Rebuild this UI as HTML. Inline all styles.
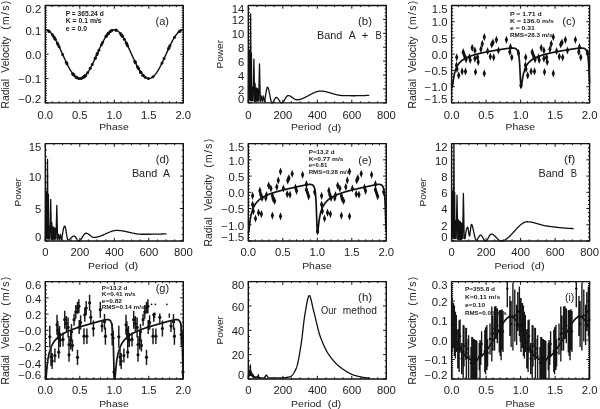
<!DOCTYPE html>
<html><head><meta charset="utf-8"><style>
html,body{margin:0;padding:0;background:#fff;}
svg{display:block;font-family:"Liberation Sans",sans-serif;filter:blur(0.35px);}
text{fill:#222;}
</style></head><body>
<svg width="600" height="409" viewBox="0 0 600 409">
<rect width="600" height="409" fill="#fff"/>
<path d="M45.3 102.9v-3.2M45.3 5.5v3.2M52.2 102.9v-1.6M52.2 5.5v1.6M59.1 102.9v-1.6M59.1 5.5v1.6M66 102.9v-1.6M66 5.5v1.6M72.9 102.9v-1.6M72.9 5.5v1.6M79.8 102.9v-3.2M79.8 5.5v3.2M86.7 102.9v-1.6M86.7 5.5v1.6M93.6 102.9v-1.6M93.6 5.5v1.6M100.5 102.9v-1.6M100.5 5.5v1.6M107.4 102.9v-1.6M107.4 5.5v1.6M114.3 102.9v-3.2M114.3 5.5v3.2M121.2 102.9v-1.6M121.2 5.5v1.6M128.1 102.9v-1.6M128.1 5.5v1.6M135 102.9v-1.6M135 5.5v1.6M141.9 102.9v-1.6M141.9 5.5v1.6M148.8 102.9v-3.2M148.8 5.5v3.2M155.7 102.9v-1.6M155.7 5.5v1.6M162.6 102.9v-1.6M162.6 5.5v1.6M169.5 102.9v-1.6M169.5 5.5v1.6M176.4 102.9v-1.6M176.4 5.5v1.6M183.3 102.9v-3.2M183.3 5.5v3.2M45.3 102.9h3.2M183.3 102.9h-3.2M45.3 100.47h1.6M183.3 100.47h-1.6M45.3 98.03h1.6M183.3 98.03h-1.6M45.3 95.59h1.6M183.3 95.59h-1.6M45.3 93.16h1.6M183.3 93.16h-1.6M45.3 90.73h1.6M183.3 90.73h-1.6M45.3 88.29h1.6M183.3 88.29h-1.6M45.3 85.86h1.6M183.3 85.86h-1.6M45.3 83.42h1.6M183.3 83.42h-1.6M45.3 80.99h1.6M183.3 80.99h-1.6M45.3 78.55h3.2M183.3 78.55h-3.2M45.3 76.12h1.6M183.3 76.12h-1.6M45.3 73.68h1.6M183.3 73.68h-1.6M45.3 71.25h1.6M183.3 71.25h-1.6M45.3 68.81h1.6M183.3 68.81h-1.6M45.3 66.38h1.6M183.3 66.38h-1.6M45.3 63.94h1.6M183.3 63.94h-1.6M45.3 61.51h1.6M183.3 61.51h-1.6M45.3 59.07h1.6M183.3 59.07h-1.6M45.3 56.64h1.6M183.3 56.64h-1.6M45.3 54.2h3.2M183.3 54.2h-3.2M45.3 51.77h1.6M183.3 51.77h-1.6M45.3 49.33h1.6M183.3 49.33h-1.6M45.3 46.89h1.6M183.3 46.89h-1.6M45.3 44.46h1.6M183.3 44.46h-1.6M45.3 42.03h1.6M183.3 42.03h-1.6M45.3 39.59h1.6M183.3 39.59h-1.6M45.3 37.16h1.6M183.3 37.16h-1.6M45.3 34.72h1.6M183.3 34.72h-1.6M45.3 32.28h1.6M183.3 32.28h-1.6M45.3 29.85h3.2M183.3 29.85h-3.2M45.3 27.42h1.6M183.3 27.42h-1.6M45.3 24.98h1.6M183.3 24.98h-1.6M45.3 22.55h1.6M183.3 22.55h-1.6M45.3 20.11h1.6M183.3 20.11h-1.6M45.3 17.68h1.6M183.3 17.68h-1.6M45.3 15.24h1.6M183.3 15.24h-1.6M45.3 12.81h1.6M183.3 12.81h-1.6M45.3 10.37h1.6M183.3 10.37h-1.6M45.3 7.94h1.6M183.3 7.94h-1.6M45.3 5.5h3.2M183.3 5.5h-3.2" stroke="#111" stroke-width="1" fill="none"/>
<rect x="45.3" y="5.5" width="138" height="97.4" fill="none" stroke="#111" stroke-width="1.4" stroke-linejoin="round"/>
<text x="45.3" y="118.8" font-size="10" text-anchor="middle" textLength="15.71" lengthAdjust="spacingAndGlyphs">0.0</text>
<text x="79.8" y="118.8" font-size="10" text-anchor="middle" textLength="15.71" lengthAdjust="spacingAndGlyphs">0.5</text>
<text x="114.3" y="118.8" font-size="10" text-anchor="middle" textLength="15.71" lengthAdjust="spacingAndGlyphs">1.0</text>
<text x="148.8" y="118.8" font-size="10" text-anchor="middle" textLength="15.71" lengthAdjust="spacingAndGlyphs">1.5</text>
<text x="183.3" y="118.8" font-size="10" text-anchor="middle" textLength="15.71" lengthAdjust="spacingAndGlyphs">2.0</text>
<text x="41.3" y="102.95" font-size="10" text-anchor="end" textLength="23" lengthAdjust="spacingAndGlyphs">−0.2</text>
<text x="41.3" y="83.3" font-size="10" text-anchor="end" textLength="23" lengthAdjust="spacingAndGlyphs">−0.1</text>
<text x="41.3" y="58.95" font-size="10" text-anchor="end" textLength="15.71" lengthAdjust="spacingAndGlyphs">0.0</text>
<text x="41.3" y="34.6" font-size="10" text-anchor="end" textLength="15.71" lengthAdjust="spacingAndGlyphs">0.1</text>
<text x="41.3" y="12.55" font-size="10" text-anchor="end" textLength="15.71" lengthAdjust="spacingAndGlyphs">0.2</text>
<text x="99.2" y="130.4" font-size="9.4" textLength="29.5" lengthAdjust="spacingAndGlyphs">Phase</text>
<text x="0" y="0" font-size="10.4" textLength="29.4" lengthAdjust="spacingAndGlyphs" transform="translate(9.2 108.45) rotate(-90)">Radial</text>
<text x="0" y="0" font-size="10.4" textLength="36.2" lengthAdjust="spacingAndGlyphs" transform="translate(9.2 72.65) rotate(-90)">Velocity</text>
<text x="0" y="0" font-size="10.4" textLength="29" lengthAdjust="spacing" transform="translate(9.2 29.75) rotate(-90)">(m/s)</text>
<path d="M45.3 29.85 L45.47 29.85 L45.64 29.86 L45.82 29.88 L45.99 29.9 L46.16 29.93 L46.33 29.96 L46.51 30 L46.68 30.04 L46.85 30.09 L47.02 30.15 L47.2 30.21 L47.37 30.28 L47.54 30.36 L47.71 30.44 L47.89 30.52 L48.06 30.62 L48.23 30.71 L48.4 30.82 L48.58 30.93 L48.75 31.04 L48.92 31.16 L49.09 31.29 L49.27 31.42 L49.44 31.56 L49.61 31.7 L49.78 31.85 L49.96 32.01 L50.13 32.17 L50.3 32.33 L50.47 32.5 L50.65 32.68 L50.82 32.86 L50.99 33.05 L51.16 33.24 L51.34 33.44 L51.51 33.64 L51.68 33.85 L51.85 34.06 L52.03 34.28 L52.2 34.5 L52.37 34.73 L52.54 34.96 L52.72 35.2 L52.89 35.44 L53.06 35.68 L53.23 35.93 L53.41 36.19 L53.58 36.45 L53.75 36.71 L53.92 36.98 L54.1 37.25 L54.27 37.53 L54.44 37.81 L54.61 38.1 L54.79 38.39 L54.96 38.68 L55.13 38.98 L55.3 39.28 L55.48 39.58 L55.65 39.89 L55.82 40.2 L55.99 40.51 L56.17 40.83 L56.34 41.15 L56.51 41.48 L56.68 41.8 L56.86 42.14 L57.03 42.47 L57.2 42.81 L57.38 43.15 L57.55 43.49 L57.72 43.83 L57.89 44.18 L58.06 44.53 L58.24 44.88 L58.41 45.24 L58.58 45.59 L58.75 45.95 L58.93 46.31 L59.1 46.68 L59.27 47.04 L59.45 47.41 L59.62 47.77 L59.79 48.14 L59.96 48.52 L60.13 48.89 L60.31 49.26 L60.48 49.64 L60.65 50.01 L60.82 50.39 L61 50.77 L61.17 51.15 L61.34 51.53 L61.52 51.91 L61.69 52.29 L61.86 52.67 L62.03 53.05 L62.2 53.44 L62.38 53.82 L62.55 54.2 L62.72 54.58 L62.89 54.96 L63.07 55.35 L63.24 55.73 L63.41 56.11 L63.58 56.49 L63.76 56.87 L63.93 57.25 L64.1 57.63 L64.28 58.01 L64.45 58.39 L64.62 58.76 L64.79 59.14 L64.97 59.51 L65.14 59.88 L65.31 60.26 L65.48 60.63 L65.66 60.99 L65.83 61.36 L66 61.72 L66.17 62.09 L66.34 62.45 L66.52 62.81 L66.69 63.16 L66.86 63.52 L67.03 63.87 L67.21 64.22 L67.38 64.57 L67.55 64.91 L67.72 65.25 L67.9 65.59 L68.07 65.93 L68.24 66.26 L68.41 66.6 L68.59 66.92 L68.76 67.25 L68.93 67.57 L69.11 67.89 L69.28 68.2 L69.45 68.51 L69.62 68.82 L69.79 69.12 L69.97 69.42 L70.14 69.72 L70.31 70.01 L70.48 70.3 L70.66 70.59 L70.83 70.87 L71 71.15 L71.17 71.42 L71.35 71.69 L71.52 71.95 L71.69 72.21 L71.86 72.47 L72.04 72.72 L72.21 72.96 L72.38 73.2 L72.56 73.44 L72.73 73.67 L72.9 73.9 L73.07 74.12 L73.25 74.34 L73.42 74.55 L73.59 74.76 L73.76 74.96 L73.94 75.16 L74.11 75.35 L74.28 75.54 L74.45 75.72 L74.62 75.9 L74.8 76.07 L74.97 76.23 L75.14 76.39 L75.31 76.55 L75.49 76.7 L75.66 76.84 L75.83 76.98 L76 77.11 L76.18 77.24 L76.35 77.36 L76.52 77.47 L76.69 77.58 L76.87 77.69 L77.04 77.78 L77.21 77.88 L77.38 77.96 L77.56 78.04 L77.73 78.12 L77.9 78.19 L78.08 78.25 L78.25 78.31 L78.42 78.36 L78.59 78.4 L78.76 78.44 L78.94 78.47 L79.11 78.5 L79.28 78.52 L79.45 78.54 L79.63 78.55 L79.8 78.55 L79.97 78.55 L80.14 78.54 L80.32 78.52 L80.49 78.5 L80.66 78.47 L80.84 78.44 L81.01 78.4 L81.18 78.36 L81.35 78.31 L81.53 78.25 L81.7 78.19 L81.87 78.12 L82.04 78.04 L82.22 77.96 L82.39 77.88 L82.56 77.78 L82.73 77.69 L82.91 77.58 L83.08 77.47 L83.25 77.36 L83.42 77.24 L83.59 77.11 L83.77 76.98 L83.94 76.84 L84.11 76.7 L84.28 76.55 L84.46 76.39 L84.63 76.23 L84.8 76.07 L84.97 75.9 L85.15 75.72 L85.32 75.54 L85.49 75.35 L85.66 75.16 L85.84 74.96 L86.01 74.76 L86.18 74.55 L86.35 74.34 L86.53 74.12 L86.7 73.9 L86.87 73.67 L87.04 73.44 L87.22 73.2 L87.39 72.96 L87.56 72.72 L87.73 72.47 L87.91 72.21 L88.08 71.95 L88.25 71.69 L88.42 71.42 L88.6 71.15 L88.77 70.87 L88.94 70.59 L89.11 70.3 L89.29 70.01 L89.46 69.72 L89.63 69.42 L89.81 69.12 L89.98 68.82 L90.15 68.51 L90.32 68.2 L90.5 67.89 L90.67 67.57 L90.84 67.25 L91.01 66.92 L91.19 66.6 L91.36 66.26 L91.53 65.93 L91.7 65.59 L91.88 65.25 L92.05 64.91 L92.22 64.57 L92.39 64.22 L92.56 63.87 L92.74 63.52 L92.91 63.16 L93.08 62.81 L93.25 62.45 L93.43 62.09 L93.6 61.72 L93.77 61.36 L93.94 60.99 L94.12 60.63 L94.29 60.26 L94.46 59.88 L94.63 59.51 L94.81 59.14 L94.98 58.76 L95.15 58.39 L95.32 58.01 L95.5 57.63 L95.67 57.25 L95.84 56.87 L96.01 56.49 L96.19 56.11 L96.36 55.73 L96.53 55.35 L96.7 54.96 L96.88 54.58 L97.05 54.2 L97.22 53.82 L97.39 53.44 L97.57 53.05 L97.74 52.67 L97.91 52.29 L98.09 51.91 L98.26 51.53 L98.43 51.15 L98.6 50.77 L98.78 50.39 L98.95 50.01 L99.12 49.64 L99.29 49.26 L99.47 48.89 L99.64 48.52 L99.81 48.14 L99.98 47.77 L100.16 47.41 L100.33 47.04 L100.5 46.68 L100.67 46.31 L100.84 45.95 L101.02 45.59 L101.19 45.24 L101.36 44.88 L101.53 44.53 L101.71 44.18 L101.88 43.83 L102.05 43.49 L102.22 43.15 L102.4 42.81 L102.57 42.47 L102.74 42.14 L102.91 41.8 L103.09 41.48 L103.26 41.15 L103.43 40.83 L103.6 40.51 L103.78 40.2 L103.95 39.89 L104.12 39.58 L104.29 39.28 L104.47 38.98 L104.64 38.68 L104.81 38.39 L104.98 38.1 L105.16 37.81 L105.33 37.53 L105.5 37.25 L105.67 36.98 L105.85 36.71 L106.02 36.45 L106.19 36.19 L106.36 35.93 L106.54 35.68 L106.71 35.44 L106.88 35.2 L107.06 34.96 L107.23 34.73 L107.4 34.5 L107.57 34.28 L107.75 34.06 L107.92 33.85 L108.09 33.64 L108.26 33.44 L108.44 33.24 L108.61 33.05 L108.78 32.86 L108.95 32.68 L109.12 32.5 L109.3 32.33 L109.47 32.17 L109.64 32.01 L109.81 31.85 L109.99 31.7 L110.16 31.56 L110.33 31.42 L110.5 31.29 L110.68 31.16 L110.85 31.04 L111.02 30.93 L111.2 30.82 L111.37 30.71 L111.54 30.62 L111.71 30.52 L111.88 30.44 L112.06 30.36 L112.23 30.28 L112.4 30.21 L112.57 30.15 L112.75 30.09 L112.92 30.04 L113.09 30 L113.27 29.96 L113.44 29.93 L113.61 29.9 L113.78 29.88 L113.95 29.86 L114.13 29.85 L114.3 29.85 L114.47 29.85 L114.65 29.86 L114.82 29.88 L114.99 29.9 L115.16 29.93 L115.34 29.96 L115.51 30 L115.68 30.04 L115.85 30.09 L116.02 30.15 L116.2 30.21 L116.37 30.28 L116.54 30.36 L116.71 30.44 L116.89 30.52 L117.06 30.62 L117.23 30.71 L117.4 30.82 L117.58 30.93 L117.75 31.04 L117.92 31.16 L118.09 31.29 L118.27 31.42 L118.44 31.56 L118.61 31.7 L118.78 31.85 L118.96 32.01 L119.13 32.17 L119.3 32.33 L119.47 32.5 L119.65 32.68 L119.82 32.86 L119.99 33.05 L120.16 33.24 L120.34 33.44 L120.51 33.64 L120.68 33.85 L120.85 34.06 L121.03 34.28 L121.2 34.5 L121.37 34.73 L121.55 34.96 L121.72 35.2 L121.89 35.44 L122.06 35.68 L122.23 35.93 L122.41 36.19 L122.58 36.45 L122.75 36.71 L122.92 36.98 L123.1 37.25 L123.27 37.53 L123.44 37.81 L123.61 38.1 L123.79 38.39 L123.96 38.68 L124.13 38.98 L124.3 39.28 L124.48 39.58 L124.65 39.89 L124.82 40.2 L125 40.51 L125.17 40.83 L125.34 41.15 L125.51 41.48 L125.69 41.8 L125.86 42.14 L126.03 42.47 L126.2 42.81 L126.38 43.15 L126.55 43.49 L126.72 43.83 L126.89 44.18 L127.06 44.53 L127.24 44.88 L127.41 45.24 L127.58 45.59 L127.75 45.95 L127.93 46.31 L128.1 46.68 L128.27 47.04 L128.44 47.41 L128.62 47.77 L128.79 48.14 L128.96 48.52 L129.13 48.89 L129.31 49.26 L129.48 49.64 L129.65 50.01 L129.82 50.39 L130 50.77 L130.17 51.15 L130.34 51.53 L130.51 51.91 L130.69 52.29 L130.86 52.67 L131.03 53.05 L131.2 53.44 L131.38 53.82 L131.55 54.2 L131.72 54.58 L131.9 54.96 L132.07 55.35 L132.24 55.73 L132.41 56.11 L132.59 56.49 L132.76 56.87 L132.93 57.25 L133.1 57.63 L133.28 58.01 L133.45 58.39 L133.62 58.76 L133.79 59.14 L133.96 59.51 L134.14 59.88 L134.31 60.26 L134.48 60.63 L134.65 60.99 L134.83 61.36 L135 61.72 L135.17 62.09 L135.34 62.45 L135.52 62.81 L135.69 63.16 L135.86 63.52 L136.03 63.87 L136.21 64.22 L136.38 64.57 L136.55 64.91 L136.72 65.25 L136.9 65.59 L137.07 65.93 L137.24 66.26 L137.41 66.6 L137.59 66.92 L137.76 67.25 L137.93 67.57 L138.1 67.89 L138.28 68.2 L138.45 68.51 L138.62 68.82 L138.8 69.12 L138.97 69.42 L139.14 69.72 L139.31 70.01 L139.49 70.3 L139.66 70.59 L139.83 70.87 L140 71.15 L140.18 71.42 L140.35 71.69 L140.52 71.95 L140.69 72.21 L140.87 72.47 L141.04 72.72 L141.21 72.96 L141.38 73.2 L141.56 73.44 L141.73 73.67 L141.9 73.9 L142.07 74.12 L142.25 74.34 L142.42 74.55 L142.59 74.76 L142.76 74.96 L142.94 75.16 L143.11 75.35 L143.28 75.54 L143.45 75.72 L143.62 75.9 L143.8 76.07 L143.97 76.23 L144.14 76.39 L144.31 76.55 L144.49 76.7 L144.66 76.84 L144.83 76.98 L145 77.11 L145.18 77.24 L145.35 77.36 L145.52 77.47 L145.69 77.58 L145.87 77.69 L146.04 77.78 L146.21 77.88 L146.38 77.96 L146.56 78.04 L146.73 78.12 L146.9 78.19 L147.07 78.25 L147.25 78.31 L147.42 78.36 L147.59 78.4 L147.76 78.44 L147.94 78.47 L148.11 78.5 L148.28 78.52 L148.45 78.54 L148.63 78.55 L148.8 78.55 L148.97 78.55 L149.15 78.54 L149.32 78.52 L149.49 78.5 L149.66 78.47 L149.84 78.44 L150.01 78.4 L150.18 78.36 L150.35 78.31 L150.53 78.25 L150.7 78.19 L150.87 78.12 L151.04 78.04 L151.22 77.96 L151.39 77.88 L151.56 77.78 L151.73 77.69 L151.9 77.58 L152.08 77.47 L152.25 77.36 L152.42 77.24 L152.59 77.11 L152.77 76.98 L152.94 76.84 L153.11 76.7 L153.28 76.55 L153.46 76.39 L153.63 76.23 L153.8 76.07 L153.97 75.9 L154.15 75.72 L154.32 75.54 L154.49 75.35 L154.66 75.16 L154.84 74.96 L155.01 74.76 L155.18 74.55 L155.35 74.34 L155.53 74.12 L155.7 73.9 L155.87 73.67 L156.05 73.44 L156.22 73.2 L156.39 72.96 L156.56 72.72 L156.74 72.47 L156.91 72.21 L157.08 71.95 L157.25 71.69 L157.43 71.42 L157.6 71.15 L157.77 70.87 L157.94 70.59 L158.12 70.3 L158.29 70.01 L158.46 69.72 L158.63 69.42 L158.81 69.12 L158.98 68.82 L159.15 68.51 L159.32 68.2 L159.5 67.89 L159.67 67.57 L159.84 67.25 L160.01 66.92 L160.19 66.6 L160.36 66.26 L160.53 65.93 L160.7 65.59 L160.88 65.25 L161.05 64.91 L161.22 64.57 L161.39 64.22 L161.56 63.87 L161.74 63.52 L161.91 63.16 L162.08 62.81 L162.25 62.45 L162.43 62.09 L162.6 61.72 L162.77 61.36 L162.94 60.99 L163.12 60.63 L163.29 60.26 L163.46 59.88 L163.63 59.51 L163.81 59.14 L163.98 58.76 L164.15 58.39 L164.32 58.01 L164.5 57.63 L164.67 57.25 L164.84 56.87 L165.01 56.49 L165.19 56.11 L165.36 55.73 L165.53 55.35 L165.7 54.96 L165.88 54.58 L166.05 54.2 L166.22 53.82 L166.4 53.44 L166.57 53.05 L166.74 52.67 L166.91 52.29 L167.09 51.91 L167.26 51.53 L167.43 51.15 L167.6 50.77 L167.78 50.39 L167.95 50.01 L168.12 49.64 L168.29 49.26 L168.47 48.89 L168.64 48.52 L168.81 48.14 L168.98 47.77 L169.15 47.41 L169.33 47.04 L169.5 46.68 L169.67 46.31 L169.84 45.95 L170.02 45.59 L170.19 45.24 L170.36 44.88 L170.53 44.53 L170.71 44.18 L170.88 43.83 L171.05 43.49 L171.22 43.15 L171.4 42.81 L171.57 42.47 L171.74 42.14 L171.91 41.8 L172.09 41.48 L172.26 41.15 L172.43 40.83 L172.6 40.51 L172.78 40.2 L172.95 39.89 L173.12 39.58 L173.3 39.28 L173.47 38.98 L173.64 38.68 L173.81 38.39 L173.99 38.1 L174.16 37.81 L174.33 37.53 L174.5 37.25 L174.68 36.98 L174.85 36.71 L175.02 36.45 L175.19 36.19 L175.37 35.93 L175.54 35.68 L175.71 35.44 L175.88 35.2 L176.06 34.96 L176.23 34.73 L176.4 34.5 L176.57 34.28 L176.75 34.06 L176.92 33.85 L177.09 33.64 L177.26 33.44 L177.44 33.24 L177.61 33.05 L177.78 32.86 L177.95 32.68 L178.12 32.5 L178.3 32.33 L178.47 32.17 L178.64 32.01 L178.81 31.85 L178.99 31.7 L179.16 31.56 L179.33 31.42 L179.5 31.29 L179.68 31.16 L179.85 31.04 L180.02 30.93 L180.19 30.82 L180.37 30.71 L180.54 30.62 L180.71 30.52 L180.88 30.44 L181.06 30.36 L181.23 30.28 L181.4 30.21 L181.57 30.15 L181.75 30.09 L181.92 30.04 L182.09 30 L182.26 29.96 L182.44 29.93 L182.61 29.9 L182.78 29.88 L182.95 29.86 L183.13 29.85 L183.3 29.85" fill="none" stroke="#111" stroke-width="1.45" stroke-linejoin="round"/>
<g fill="#111"><circle cx="48.61" cy="30.95" r="1.5"/><circle cx="49.42" cy="31.55" r="1.5"/><circle cx="52.4" cy="34.77" r="1.5"/><circle cx="53.79" cy="36.77" r="1.5"/><circle cx="54.54" cy="37.98" r="1.5"/><circle cx="55.31" cy="39.29" r="1.5"/><circle cx="57.34" cy="43.07" r="1.5"/><circle cx="58.03" cy="44.45" r="1.5"/><circle cx="59.11" cy="46.71" r="1.5"/><circle cx="62.63" cy="54.38" r="1.5"/><circle cx="66.26" cy="62.26" r="1.5"/><circle cx="66.95" cy="63.69" r="1.5"/><circle cx="72.76" cy="73.71" r="1.5"/><circle cx="73.09" cy="74.14" r="1.5"/><circle cx="73.65" cy="74.83" r="1.5"/><circle cx="73.9" cy="75.12" r="1.5"/><circle cx="75.93" cy="77.05" r="1.5"/><circle cx="76.36" cy="77.36" r="1.5"/><circle cx="77.12" cy="77.83" r="1.5"/><circle cx="78.79" cy="78.45" r="1.5"/><circle cx="81.08" cy="78.39" r="1.5"/><circle cx="82.45" cy="77.84" r="1.5"/><circle cx="83.66" cy="77.06" r="1.5"/><circle cx="83.73" cy="77.01" r="1.5"/><circle cx="84.42" cy="76.43" r="1.5"/><circle cx="84.43" cy="76.42" r="1.5"/><circle cx="85.44" cy="75.4" r="1.5"/><circle cx="85.57" cy="75.27" r="1.5"/><circle cx="87.58" cy="72.69" r="1.5"/><circle cx="90.26" cy="68.31" r="1.5"/><circle cx="92.2" cy="64.61" r="1.5"/><circle cx="95.2" cy="58.29" r="1.5"/><circle cx="95.28" cy="58.11" r="1.5"/><circle cx="96.86" cy="54.63" r="1.5"/><circle cx="97.46" cy="53.28" r="1.5"/><circle cx="98.84" cy="50.25" r="1.5"/><circle cx="101.4" cy="44.81" r="1.5"/><circle cx="102.58" cy="42.44" r="1.5"/><circle cx="106.08" cy="36.35" r="1.5"/><circle cx="106.13" cy="36.28" r="1.5"/><circle cx="106.73" cy="35.41" r="1.5"/><circle cx="108.04" cy="33.7" r="1.5"/><circle cx="108.34" cy="33.35" r="1.5"/><circle cx="108.46" cy="33.21" r="1.5"/><circle cx="110.01" cy="31.68" r="1.5"/><circle cx="110.86" cy="31.03" r="1.5"/><circle cx="112.03" cy="30.37" r="1.5"/><circle cx="115.79" cy="30.08" r="1.5"/><circle cx="116.24" cy="30.23" r="1.5"/><circle cx="120.46" cy="33.58" r="1.5"/><circle cx="121.31" cy="34.64" r="1.5"/><circle cx="122.28" cy="36" r="1.5"/><circle cx="122.42" cy="36.21" r="1.5"/><circle cx="124.35" cy="39.35" r="1.5"/><circle cx="126.2" cy="42.81" r="1.5"/><circle cx="126.84" cy="44.07" r="1.5"/><circle cx="127.64" cy="45.71" r="1.5"/><circle cx="134.88" cy="61.48" r="1.5"/><circle cx="135.07" cy="61.86" r="1.5"/><circle cx="135.47" cy="62.71" r="1.5"/><circle cx="137.5" cy="66.76" r="1.5"/><circle cx="138.09" cy="67.86" r="1.5"/><circle cx="138.62" cy="68.82" r="1.5"/><circle cx="140.41" cy="71.78" r="1.5"/><circle cx="140.67" cy="72.18" r="1.5"/><circle cx="140.72" cy="72.26" r="1.5"/><circle cx="140.95" cy="72.59" r="1.5"/><circle cx="142.96" cy="75.19" r="1.5"/><circle cx="143.02" cy="75.26" r="1.5"/><circle cx="145.2" cy="77.26" r="1.5"/><circle cx="148.35" cy="78.53" r="1.5"/><circle cx="152.98" cy="76.8" r="1.5"/><circle cx="162.01" cy="62.95" r="1.5"/><circle cx="164.05" cy="58.6" r="1.5"/><circle cx="168.53" cy="48.75" r="1.5"/><circle cx="168.99" cy="47.76" r="1.5"/><circle cx="169.89" cy="45.86" r="1.5"/><circle cx="174.52" cy="37.23" r="1.5"/><circle cx="179.38" cy="31.38" r="1.5"/><circle cx="179.99" cy="30.95" r="1.5"/></g>
<text x="65.7" y="15.9" font-size="6.3" font-weight="bold" textLength="38" lengthAdjust="spacingAndGlyphs" fill="#2a2a2a">P = 365.24 d</text>
<text x="65.7" y="23.2" font-size="6.3" font-weight="bold" textLength="36" lengthAdjust="spacingAndGlyphs" fill="#2a2a2a">K = 0.1 m/s</text>
<text x="65.7" y="30.5" font-size="6.3" font-weight="bold" textLength="21.3" lengthAdjust="spacingAndGlyphs" fill="#2a2a2a">e = 0.0</text>
<text x="155.5" y="24.8" font-size="11.5" textLength="13.5" lengthAdjust="spacingAndGlyphs">(a)</text>
<path d="M248.3 102.9v-3.2M248.3 5.5v3.2M256.93 102.9v-1.6M256.93 5.5v1.6M265.55 102.9v-1.6M265.55 5.5v1.6M274.18 102.9v-1.6M274.18 5.5v1.6M282.8 102.9v-3.2M282.8 5.5v3.2M291.43 102.9v-1.6M291.43 5.5v1.6M300.05 102.9v-1.6M300.05 5.5v1.6M308.68 102.9v-1.6M308.68 5.5v1.6M317.3 102.9v-3.2M317.3 5.5v3.2M325.93 102.9v-1.6M325.93 5.5v1.6M334.55 102.9v-1.6M334.55 5.5v1.6M343.18 102.9v-1.6M343.18 5.5v1.6M351.8 102.9v-3.2M351.8 5.5v3.2M360.43 102.9v-1.6M360.43 5.5v1.6M369.05 102.9v-1.6M369.05 5.5v1.6M377.68 102.9v-1.6M377.68 5.5v1.6M386.3 102.9v-3.2M386.3 5.5v3.2M248.3 102.9h3.2M386.3 102.9h-3.2M248.3 99.42h1.6M386.3 99.42h-1.6M248.3 95.94h1.6M386.3 95.94h-1.6M248.3 92.46h1.6M386.3 92.46h-1.6M248.3 88.99h3.2M386.3 88.99h-3.2M248.3 85.51h1.6M386.3 85.51h-1.6M248.3 82.03h1.6M386.3 82.03h-1.6M248.3 78.55h1.6M386.3 78.55h-1.6M248.3 75.07h3.2M386.3 75.07h-3.2M248.3 71.59h1.6M386.3 71.59h-1.6M248.3 68.11h1.6M386.3 68.11h-1.6M248.3 64.64h1.6M386.3 64.64h-1.6M248.3 61.16h3.2M386.3 61.16h-3.2M248.3 57.68h1.6M386.3 57.68h-1.6M248.3 54.2h1.6M386.3 54.2h-1.6M248.3 50.72h1.6M386.3 50.72h-1.6M248.3 47.24h3.2M386.3 47.24h-3.2M248.3 43.76h1.6M386.3 43.76h-1.6M248.3 40.29h1.6M386.3 40.29h-1.6M248.3 36.81h1.6M386.3 36.81h-1.6M248.3 33.33h3.2M386.3 33.33h-3.2M248.3 29.85h1.6M386.3 29.85h-1.6M248.3 26.37h1.6M386.3 26.37h-1.6M248.3 22.89h1.6M386.3 22.89h-1.6M248.3 19.41h3.2M386.3 19.41h-3.2M248.3 15.94h1.6M386.3 15.94h-1.6M248.3 12.46h1.6M386.3 12.46h-1.6M248.3 8.98h1.6M386.3 8.98h-1.6M248.3 5.5h3.2M386.3 5.5h-3.2" stroke="#111" stroke-width="1" fill="none"/>
<rect x="248.3" y="5.5" width="138" height="97.4" fill="none" stroke="#111" stroke-width="1.4" stroke-linejoin="round"/>
<text x="248.3" y="118.8" font-size="10" text-anchor="middle" textLength="6.28" lengthAdjust="spacingAndGlyphs">0</text>
<text x="282.8" y="118.8" font-size="10" text-anchor="middle" textLength="18.85" lengthAdjust="spacingAndGlyphs">200</text>
<text x="317.3" y="118.8" font-size="10" text-anchor="middle" textLength="18.85" lengthAdjust="spacingAndGlyphs">400</text>
<text x="351.8" y="118.8" font-size="10" text-anchor="middle" textLength="18.85" lengthAdjust="spacingAndGlyphs">600</text>
<text x="386.3" y="118.8" font-size="10" text-anchor="middle" textLength="18.85" lengthAdjust="spacingAndGlyphs">800</text>
<text x="244.3" y="102.95" font-size="10" text-anchor="end" textLength="6.28" lengthAdjust="spacingAndGlyphs">0</text>
<text x="244.3" y="93.74" font-size="10" text-anchor="end" textLength="6.28" lengthAdjust="spacingAndGlyphs">2</text>
<text x="244.3" y="79.82" font-size="10" text-anchor="end" textLength="6.28" lengthAdjust="spacingAndGlyphs">4</text>
<text x="244.3" y="65.91" font-size="10" text-anchor="end" textLength="6.28" lengthAdjust="spacingAndGlyphs">6</text>
<text x="244.3" y="51.99" font-size="10" text-anchor="end" textLength="6.28" lengthAdjust="spacingAndGlyphs">8</text>
<text x="244.3" y="38.08" font-size="10" text-anchor="end" textLength="12.57" lengthAdjust="spacingAndGlyphs">10</text>
<text x="244.3" y="24.16" font-size="10" text-anchor="end" textLength="12.57" lengthAdjust="spacingAndGlyphs">12</text>
<text x="244.3" y="12.55" font-size="10" text-anchor="end" textLength="12.57" lengthAdjust="spacingAndGlyphs">14</text>
<text x="291.1" y="130.4" font-size="9.4" textLength="30.3" lengthAdjust="spacingAndGlyphs">Period</text>
<text x="327.8" y="130.7" font-size="9.8" textLength="13.5" lengthAdjust="spacingAndGlyphs">(d)</text>
<text x="0" y="0" font-size="9.5" text-anchor="middle" textLength="28.5" lengthAdjust="spacingAndGlyphs" transform="translate(223 54.2) rotate(-90)">Power</text>
<path d="M248.3 102.9 L248.4 99.42 L248.68 50.03 L248.97 99.42 L249.25 50.03 L249.53 99.42 L249.82 50.03 L250 100.81 L250.6 13.85 L251.2 100.81 L251.2 99.42 L251.45 52.81 L251.7 100.81 L252.23 86.9 L252.77 100.81 L253.1 100.81 L253.9 59.07 L254.7 100.81 L254.7 101.51 L255.1 83.42 L255.5 101.51 L255.9 100.81 L256.38 87.93 L256.87 100.81 L257.35 88.6 L257.83 100.81 L258.32 89.28 L258.7 100.81 L259.5 63.94 L260.3 100.81 L260.3 101.51 L261.3 95.94 L262.3 101.51 L263.3 95.94 L264.3 101.51 L264.8 101.51 L265.1 99.02 L265.4 96.67 L265.7 94.5 L266 92.54 L266.3 90.83 L266.6 89.4 L266.9 88.3 L267.2 87.55 L267.5 87.2 L267.8 87.27 L268.1 87.74 L268.4 88.55 L268.7 89.63 L269 90.94 L269.3 92.4 L269.6 93.97 L269.9 95.57 L270.2 97.16 L270.5 98.66 L270.8 100.03 L271.1 101.2 L271.4 102.1 L271.7 102.69 L272 102.9 L272.3 102.82 L272.6 102.61 L272.9 102.28 L273.2 101.85 L273.5 101.36 L273.8 100.82 L274.1 100.25 L274.4 99.67 L274.7 99.12 L275 98.61 L275.3 98.16 L275.6 97.79 L275.9 97.54 L276.2 97.41 L276.5 97.43 L276.8 97.54 L277.1 97.73 L277.4 98 L277.7 98.32 L278 98.7 L278.3 99.11 L278.6 99.55 L278.9 100 L279.2 100.46 L279.5 100.91 L279.8 101.34 L280.1 101.74 L280.4 102.1 L280.7 102.4 L281 102.65 L281.3 102.81 L281.6 102.89 L281.9 102.88 L282.2 102.78 L282.5 102.59 L282.8 102.34 L283.1 102.02 L283.4 101.65 L283.7 101.24 L284 100.78 L284.3 100.3 L284.6 99.81 L284.9 99.3 L285.2 98.79 L285.5 98.29 L285.8 97.8 L286.1 97.34 L286.4 96.91 L286.7 96.52 L287 96.19 L287.3 95.91 L287.6 95.7 L287.9 95.57 L288.2 95.53 L288.5 95.54 L288.8 95.58 L289.1 95.66 L289.4 95.75 L289.7 95.87 L290 96.01 L290.3 96.16 L290.6 96.33 L290.9 96.52 L291.2 96.71 L291.5 96.92 L291.8 97.13 L292.1 97.35 L292.4 97.57 L292.7 97.8 L293 98.02 L293.3 98.23 L293.6 98.44 L293.9 98.65 L294.2 98.84 L294.5 99.02 L294.8 99.19 L295.1 99.34 L295.4 99.47 L295.7 99.58 L296 99.67 L296.3 99.73 L296.6 99.76 L296.9 99.77 L297.2 99.76 L297.5 99.75 L297.8 99.72 L298.1 99.69 L298.4 99.66 L298.7 99.61 L299 99.56 L299.3 99.5 L299.6 99.44 L299.9 99.37 L300.2 99.29 L300.5 99.21 L300.8 99.12 L301.1 99.03 L301.4 98.93 L301.7 98.82 L302 98.71 L302.3 98.6 L302.6 98.48 L302.9 98.36 L303.2 98.23 L303.5 98.1 L303.8 97.97 L304.1 97.83 L304.4 97.69 L304.7 97.55 L305 97.4 L305.3 97.25 L305.6 97.1 L305.9 96.95 L306.2 96.79 L306.5 96.63 L306.8 96.48 L307.1 96.32 L307.4 96.15 L307.7 95.99 L308 95.83 L308.3 95.67 L308.6 95.5 L308.9 95.34 L309.2 95.18 L309.5 95.01 L309.8 94.85 L310.1 94.69 L310.4 94.53 L310.7 94.37 L311 94.21 L311.3 94.05 L311.6 93.9 L311.9 93.74 L312.2 93.59 L312.5 93.44 L312.8 93.3 L313.1 93.15 L313.4 93.01 L313.7 92.87 L314 92.74 L314.3 92.61 L314.6 92.48 L314.9 92.36 L315.2 92.24 L315.5 92.13 L315.8 92.02 L316.1 91.92 L316.4 91.82 L316.7 91.72 L317 91.63 L317.3 91.55 L317.6 91.47 L317.9 91.4 L318.2 91.34 L318.5 91.28 L318.8 91.23 L319.1 91.18 L319.4 91.15 L319.7 91.12 L320 91.09 L320.3 91.08 L320.6 91.07 L320.9 91.07 L321.2 91.08 L321.5 91.09 L321.8 91.11 L322.1 91.13 L322.4 91.15 L322.7 91.18 L323 91.21 L323.3 91.25 L323.6 91.29 L323.9 91.33 L324.2 91.38 L324.5 91.43 L324.8 91.48 L325.1 91.54 L325.4 91.6 L325.7 91.67 L326 91.73 L326.3 91.8 L326.6 91.87 L326.9 91.95 L327.2 92.02 L327.5 92.1 L327.8 92.18 L328.1 92.26 L328.4 92.34 L328.7 92.43 L329 92.51 L329.3 92.6 L329.6 92.69 L329.9 92.78 L330.2 92.87 L330.5 92.96 L330.8 93.05 L331.1 93.14 L331.4 93.23 L331.7 93.32 L332 93.41 L332.3 93.51 L332.6 93.6 L332.9 93.69 L333.2 93.78 L333.5 93.87 L333.8 93.96 L334.1 94.04 L334.4 94.13 L334.7 94.22 L335 94.3 L335.3 94.38 L335.6 94.46 L335.9 94.54 L336.2 94.62 L336.5 94.69 L336.8 94.77 L337.1 94.84 L337.4 94.9 L337.7 94.97 L338 95.03 L338.3 95.09 L338.6 95.15 L338.9 95.2 L339.2 95.25 L339.5 95.29 L339.8 95.34 L340.1 95.38 L340.4 95.41 L340.7 95.44 L341 95.47 L341.3 95.49 L341.6 95.51 L341.9 95.52 L342.2 95.53 L342.5 95.54 L342.8 95.55 L343.1 95.56 L343.4 95.57 L343.7 95.58 L344 95.59 L344.3 95.59 L344.6 95.6 L344.9 95.61 L345.2 95.62 L345.5 95.63 L345.8 95.63 L346.1 95.64 L346.4 95.65 L346.7 95.65 L347 95.66 L347.3 95.67 L347.6 95.67 L347.9 95.68 L348.2 95.68 L348.5 95.69 L348.8 95.69 L349.1 95.7 L349.4 95.7 L349.7 95.71 L350 95.71 L350.3 95.72 L350.6 95.72 L350.9 95.72 L351.2 95.73 L351.5 95.73 L351.8 95.73 L352.1 95.73 L352.4 95.73 L352.7 95.73 L353 95.73 L353.3 95.73 L353.6 95.73 L353.9 95.73 L354.2 95.73 L354.5 95.73 L354.8 95.73 L355.1 95.73 L355.4 95.73 L355.7 95.72 L356 95.72 L356.3 95.72 L356.6 95.72 L356.9 95.71 L357.2 95.71 L357.5 95.71 L357.8 95.7 L358.1 95.7 L358.4 95.69 L358.7 95.69 L359 95.68 L359.3 95.68 L359.6 95.67 L359.9 95.66 L360.2 95.66 L360.5 95.65 L360.8 95.64 L361.1 95.64 L361.4 95.63 L361.7 95.62 L362 95.61 L362.3 95.6 L362.6 95.6 L362.9 95.59 L363.2 95.58 L363.5 95.57 L363.8 95.56 L364.1 95.55 L364.4 95.54 L364.7 95.53 L365 95.51 L365.3 95.5 L365.6 95.49 L365.9 95.48 L366.2 95.47 L366.5 95.45 L366.8 95.44 L367.1 95.43 L367.4 95.41 L367.7 95.4 L368 95.39 L368.3 95.37 L368.6 95.36 L368.9 95.34 L369.2 95.33" fill="none" stroke="#111" stroke-width="1.3" stroke-linejoin="round"/>
<text x="358" y="25.2" font-size="11.5" textLength="14" lengthAdjust="spacingAndGlyphs">(b)</text>
<text x="317.1" y="38.6" font-size="11" textLength="25.3" lengthAdjust="spacingAndGlyphs">Band</text>
<text x="348.75" y="38.6" font-size="11" textLength="7" lengthAdjust="spacingAndGlyphs">A</text>
<text x="361.4" y="38.6" font-size="11" textLength="7" lengthAdjust="spacingAndGlyphs">+</text>
<text x="375.4" y="38.6" font-size="11" textLength="6.3" lengthAdjust="spacingAndGlyphs">B</text>
<path d="M451.6 102.9v-3.2M451.6 5.5v3.2M458.5 102.9v-1.6M458.5 5.5v1.6M465.4 102.9v-1.6M465.4 5.5v1.6M472.3 102.9v-1.6M472.3 5.5v1.6M479.2 102.9v-1.6M479.2 5.5v1.6M486.1 102.9v-3.2M486.1 5.5v3.2M493 102.9v-1.6M493 5.5v1.6M499.9 102.9v-1.6M499.9 5.5v1.6M506.8 102.9v-1.6M506.8 5.5v1.6M513.7 102.9v-1.6M513.7 5.5v1.6M520.6 102.9v-3.2M520.6 5.5v3.2M527.5 102.9v-1.6M527.5 5.5v1.6M534.4 102.9v-1.6M534.4 5.5v1.6M541.3 102.9v-1.6M541.3 5.5v1.6M548.2 102.9v-1.6M548.2 5.5v1.6M555.1 102.9v-3.2M555.1 5.5v3.2M562 102.9v-1.6M562 5.5v1.6M568.9 102.9v-1.6M568.9 5.5v1.6M575.8 102.9v-1.6M575.8 5.5v1.6M582.7 102.9v-1.6M582.7 5.5v1.6M589.6 102.9v-3.2M589.6 5.5v3.2M451.6 102.9h3.2M589.6 102.9h-3.2M451.6 99.65h1.6M589.6 99.65h-1.6M451.6 96.41h1.6M589.6 96.41h-1.6M451.6 93.16h1.6M589.6 93.16h-1.6M451.6 89.91h1.6M589.6 89.91h-1.6M451.6 86.67h3.2M589.6 86.67h-3.2M451.6 83.42h1.6M589.6 83.42h-1.6M451.6 80.17h1.6M589.6 80.17h-1.6M451.6 76.93h1.6M589.6 76.93h-1.6M451.6 73.68h1.6M589.6 73.68h-1.6M451.6 70.43h3.2M589.6 70.43h-3.2M451.6 67.19h1.6M589.6 67.19h-1.6M451.6 63.94h1.6M589.6 63.94h-1.6M451.6 60.69h1.6M589.6 60.69h-1.6M451.6 57.45h1.6M589.6 57.45h-1.6M451.6 54.2h3.2M589.6 54.2h-3.2M451.6 50.95h1.6M589.6 50.95h-1.6M451.6 47.71h1.6M589.6 47.71h-1.6M451.6 44.46h1.6M589.6 44.46h-1.6M451.6 41.21h1.6M589.6 41.21h-1.6M451.6 37.97h3.2M589.6 37.97h-3.2M451.6 34.72h1.6M589.6 34.72h-1.6M451.6 31.47h1.6M589.6 31.47h-1.6M451.6 28.23h1.6M589.6 28.23h-1.6M451.6 24.98h1.6M589.6 24.98h-1.6M451.6 21.73h3.2M589.6 21.73h-3.2M451.6 18.49h1.6M589.6 18.49h-1.6M451.6 15.24h1.6M589.6 15.24h-1.6M451.6 11.99h1.6M589.6 11.99h-1.6M451.6 8.75h1.6M589.6 8.75h-1.6M451.6 5.5h3.2M589.6 5.5h-3.2" stroke="#111" stroke-width="1" fill="none"/>
<rect x="451.6" y="5.5" width="138" height="97.4" fill="none" stroke="#111" stroke-width="1.4" stroke-linejoin="round"/>
<text x="451.6" y="118.8" font-size="10" text-anchor="middle" textLength="15.71" lengthAdjust="spacingAndGlyphs">0.0</text>
<text x="486.1" y="118.8" font-size="10" text-anchor="middle" textLength="15.71" lengthAdjust="spacingAndGlyphs">0.5</text>
<text x="520.6" y="118.8" font-size="10" text-anchor="middle" textLength="15.71" lengthAdjust="spacingAndGlyphs">1.0</text>
<text x="555.1" y="118.8" font-size="10" text-anchor="middle" textLength="15.71" lengthAdjust="spacingAndGlyphs">1.5</text>
<text x="589.6" y="118.8" font-size="10" text-anchor="middle" textLength="15.71" lengthAdjust="spacingAndGlyphs">2.0</text>
<text x="447.6" y="102.95" font-size="10" text-anchor="end" textLength="23" lengthAdjust="spacingAndGlyphs">−1.5</text>
<text x="447.6" y="91.42" font-size="10" text-anchor="end" textLength="23" lengthAdjust="spacingAndGlyphs">−1.0</text>
<text x="447.6" y="75.18" font-size="10" text-anchor="end" textLength="23" lengthAdjust="spacingAndGlyphs">−0.5</text>
<text x="447.6" y="58.95" font-size="10" text-anchor="end" textLength="15.71" lengthAdjust="spacingAndGlyphs">0.0</text>
<text x="447.6" y="42.72" font-size="10" text-anchor="end" textLength="15.71" lengthAdjust="spacingAndGlyphs">0.5</text>
<text x="447.6" y="26.48" font-size="10" text-anchor="end" textLength="15.71" lengthAdjust="spacingAndGlyphs">1.0</text>
<text x="447.6" y="12.55" font-size="10" text-anchor="end" textLength="15.71" lengthAdjust="spacingAndGlyphs">1.5</text>
<text x="505.5" y="130.4" font-size="9.4" textLength="29.5" lengthAdjust="spacingAndGlyphs">Phase</text>
<text x="0" y="0" font-size="10.4" textLength="29.4" lengthAdjust="spacingAndGlyphs" transform="translate(415.6 108.45) rotate(-90)">Radial</text>
<text x="0" y="0" font-size="10.4" textLength="36.2" lengthAdjust="spacingAndGlyphs" transform="translate(415.6 72.65) rotate(-90)">Velocity</text>
<text x="0" y="0" font-size="10.4" textLength="29" lengthAdjust="spacing" transform="translate(415.6 29.75) rotate(-90)">(m/s)</text>
<path d="M451.6 82.89 L451.69 84.27 L451.77 85.4 L451.86 86.27 L451.95 86.87 L452.03 87.21 L452.12 87.33 L452.2 87.25 L452.29 87.01 L452.38 86.64 L452.46 86.18 L452.55 85.64 L452.64 85.05 L452.72 84.43 L452.81 83.78 L452.89 83.14 L452.98 82.49 L453.07 81.85 L453.15 81.22 L453.24 80.6 L453.33 80 L453.41 79.42 L453.5 78.85 L453.58 78.31 L453.67 77.78 L453.76 77.27 L453.84 76.78 L453.93 76.3 L454.02 75.85 L454.1 75.41 L454.19 74.98 L454.27 74.57 L454.36 74.17 L454.45 73.79 L454.53 73.42 L454.62 73.07 L454.71 72.72 L454.79 72.39 L454.88 72.07 L454.96 71.75 L455.05 71.45 L455.14 71.16 L455.22 70.87 L455.31 70.6 L455.4 70.33 L455.48 70.07 L455.57 69.82 L455.65 69.57 L455.74 69.33 L455.83 69.1 L455.91 68.88 L456 68.66 L456.09 68.44 L456.17 68.23 L456.26 68.03 L456.34 67.83 L456.43 67.64 L456.52 67.45 L456.6 67.26 L456.69 67.08 L456.78 66.91 L456.86 66.74 L456.95 66.57 L457.03 66.4 L457.12 66.24 L457.21 66.08 L457.29 65.93 L457.38 65.78 L457.47 65.63 L457.55 65.48 L457.64 65.34 L457.72 65.2 L457.81 65.07 L457.9 64.93 L457.98 64.8 L458.07 64.67 L458.16 64.54 L458.24 64.42 L458.33 64.3 L458.41 64.18 L458.5 64.06 L458.59 63.94 L458.67 63.83 L458.76 63.72 L458.85 63.61 L458.93 63.5 L459.02 63.39 L459.1 63.29 L459.19 63.18 L459.28 63.08 L459.36 62.98 L459.45 62.88 L459.54 62.78 L459.62 62.69 L459.71 62.59 L459.79 62.5 L459.88 62.41 L459.97 62.32 L460.05 62.23 L460.14 62.14 L460.23 62.05 L460.31 61.97 L460.4 61.88 L460.48 61.8 L460.57 61.72 L460.66 61.64 L460.74 61.56 L460.83 61.48 L460.92 61.4 L461 61.32 L461.09 61.25 L461.17 61.17 L461.26 61.1 L461.35 61.02 L461.43 60.95 L461.52 60.88 L461.61 60.81 L461.69 60.74 L461.78 60.67 L461.86 60.6 L461.95 60.53 L462.04 60.47 L462.12 60.4 L462.21 60.34 L462.3 60.27 L462.38 60.21 L462.47 60.14 L462.55 60.08 L462.64 60.02 L462.73 59.96 L462.81 59.9 L462.9 59.84 L462.99 59.78 L463.07 59.72 L463.16 59.66 L463.24 59.6 L463.33 59.54 L463.42 59.49 L463.5 59.43 L463.59 59.38 L463.68 59.32 L463.76 59.27 L463.85 59.21 L463.93 59.16 L464.02 59.11 L464.11 59.05 L464.19 59 L464.28 58.95 L464.37 58.9 L464.45 58.85 L464.54 58.8 L464.62 58.75 L464.71 58.7 L464.8 58.65 L464.88 58.6 L464.97 58.55 L465.06 58.51 L465.14 58.46 L465.23 58.41 L465.31 58.36 L465.4 58.32 L465.49 58.27 L465.57 58.23 L465.66 58.18 L465.75 58.14 L465.83 58.09 L465.92 58.05 L466 58 L466.09 57.96 L466.18 57.92 L466.26 57.87 L466.35 57.83 L466.44 57.79 L466.52 57.75 L466.61 57.71 L466.69 57.67 L466.78 57.62 L466.87 57.58 L466.95 57.54 L467.04 57.5 L467.12 57.46 L467.21 57.42 L467.3 57.38 L467.38 57.35 L467.47 57.31 L467.56 57.27 L467.64 57.23 L467.73 57.19 L467.81 57.15 L467.9 57.12 L467.99 57.08 L468.07 57.04 L468.16 57.01 L468.25 56.97 L468.33 56.93 L468.42 56.9 L468.5 56.86 L468.59 56.83 L468.68 56.79 L468.76 56.76 L468.85 56.72 L468.94 56.69 L469.02 56.65 L469.11 56.62 L469.2 56.58 L469.28 56.55 L469.37 56.52 L469.45 56.48 L469.54 56.45 L469.63 56.41 L469.71 56.38 L469.8 56.35 L469.89 56.32 L469.97 56.28 L470.06 56.25 L470.14 56.22 L470.23 56.19 L470.32 56.16 L470.4 56.12 L470.49 56.09 L470.58 56.06 L470.66 56.03 L470.75 56 L470.83 55.97 L470.92 55.94 L471.01 55.91 L471.09 55.88 L471.18 55.85 L471.27 55.82 L471.35 55.79 L471.44 55.76 L471.52 55.73 L471.61 55.7 L471.7 55.67 L471.78 55.64 L471.87 55.61 L471.96 55.58 L472.04 55.56 L472.13 55.53 L472.21 55.5 L472.3 55.47 L472.39 55.44 L472.47 55.41 L472.56 55.39 L472.65 55.36 L472.73 55.33 L472.82 55.3 L472.9 55.28 L472.99 55.25 L473.08 55.22 L473.16 55.2 L473.25 55.17 L473.34 55.14 L473.42 55.12 L473.51 55.09 L473.59 55.06 L473.68 55.04 L473.77 55.01 L473.85 54.98 L473.94 54.96 L474.03 54.93 L474.11 54.91 L474.2 54.88 L474.28 54.86 L474.37 54.83 L474.46 54.81 L474.54 54.78 L474.63 54.76 L474.72 54.73 L474.8 54.71 L474.89 54.68 L474.97 54.66 L475.06 54.63 L475.15 54.61 L475.23 54.58 L475.32 54.56 L475.41 54.53 L475.49 54.51 L475.58 54.49 L475.66 54.46 L475.75 54.44 L475.84 54.41 L475.92 54.39 L476.01 54.37 L476.1 54.34 L476.18 54.32 L476.27 54.3 L476.35 54.27 L476.44 54.25 L476.53 54.23 L476.61 54.21 L476.7 54.18 L476.79 54.16 L476.87 54.14 L476.96 54.11 L477.04 54.09 L477.13 54.07 L477.22 54.05 L477.3 54.02 L477.39 54 L477.48 53.98 L477.56 53.96 L477.65 53.94 L477.73 53.91 L477.82 53.89 L477.91 53.87 L477.99 53.85 L478.08 53.83 L478.17 53.81 L478.25 53.78 L478.34 53.76 L478.42 53.74 L478.51 53.72 L478.6 53.7 L478.68 53.68 L478.77 53.66 L478.86 53.63 L478.94 53.61 L479.03 53.59 L479.11 53.57 L479.2 53.55 L479.29 53.53 L479.37 53.51 L479.46 53.49 L479.55 53.47 L479.63 53.45 L479.72 53.43 L479.8 53.41 L479.89 53.39 L479.98 53.37 L480.06 53.35 L480.15 53.33 L480.24 53.31 L480.32 53.29 L480.41 53.27 L480.49 53.25 L480.58 53.23 L480.67 53.21 L480.75 53.19 L480.84 53.17 L480.93 53.15 L481.01 53.13 L481.1 53.11 L481.18 53.09 L481.27 53.07 L481.36 53.05 L481.44 53.03 L481.53 53.01 L481.62 52.99 L481.7 52.97 L481.79 52.95 L481.87 52.93 L481.96 52.92 L482.05 52.9 L482.13 52.88 L482.22 52.86 L482.31 52.84 L482.39 52.82 L482.48 52.8 L482.56 52.78 L482.65 52.76 L482.74 52.75 L482.82 52.73 L482.91 52.71 L483 52.69 L483.08 52.67 L483.17 52.65 L483.25 52.64 L483.34 52.62 L483.43 52.6 L483.51 52.58 L483.6 52.56 L483.69 52.54 L483.77 52.53 L483.86 52.51 L483.94 52.49 L484.03 52.47 L484.12 52.45 L484.2 52.44 L484.29 52.42 L484.38 52.4 L484.46 52.38 L484.55 52.36 L484.63 52.35 L484.72 52.33 L484.81 52.31 L484.89 52.29 L484.98 52.28 L485.06 52.26 L485.15 52.24 L485.24 52.22 L485.32 52.21 L485.41 52.19 L485.5 52.17 L485.58 52.15 L485.67 52.14 L485.75 52.12 L485.84 52.1 L485.93 52.08 L486.01 52.07 L486.1 52.05 L486.19 52.03 L486.27 52.02 L486.36 52 L486.45 51.98 L486.53 51.97 L486.62 51.95 L486.7 51.93 L486.79 51.91 L486.88 51.9 L486.96 51.88 L487.05 51.86 L487.14 51.85 L487.22 51.83 L487.31 51.81 L487.39 51.8 L487.48 51.78 L487.57 51.76 L487.65 51.75 L487.74 51.73 L487.83 51.71 L487.91 51.7 L488 51.68 L488.08 51.66 L488.17 51.65 L488.26 51.63 L488.34 51.62 L488.43 51.6 L488.52 51.58 L488.6 51.57 L488.69 51.55 L488.77 51.53 L488.86 51.52 L488.95 51.5 L489.03 51.49 L489.12 51.47 L489.21 51.45 L489.29 51.44 L489.38 51.42 L489.46 51.41 L489.55 51.39 L489.64 51.37 L489.72 51.36 L489.81 51.34 L489.9 51.33 L489.98 51.31 L490.07 51.29 L490.15 51.28 L490.24 51.26 L490.33 51.25 L490.41 51.23 L490.5 51.21 L490.59 51.2 L490.67 51.18 L490.76 51.17 L490.84 51.15 L490.93 51.14 L491.02 51.12 L491.1 51.11 L491.19 51.09 L491.28 51.07 L491.36 51.06 L491.45 51.04 L491.53 51.03 L491.62 51.01 L491.71 51 L491.79 50.98 L491.88 50.97 L491.97 50.95 L492.05 50.93 L492.14 50.92 L492.22 50.9 L492.31 50.89 L492.4 50.87 L492.48 50.86 L492.57 50.84 L492.66 50.83 L492.74 50.81 L492.83 50.8 L492.91 50.78 L493 50.77 L493.09 50.75 L493.17 50.74 L493.26 50.72 L493.35 50.71 L493.43 50.69 L493.52 50.68 L493.6 50.66 L493.69 50.65 L493.78 50.63 L493.86 50.62 L493.95 50.6 L494.04 50.59 L494.12 50.57 L494.21 50.56 L494.29 50.54 L494.38 50.53 L494.47 50.51 L494.55 50.5 L494.64 50.48 L494.73 50.47 L494.81 50.45 L494.9 50.44 L494.98 50.42 L495.07 50.41 L495.16 50.39 L495.24 50.38 L495.33 50.36 L495.42 50.35 L495.5 50.33 L495.59 50.32 L495.67 50.3 L495.76 50.29 L495.85 50.28 L495.93 50.26 L496.02 50.25 L496.11 50.23 L496.19 50.22 L496.28 50.2 L496.36 50.19 L496.45 50.17 L496.54 50.16 L496.62 50.14 L496.71 50.13 L496.8 50.12 L496.88 50.1 L496.97 50.09 L497.05 50.07 L497.14 50.06 L497.23 50.04 L497.31 50.03 L497.4 50.01 L497.49 50 L497.57 49.99 L497.66 49.97 L497.74 49.96 L497.83 49.94 L497.92 49.93 L498 49.91 L498.09 49.9 L498.18 49.89 L498.26 49.87 L498.35 49.86 L498.43 49.84 L498.52 49.83 L498.61 49.81 L498.69 49.8 L498.78 49.79 L498.87 49.77 L498.95 49.76 L499.04 49.74 L499.12 49.73 L499.21 49.72 L499.3 49.7 L499.38 49.69 L499.47 49.67 L499.56 49.66 L499.64 49.65 L499.73 49.63 L499.81 49.62 L499.9 49.6 L499.99 49.59 L500.07 49.58 L500.16 49.56 L500.25 49.55 L500.33 49.53 L500.42 49.52 L500.5 49.51 L500.59 49.49 L500.68 49.48 L500.76 49.46 L500.85 49.45 L500.94 49.44 L501.02 49.42 L501.11 49.41 L501.19 49.4 L501.28 49.38 L501.37 49.37 L501.45 49.36 L501.54 49.34 L501.62 49.33 L501.71 49.31 L501.8 49.3 L501.88 49.29 L501.97 49.27 L502.06 49.26 L502.14 49.25 L502.23 49.23 L502.31 49.22 L502.4 49.21 L502.49 49.19 L502.57 49.18 L502.66 49.17 L502.75 49.15 L502.83 49.14 L502.92 49.13 L503 49.11 L503.09 49.1 L503.18 49.09 L503.26 49.07 L503.35 49.06 L503.44 49.05 L503.52 49.03 L503.61 49.02 L503.7 49.01 L503.78 48.99 L503.87 48.98 L503.95 48.97 L504.04 48.95 L504.13 48.94 L504.21 48.93 L504.3 48.92 L504.39 48.9 L504.47 48.89 L504.56 48.88 L504.64 48.86 L504.73 48.85 L504.82 48.84 L504.9 48.83 L504.99 48.81 L505.08 48.8 L505.16 48.79 L505.25 48.78 L505.33 48.76 L505.42 48.75 L505.51 48.74 L505.59 48.73 L505.68 48.71 L505.77 48.7 L505.85 48.69 L505.94 48.68 L506.02 48.66 L506.11 48.65 L506.2 48.64 L506.28 48.63 L506.37 48.62 L506.46 48.6 L506.54 48.59 L506.63 48.58 L506.71 48.57 L506.8 48.56 L506.89 48.54 L506.97 48.53 L507.06 48.52 L507.15 48.51 L507.23 48.5 L507.32 48.49 L507.4 48.48 L507.49 48.47 L507.58 48.45 L507.66 48.44 L507.75 48.43 L507.84 48.42 L507.92 48.41 L508.01 48.4 L508.09 48.39 L508.18 48.38 L508.27 48.37 L508.35 48.36 L508.44 48.35 L508.53 48.34 L508.61 48.33 L508.7 48.32 L508.78 48.31 L508.87 48.3 L508.96 48.29 L509.04 48.28 L509.13 48.27 L509.22 48.26 L509.3 48.25 L509.39 48.24 L509.47 48.23 L509.56 48.22 L509.65 48.22 L509.73 48.21 L509.82 48.2 L509.91 48.19 L509.99 48.18 L510.08 48.17 L510.16 48.17 L510.25 48.16 L510.34 48.15 L510.42 48.15 L510.51 48.14 L510.6 48.13 L510.68 48.13 L510.77 48.12 L510.85 48.11 L510.94 48.11 L511.03 48.1 L511.11 48.1 L511.2 48.09 L511.29 48.09 L511.37 48.08 L511.46 48.08 L511.54 48.08 L511.63 48.07 L511.72 48.07 L511.8 48.07 L511.89 48.06 L511.98 48.06 L512.06 48.06 L512.15 48.06 L512.23 48.06 L512.32 48.06 L512.41 48.06 L512.49 48.06 L512.58 48.06 L512.66 48.06 L512.75 48.06 L512.84 48.07 L512.92 48.07 L513.01 48.07 L513.1 48.08 L513.18 48.08 L513.27 48.09 L513.36 48.09 L513.44 48.1 L513.53 48.11 L513.61 48.12 L513.7 48.13 L513.79 48.14 L513.87 48.15 L513.96 48.16 L514.05 48.17 L514.13 48.19 L514.22 48.2 L514.3 48.22 L514.39 48.24 L514.48 48.26 L514.56 48.28 L514.65 48.3 L514.74 48.32 L514.82 48.35 L514.91 48.37 L514.99 48.4 L515.08 48.43 L515.17 48.46 L515.25 48.49 L515.34 48.53 L515.43 48.57 L515.51 48.61 L515.6 48.65 L515.68 48.69 L515.77 48.74 L515.86 48.79 L515.94 48.85 L516.03 48.9 L516.12 48.96 L516.2 49.03 L516.29 49.1 L516.37 49.17 L516.46 49.25 L516.55 49.33 L516.63 49.42 L516.72 49.51 L516.81 49.61 L516.89 49.71 L516.98 49.82 L517.06 49.94 L517.15 50.07 L517.24 50.21 L517.32 50.35 L517.41 50.5 L517.5 50.67 L517.58 50.85 L517.67 51.04 L517.75 51.24 L517.84 51.46 L517.93 51.69 L518.01 51.94 L518.1 52.21 L518.19 52.51 L518.27 52.82 L518.36 53.16 L518.44 53.53 L518.53 53.93 L518.62 54.37 L518.7 54.84 L518.79 55.35 L518.88 55.91 L518.96 56.53 L519.05 57.2 L519.13 57.93 L519.22 58.73 L519.31 59.6 L519.39 60.57 L519.48 61.62 L519.57 62.77 L519.65 64.03 L519.74 65.4 L519.82 66.88 L519.91 68.48 L520 70.18 L520.08 71.98 L520.17 73.85 L520.25 75.77 L520.34 77.68 L520.43 79.55 L520.51 81.3 L520.6 82.89 L520.69 84.27 L520.77 85.4 L520.86 86.27 L520.95 86.87 L521.03 87.21 L521.12 87.33 L521.2 87.25 L521.29 87.01 L521.38 86.64 L521.46 86.18 L521.55 85.64 L521.63 85.05 L521.72 84.43 L521.81 83.78 L521.89 83.14 L521.98 82.49 L522.07 81.85 L522.15 81.22 L522.24 80.6 L522.33 80 L522.41 79.42 L522.5 78.85 L522.58 78.31 L522.67 77.78 L522.76 77.27 L522.84 76.78 L522.93 76.3 L523.01 75.85 L523.1 75.41 L523.19 74.98 L523.27 74.57 L523.36 74.17 L523.45 73.79 L523.53 73.42 L523.62 73.07 L523.71 72.72 L523.79 72.39 L523.88 72.07 L523.96 71.75 L524.05 71.45 L524.14 71.16 L524.22 70.87 L524.31 70.6 L524.39 70.33 L524.48 70.07 L524.57 69.82 L524.65 69.57 L524.74 69.33 L524.83 69.1 L524.91 68.88 L525 68.66 L525.09 68.44 L525.17 68.23 L525.26 68.03 L525.34 67.83 L525.43 67.64 L525.52 67.45 L525.6 67.26 L525.69 67.08 L525.77 66.91 L525.86 66.74 L525.95 66.57 L526.03 66.4 L526.12 66.24 L526.21 66.08 L526.29 65.93 L526.38 65.78 L526.47 65.63 L526.55 65.48 L526.64 65.34 L526.72 65.2 L526.81 65.07 L526.9 64.93 L526.98 64.8 L527.07 64.67 L527.15 64.54 L527.24 64.42 L527.33 64.3 L527.41 64.18 L527.5 64.06 L527.59 63.94 L527.67 63.83 L527.76 63.72 L527.85 63.61 L527.93 63.5 L528.02 63.39 L528.1 63.29 L528.19 63.18 L528.28 63.08 L528.36 62.98 L528.45 62.88 L528.54 62.78 L528.62 62.69 L528.71 62.59 L528.79 62.5 L528.88 62.41 L528.97 62.32 L529.05 62.23 L529.14 62.14 L529.23 62.05 L529.31 61.97 L529.4 61.88 L529.48 61.8 L529.57 61.72 L529.66 61.64 L529.74 61.56 L529.83 61.48 L529.91 61.4 L530 61.32 L530.09 61.25 L530.17 61.17 L530.26 61.1 L530.35 61.02 L530.43 60.95 L530.52 60.88 L530.61 60.81 L530.69 60.74 L530.78 60.67 L530.86 60.6 L530.95 60.53 L531.04 60.47 L531.12 60.4 L531.21 60.34 L531.3 60.27 L531.38 60.21 L531.47 60.14 L531.55 60.08 L531.64 60.02 L531.73 59.96 L531.81 59.9 L531.9 59.84 L531.99 59.78 L532.07 59.72 L532.16 59.66 L532.24 59.6 L532.33 59.54 L532.42 59.49 L532.5 59.43 L532.59 59.38 L532.68 59.32 L532.76 59.27 L532.85 59.21 L532.93 59.16 L533.02 59.11 L533.11 59.05 L533.19 59 L533.28 58.95 L533.37 58.9 L533.45 58.85 L533.54 58.8 L533.62 58.75 L533.71 58.7 L533.8 58.65 L533.88 58.6 L533.97 58.55 L534.06 58.51 L534.14 58.46 L534.23 58.41 L534.31 58.36 L534.4 58.32 L534.49 58.27 L534.57 58.23 L534.66 58.18 L534.75 58.14 L534.83 58.09 L534.92 58.05 L535 58 L535.09 57.96 L535.18 57.92 L535.26 57.87 L535.35 57.83 L535.44 57.79 L535.52 57.75 L535.61 57.71 L535.69 57.67 L535.78 57.62 L535.87 57.58 L535.95 57.54 L536.04 57.5 L536.12 57.46 L536.21 57.42 L536.3 57.38 L536.38 57.35 L536.47 57.31 L536.56 57.27 L536.64 57.23 L536.73 57.19 L536.82 57.15 L536.9 57.12 L536.99 57.08 L537.07 57.04 L537.16 57.01 L537.25 56.97 L537.33 56.93 L537.42 56.9 L537.5 56.86 L537.59 56.83 L537.68 56.79 L537.76 56.76 L537.85 56.72 L537.94 56.69 L538.02 56.65 L538.11 56.62 L538.2 56.58 L538.28 56.55 L538.37 56.52 L538.45 56.48 L538.54 56.45 L538.63 56.41 L538.71 56.38 L538.8 56.35 L538.88 56.32 L538.97 56.28 L539.06 56.25 L539.14 56.22 L539.23 56.19 L539.32 56.16 L539.4 56.12 L539.49 56.09 L539.58 56.06 L539.66 56.03 L539.75 56 L539.83 55.97 L539.92 55.94 L540.01 55.91 L540.09 55.88 L540.18 55.85 L540.26 55.82 L540.35 55.79 L540.44 55.76 L540.52 55.73 L540.61 55.7 L540.7 55.67 L540.78 55.64 L540.87 55.61 L540.96 55.58 L541.04 55.56 L541.13 55.53 L541.21 55.5 L541.3 55.47 L541.39 55.44 L541.47 55.41 L541.56 55.39 L541.64 55.36 L541.73 55.33 L541.82 55.3 L541.9 55.28 L541.99 55.25 L542.08 55.22 L542.16 55.2 L542.25 55.17 L542.34 55.14 L542.42 55.12 L542.51 55.09 L542.59 55.06 L542.68 55.04 L542.77 55.01 L542.85 54.98 L542.94 54.96 L543.02 54.93 L543.11 54.91 L543.2 54.88 L543.28 54.86 L543.37 54.83 L543.46 54.81 L543.54 54.78 L543.63 54.76 L543.72 54.73 L543.8 54.71 L543.89 54.68 L543.97 54.66 L544.06 54.63 L544.15 54.61 L544.23 54.58 L544.32 54.56 L544.4 54.53 L544.49 54.51 L544.58 54.49 L544.66 54.46 L544.75 54.44 L544.84 54.41 L544.92 54.39 L545.01 54.37 L545.1 54.34 L545.18 54.32 L545.27 54.3 L545.35 54.27 L545.44 54.25 L545.53 54.23 L545.61 54.21 L545.7 54.18 L545.79 54.16 L545.87 54.14 L545.96 54.11 L546.04 54.09 L546.13 54.07 L546.22 54.05 L546.3 54.02 L546.39 54 L546.48 53.98 L546.56 53.96 L546.65 53.94 L546.73 53.91 L546.82 53.89 L546.91 53.87 L546.99 53.85 L547.08 53.83 L547.16 53.81 L547.25 53.78 L547.34 53.76 L547.42 53.74 L547.51 53.72 L547.6 53.7 L547.68 53.68 L547.77 53.66 L547.86 53.63 L547.94 53.61 L548.03 53.59 L548.11 53.57 L548.2 53.55 L548.29 53.53 L548.37 53.51 L548.46 53.49 L548.55 53.47 L548.63 53.45 L548.72 53.43 L548.8 53.41 L548.89 53.39 L548.98 53.37 L549.06 53.35 L549.15 53.33 L549.24 53.31 L549.32 53.29 L549.41 53.27 L549.49 53.25 L549.58 53.23 L549.67 53.21 L549.75 53.19 L549.84 53.17 L549.93 53.15 L550.01 53.13 L550.1 53.11 L550.18 53.09 L550.27 53.07 L550.36 53.05 L550.44 53.03 L550.53 53.01 L550.62 52.99 L550.7 52.97 L550.79 52.95 L550.87 52.93 L550.96 52.92 L551.05 52.9 L551.13 52.88 L551.22 52.86 L551.31 52.84 L551.39 52.82 L551.48 52.8 L551.56 52.78 L551.65 52.76 L551.74 52.75 L551.82 52.73 L551.91 52.71 L552 52.69 L552.08 52.67 L552.17 52.65 L552.25 52.64 L552.34 52.62 L552.43 52.6 L552.51 52.58 L552.6 52.56 L552.69 52.54 L552.77 52.53 L552.86 52.51 L552.94 52.49 L553.03 52.47 L553.12 52.45 L553.2 52.44 L553.29 52.42 L553.38 52.4 L553.46 52.38 L553.55 52.36 L553.63 52.35 L553.72 52.33 L553.81 52.31 L553.89 52.29 L553.98 52.28 L554.07 52.26 L554.15 52.24 L554.24 52.22 L554.32 52.21 L554.41 52.19 L554.5 52.17 L554.58 52.15 L554.67 52.14 L554.75 52.12 L554.84 52.1 L554.93 52.08 L555.01 52.07 L555.1 52.05 L555.19 52.03 L555.27 52.02 L555.36 52 L555.45 51.98 L555.53 51.97 L555.62 51.95 L555.7 51.93 L555.79 51.91 L555.88 51.9 L555.96 51.88 L556.05 51.86 L556.13 51.85 L556.22 51.83 L556.31 51.81 L556.39 51.8 L556.48 51.78 L556.57 51.76 L556.65 51.75 L556.74 51.73 L556.83 51.71 L556.91 51.7 L557 51.68 L557.08 51.66 L557.17 51.65 L557.26 51.63 L557.34 51.62 L557.43 51.6 L557.51 51.58 L557.6 51.57 L557.69 51.55 L557.77 51.53 L557.86 51.52 L557.95 51.5 L558.03 51.49 L558.12 51.47 L558.21 51.45 L558.29 51.44 L558.38 51.42 L558.46 51.41 L558.55 51.39 L558.64 51.37 L558.72 51.36 L558.81 51.34 L558.89 51.33 L558.98 51.31 L559.07 51.29 L559.15 51.28 L559.24 51.26 L559.33 51.25 L559.41 51.23 L559.5 51.21 L559.59 51.2 L559.67 51.18 L559.76 51.17 L559.84 51.15 L559.93 51.14 L560.02 51.12 L560.1 51.11 L560.19 51.09 L560.27 51.07 L560.36 51.06 L560.45 51.04 L560.53 51.03 L560.62 51.01 L560.71 51 L560.79 50.98 L560.88 50.97 L560.97 50.95 L561.05 50.93 L561.14 50.92 L561.22 50.9 L561.31 50.89 L561.4 50.87 L561.48 50.86 L561.57 50.84 L561.65 50.83 L561.74 50.81 L561.83 50.8 L561.91 50.78 L562 50.77 L562.09 50.75 L562.17 50.74 L562.26 50.72 L562.35 50.71 L562.43 50.69 L562.52 50.68 L562.6 50.66 L562.69 50.65 L562.78 50.63 L562.86 50.62 L562.95 50.6 L563.04 50.59 L563.12 50.57 L563.21 50.56 L563.29 50.54 L563.38 50.53 L563.47 50.51 L563.55 50.5 L563.64 50.48 L563.73 50.47 L563.81 50.45 L563.9 50.44 L563.98 50.42 L564.07 50.41 L564.16 50.39 L564.24 50.38 L564.33 50.36 L564.41 50.35 L564.5 50.33 L564.59 50.32 L564.67 50.3 L564.76 50.29 L564.85 50.28 L564.93 50.26 L565.02 50.25 L565.11 50.23 L565.19 50.22 L565.28 50.2 L565.36 50.19 L565.45 50.17 L565.54 50.16 L565.62 50.14 L565.71 50.13 L565.8 50.12 L565.88 50.1 L565.97 50.09 L566.05 50.07 L566.14 50.06 L566.23 50.04 L566.31 50.03 L566.4 50.01 L566.49 50 L566.57 49.99 L566.66 49.97 L566.74 49.96 L566.83 49.94 L566.92 49.93 L567 49.91 L567.09 49.9 L567.18 49.89 L567.26 49.87 L567.35 49.86 L567.43 49.84 L567.52 49.83 L567.61 49.81 L567.69 49.8 L567.78 49.79 L567.87 49.77 L567.95 49.76 L568.04 49.74 L568.12 49.73 L568.21 49.72 L568.3 49.7 L568.38 49.69 L568.47 49.67 L568.56 49.66 L568.64 49.65 L568.73 49.63 L568.81 49.62 L568.9 49.6 L568.99 49.59 L569.07 49.58 L569.16 49.56 L569.25 49.55 L569.33 49.53 L569.42 49.52 L569.5 49.51 L569.59 49.49 L569.68 49.48 L569.76 49.46 L569.85 49.45 L569.94 49.44 L570.02 49.42 L570.11 49.41 L570.19 49.4 L570.28 49.38 L570.37 49.37 L570.45 49.36 L570.54 49.34 L570.62 49.33 L570.71 49.31 L570.8 49.3 L570.88 49.29 L570.97 49.27 L571.06 49.26 L571.14 49.25 L571.23 49.23 L571.32 49.22 L571.4 49.21 L571.49 49.19 L571.57 49.18 L571.66 49.17 L571.75 49.15 L571.83 49.14 L571.92 49.13 L572 49.11 L572.09 49.1 L572.18 49.09 L572.26 49.07 L572.35 49.06 L572.44 49.05 L572.52 49.03 L572.61 49.02 L572.7 49.01 L572.78 48.99 L572.87 48.98 L572.95 48.97 L573.04 48.95 L573.13 48.94 L573.21 48.93 L573.3 48.92 L573.38 48.9 L573.47 48.89 L573.56 48.88 L573.64 48.86 L573.73 48.85 L573.82 48.84 L573.9 48.83 L573.99 48.81 L574.08 48.8 L574.16 48.79 L574.25 48.78 L574.33 48.76 L574.42 48.75 L574.51 48.74 L574.59 48.73 L574.68 48.71 L574.76 48.7 L574.85 48.69 L574.94 48.68 L575.02 48.66 L575.11 48.65 L575.2 48.64 L575.28 48.63 L575.37 48.62 L575.46 48.6 L575.54 48.59 L575.63 48.58 L575.71 48.57 L575.8 48.56 L575.89 48.54 L575.97 48.53 L576.06 48.52 L576.14 48.51 L576.23 48.5 L576.32 48.49 L576.4 48.48 L576.49 48.47 L576.58 48.45 L576.66 48.44 L576.75 48.43 L576.84 48.42 L576.92 48.41 L577.01 48.4 L577.09 48.39 L577.18 48.38 L577.27 48.37 L577.35 48.36 L577.44 48.35 L577.52 48.34 L577.61 48.33 L577.7 48.32 L577.78 48.31 L577.87 48.3 L577.96 48.29 L578.04 48.28 L578.13 48.27 L578.22 48.26 L578.3 48.25 L578.39 48.24 L578.47 48.23 L578.56 48.22 L578.65 48.22 L578.73 48.21 L578.82 48.2 L578.9 48.19 L578.99 48.18 L579.08 48.17 L579.16 48.17 L579.25 48.16 L579.34 48.15 L579.42 48.15 L579.51 48.14 L579.6 48.13 L579.68 48.13 L579.77 48.12 L579.85 48.11 L579.94 48.11 L580.03 48.1 L580.11 48.1 L580.2 48.09 L580.29 48.09 L580.37 48.08 L580.46 48.08 L580.54 48.08 L580.63 48.07 L580.72 48.07 L580.8 48.07 L580.89 48.06 L580.98 48.06 L581.06 48.06 L581.15 48.06 L581.23 48.06 L581.32 48.06 L581.41 48.06 L581.49 48.06 L581.58 48.06 L581.66 48.06 L581.75 48.06 L581.84 48.07 L581.92 48.07 L582.01 48.07 L582.1 48.08 L582.18 48.08 L582.27 48.09 L582.36 48.09 L582.44 48.1 L582.53 48.11 L582.61 48.12 L582.7 48.13 L582.79 48.14 L582.87 48.15 L582.96 48.16 L583.05 48.17 L583.13 48.19 L583.22 48.2 L583.3 48.22 L583.39 48.24 L583.48 48.26 L583.56 48.28 L583.65 48.3 L583.74 48.32 L583.82 48.35 L583.91 48.37 L583.99 48.4 L584.08 48.43 L584.17 48.46 L584.25 48.49 L584.34 48.53 L584.43 48.57 L584.51 48.61 L584.6 48.65 L584.68 48.69 L584.77 48.74 L584.86 48.79 L584.94 48.85 L585.03 48.9 L585.12 48.96 L585.2 49.03 L585.29 49.1 L585.37 49.17 L585.46 49.25 L585.55 49.33 L585.63 49.42 L585.72 49.51 L585.81 49.61 L585.89 49.71 L585.98 49.82 L586.06 49.94 L586.15 50.07 L586.24 50.21 L586.32 50.35 L586.41 50.5 L586.5 50.67 L586.58 50.85 L586.67 51.04 L586.75 51.24 L586.84 51.46 L586.93 51.69 L587.01 51.94 L587.1 52.21 L587.19 52.51 L587.27 52.82 L587.36 53.16 L587.44 53.53 L587.53 53.93 L587.62 54.37 L587.7 54.84 L587.79 55.35 L587.88 55.91 L587.96 56.53 L588.05 57.2 L588.13 57.93 L588.22 58.73 L588.31 59.6 L588.39 60.57 L588.48 61.62 L588.57 62.77 L588.65 64.03 L588.74 65.4 L588.82 66.88 L588.91 68.48 L589 70.18 L589.08 71.98 L589.17 73.85 L589.25 75.77 L589.34 77.68 L589.43 79.55 L589.51 81.3 L589.6 82.89" fill="none" stroke="#111" stroke-width="1.7" stroke-linejoin="round"/>
<path fill="#111" d="M456.7 53.2l1.65 4.1l-1.65 4.1l-1.65 -4.1zM525.7 53.2l1.65 4.1l-1.65 4.1l-1.65 -4.1zM456.5 61.2l1.65 4.1l-1.65 4.1l-1.65 -4.1zM525.5 61.2l1.65 4.1l-1.65 4.1l-1.65 -4.1zM458.7 71.3l1.65 4.1l-1.65 4.1l-1.65 -4.1zM527.7 71.3l1.65 4.1l-1.65 4.1l-1.65 -4.1zM462.1 67.3l1.65 4.1l-1.65 4.1l-1.65 -4.1zM531.1 67.3l1.65 4.1l-1.65 4.1l-1.65 -4.1zM465.5 67.3l1.65 4.1l-1.65 4.1l-1.65 -4.1zM534.5 67.3l1.65 4.1l-1.65 4.1l-1.65 -4.1zM463.4 48.5l1.65 4.1l-1.65 4.1l-1.65 -4.1zM532.4 48.5l1.65 4.1l-1.65 4.1l-1.65 -4.1zM464.8 52.5l1.65 4.1l-1.65 4.1l-1.65 -4.1zM533.8 52.5l1.65 4.1l-1.65 4.1l-1.65 -4.1zM466.1 55.2l1.65 4.1l-1.65 4.1l-1.65 -4.1zM535.1 55.2l1.65 4.1l-1.65 4.1l-1.65 -4.1zM469.5 53.2l1.65 4.1l-1.65 4.1l-1.65 -4.1zM538.5 53.2l1.65 4.1l-1.65 4.1l-1.65 -4.1zM470.2 55.9l1.65 4.1l-1.65 4.1l-1.65 -4.1zM539.2 55.9l1.65 4.1l-1.65 4.1l-1.65 -4.1zM472.2 43.7l1.65 4.1l-1.65 4.1l-1.65 -4.1zM541.2 43.7l1.65 4.1l-1.65 4.1l-1.65 -4.1zM474.9 46.4l1.65 4.1l-1.65 4.1l-1.65 -4.1zM543.9 46.4l1.65 4.1l-1.65 4.1l-1.65 -4.1zM475.5 67.9l1.65 4.1l-1.65 4.1l-1.65 -4.1zM544.5 67.9l1.65 4.1l-1.65 4.1l-1.65 -4.1zM474.9 54.5l1.65 4.1l-1.65 4.1l-1.65 -4.1zM543.9 54.5l1.65 4.1l-1.65 4.1l-1.65 -4.1zM477.6 53.2l1.65 4.1l-1.65 4.1l-1.65 -4.1zM546.6 53.2l1.65 4.1l-1.65 4.1l-1.65 -4.1zM478.2 57.9l1.65 4.1l-1.65 4.1l-1.65 -4.1zM547.2 57.9l1.65 4.1l-1.65 4.1l-1.65 -4.1zM480.9 45.1l1.65 4.1l-1.65 4.1l-1.65 -4.1zM549.9 45.1l1.65 4.1l-1.65 4.1l-1.65 -4.1zM482.3 39.7l1.65 4.1l-1.65 4.1l-1.65 -4.1zM551.3 39.7l1.65 4.1l-1.65 4.1l-1.65 -4.1zM484.3 33l1.65 4.1l-1.65 4.1l-1.65 -4.1zM553.3 33l1.65 4.1l-1.65 4.1l-1.65 -4.1zM484.3 69.3l1.65 4.1l-1.65 4.1l-1.65 -4.1zM553.3 69.3l1.65 4.1l-1.65 4.1l-1.65 -4.1zM487.6 47.1l1.65 4.1l-1.65 4.1l-1.65 -4.1zM556.6 47.1l1.65 4.1l-1.65 4.1l-1.65 -4.1zM490.3 52.5l1.65 4.1l-1.65 4.1l-1.65 -4.1zM559.3 52.5l1.65 4.1l-1.65 4.1l-1.65 -4.1zM491.7 40.4l1.65 4.1l-1.65 4.1l-1.65 -4.1zM560.7 40.4l1.65 4.1l-1.65 4.1l-1.65 -4.1zM493 38.4l1.65 4.1l-1.65 4.1l-1.65 -4.1zM562 38.4l1.65 4.1l-1.65 4.1l-1.65 -4.1zM493.7 53.2l1.65 4.1l-1.65 4.1l-1.65 -4.1zM562.7 53.2l1.65 4.1l-1.65 4.1l-1.65 -4.1zM496.4 35.7l1.65 4.1l-1.65 4.1l-1.65 -4.1zM565.4 35.7l1.65 4.1l-1.65 4.1l-1.65 -4.1zM498.4 46.4l1.65 4.1l-1.65 4.1l-1.65 -4.1zM567.4 46.4l1.65 4.1l-1.65 4.1l-1.65 -4.1zM506.4 35.7l1.65 4.1l-1.65 4.1l-1.65 -4.1zM575.4 35.7l1.65 4.1l-1.65 4.1l-1.65 -4.1zM510.5 43.1l1.65 4.1l-1.65 4.1l-1.65 -4.1zM579.5 43.1l1.65 4.1l-1.65 4.1l-1.65 -4.1zM509.8 47.8l1.65 4.1l-1.65 4.1l-1.65 -4.1zM578.8 47.8l1.65 4.1l-1.65 4.1l-1.65 -4.1zM511.8 53.2l1.65 4.1l-1.65 4.1l-1.65 -4.1zM580.8 53.2l1.65 4.1l-1.65 4.1l-1.65 -4.1zM518.5 49.1l1.65 4.1l-1.65 4.1l-1.65 -4.1zM587.5 49.1l1.65 4.1l-1.65 4.1l-1.65 -4.1zM457 64.9l1.65 4.1l-1.65 4.1l-1.65 -4.1zM526 64.9l1.65 4.1l-1.65 4.1l-1.65 -4.1zM463.2 48.1l1.65 4.1l-1.65 4.1l-1.65 -4.1zM532.2 48.1l1.65 4.1l-1.65 4.1l-1.65 -4.1zM520.9 81.4l1.65 4.1l-1.65 4.1l-1.65 -4.1z"/>
<text x="510" y="16" font-size="6.2" font-weight="bold" textLength="31.8" lengthAdjust="spacingAndGlyphs" fill="#2a2a2a">P = 1.71 d</text>
<text x="510" y="22.9" font-size="6.2" font-weight="bold" textLength="43.9" lengthAdjust="spacingAndGlyphs" fill="#2a2a2a">K = 136.0 m/s</text>
<text x="510" y="29.8" font-size="6.2" font-weight="bold" textLength="24.7" lengthAdjust="spacingAndGlyphs" fill="#2a2a2a">e = 0.31</text>
<text x="510" y="36.7" font-size="6.2" font-weight="bold" textLength="42.5" lengthAdjust="spacingAndGlyphs" fill="#2a2a2a">RMS=28.3 m/s</text>
<text x="562.2" y="25.4" font-size="11.5" textLength="13.5" lengthAdjust="spacingAndGlyphs">(c)</text>
<path d="M45.3 241v-3.2M45.3 143.6v3.2M53.92 241v-1.6M53.92 143.6v1.6M62.55 241v-1.6M62.55 143.6v1.6M71.17 241v-1.6M71.17 143.6v1.6M79.8 241v-3.2M79.8 143.6v3.2M88.42 241v-1.6M88.42 143.6v1.6M97.05 241v-1.6M97.05 143.6v1.6M105.67 241v-1.6M105.67 143.6v1.6M114.3 241v-3.2M114.3 143.6v3.2M122.92 241v-1.6M122.92 143.6v1.6M131.55 241v-1.6M131.55 143.6v1.6M140.18 241v-1.6M140.18 143.6v1.6M148.8 241v-3.2M148.8 143.6v3.2M157.43 241v-1.6M157.43 143.6v1.6M166.05 241v-1.6M166.05 143.6v1.6M174.68 241v-1.6M174.68 143.6v1.6M183.3 241v-3.2M183.3 143.6v3.2M45.3 241h3.2M183.3 241h-3.2M45.3 234.51h1.6M183.3 234.51h-1.6M45.3 228.01h1.6M183.3 228.01h-1.6M45.3 221.52h1.6M183.3 221.52h-1.6M45.3 215.03h1.6M183.3 215.03h-1.6M45.3 208.53h3.2M183.3 208.53h-3.2M45.3 202.04h1.6M183.3 202.04h-1.6M45.3 195.55h1.6M183.3 195.55h-1.6M45.3 189.05h1.6M183.3 189.05h-1.6M45.3 182.56h1.6M183.3 182.56h-1.6M45.3 176.07h3.2M183.3 176.07h-3.2M45.3 169.57h1.6M183.3 169.57h-1.6M45.3 163.08h1.6M183.3 163.08h-1.6M45.3 156.59h1.6M183.3 156.59h-1.6M45.3 150.09h1.6M183.3 150.09h-1.6M45.3 143.6h3.2M183.3 143.6h-3.2" stroke="#111" stroke-width="1" fill="none"/>
<rect x="45.3" y="143.6" width="138" height="97.4" fill="none" stroke="#111" stroke-width="1.4" stroke-linejoin="round"/>
<text x="45.3" y="256.3" font-size="10" text-anchor="middle" textLength="6.28" lengthAdjust="spacingAndGlyphs">0</text>
<text x="79.8" y="256.3" font-size="10" text-anchor="middle" textLength="18.85" lengthAdjust="spacingAndGlyphs">200</text>
<text x="114.3" y="256.3" font-size="10" text-anchor="middle" textLength="18.85" lengthAdjust="spacingAndGlyphs">400</text>
<text x="148.8" y="256.3" font-size="10" text-anchor="middle" textLength="18.85" lengthAdjust="spacingAndGlyphs">600</text>
<text x="183.3" y="256.3" font-size="10" text-anchor="middle" textLength="18.85" lengthAdjust="spacingAndGlyphs">800</text>
<text x="41.3" y="241.05" font-size="10" text-anchor="end" textLength="6.28" lengthAdjust="spacingAndGlyphs">0</text>
<text x="41.3" y="213.28" font-size="10" text-anchor="end" textLength="6.28" lengthAdjust="spacingAndGlyphs">5</text>
<text x="41.3" y="180.82" font-size="10" text-anchor="end" textLength="12.57" lengthAdjust="spacingAndGlyphs">10</text>
<text x="41.3" y="150.65" font-size="10" text-anchor="end" textLength="12.57" lengthAdjust="spacingAndGlyphs">15</text>
<text x="88.1" y="268.5" font-size="9.4" textLength="30.3" lengthAdjust="spacingAndGlyphs">Period</text>
<text x="124.8" y="268.8" font-size="9.8" textLength="13.5" lengthAdjust="spacingAndGlyphs">(d)</text>
<text x="0" y="0" font-size="9.5" text-anchor="middle" textLength="28.5" lengthAdjust="spacingAndGlyphs" transform="translate(20.6 192.3) rotate(-90)">Power</text>
<path d="M45.3 241 L45.4 237.75 L45.7 191.65 L46 237.75 L46.3 191.65 L46.6 237.75 L46.9 239.05 L47.5 159.18 L48.1 239.05 L48.1 237.75 L48.4 194.25 L48.7 239.05 L49.2 226.07 L49.7 239.05 L49.9 239.05 L50.7 199.44 L51.5 239.05 L51.5 239.7 L51.9 222.82 L52.3 239.7 L52.7 239.05 L53.17 227.02 L53.64 239.05 L54.11 227.63 L54.59 239.05 L55.06 228.25 L55.53 239.05 L56 239.05 L56.8 205.29 L57.6 239.05 L57.6 239.7 L58.54 234.51 L59.48 239.7 L60.42 234.51 L61.36 239.7 L61.8 239.7 L62.1 237.16 L62.4 234.86 L62.7 232.82 L63 231.02 L63.3 229.5 L63.6 228.24 L63.9 227.26 L64.2 226.57 L64.5 226.17 L64.8 226.08 L65.1 226.52 L65.4 227.52 L65.7 228.95 L66 230.67 L66.3 232.56 L66.6 234.49 L66.9 236.31 L67.2 237.9 L67.5 239.14 L67.8 239.87 L68.1 240.02 L68.4 239.98 L68.7 239.88 L69 239.74 L69.3 239.56 L69.6 239.34 L69.9 239.1 L70.2 238.83 L70.5 238.55 L70.8 238.26 L71.1 237.96 L71.4 237.67 L71.7 237.38 L72 237.1 L72.3 236.84 L72.6 236.61 L72.9 236.41 L73.2 236.24 L73.5 236.11 L73.8 236.03 L74.1 236 L74.4 236.06 L74.7 236.22 L75 236.48 L75.3 236.81 L75.6 237.2 L75.9 237.64 L76.2 238.1 L76.5 238.58 L76.8 239.05 L77.1 239.51 L77.4 239.93 L77.7 240.31 L78 240.61 L78.3 240.84 L78.6 240.97 L78.9 241 L79.2 240.93 L79.5 240.79 L79.8 240.59 L80.1 240.33 L80.4 240.02 L80.7 239.66 L81 239.26 L81.3 238.83 L81.6 238.38 L81.9 237.91 L82.2 237.43 L82.5 236.94 L82.8 236.46 L83.1 235.98 L83.4 235.52 L83.7 235.09 L84 234.68 L84.3 234.31 L84.6 233.98 L84.9 233.7 L85.2 233.48 L85.5 233.32 L85.8 233.23 L86.1 233.21 L86.4 233.24 L86.7 233.3 L87 233.39 L87.3 233.51 L87.6 233.65 L87.9 233.81 L88.2 233.99 L88.5 234.19 L88.8 234.4 L89.1 234.62 L89.4 234.85 L89.7 235.08 L90 235.32 L90.3 235.56 L90.6 235.79 L90.9 236.02 L91.2 236.24 L91.5 236.45 L91.8 236.65 L92.1 236.83 L92.4 236.99 L92.7 237.13 L93 237.25 L93.3 237.34 L93.6 237.4 L93.9 237.43 L94.2 237.43 L94.5 237.42 L94.8 237.4 L95.1 237.38 L95.4 237.35 L95.7 237.32 L96 237.28 L96.3 237.23 L96.6 237.18 L96.9 237.12 L97.2 237.05 L97.5 236.98 L97.8 236.91 L98.1 236.83 L98.4 236.75 L98.7 236.66 L99 236.56 L99.3 236.47 L99.6 236.37 L99.9 236.26 L100.2 236.15 L100.5 236.04 L100.8 235.93 L101.1 235.81 L101.4 235.69 L101.7 235.57 L102 235.44 L102.3 235.32 L102.6 235.19 L102.9 235.06 L103.2 234.92 L103.5 234.79 L103.8 234.66 L104.1 234.52 L104.4 234.38 L104.7 234.24 L105 234.11 L105.3 233.97 L105.6 233.83 L105.9 233.69 L106.2 233.55 L106.5 233.42 L106.8 233.28 L107.1 233.14 L107.4 233.01 L107.7 232.88 L108 232.74 L108.3 232.61 L108.6 232.48 L108.9 232.36 L109.2 232.23 L109.5 232.11 L109.8 231.99 L110.1 231.88 L110.4 231.76 L110.7 231.65 L111 231.55 L111.3 231.44 L111.6 231.34 L111.9 231.25 L112.2 231.16 L112.5 231.07 L112.8 230.99 L113.1 230.91 L113.4 230.84 L113.7 230.77 L114 230.71 L114.3 230.65 L114.6 230.6 L114.9 230.55 L115.2 230.51 L115.5 230.48 L115.8 230.46 L116.1 230.44 L116.4 230.42 L116.7 230.42 L117 230.42 L117.3 230.42 L117.6 230.43 L117.9 230.44 L118.2 230.45 L118.5 230.47 L118.8 230.49 L119.1 230.51 L119.4 230.53 L119.7 230.56 L120 230.59 L120.3 230.62 L120.6 230.66 L120.9 230.69 L121.2 230.73 L121.5 230.77 L121.8 230.82 L122.1 230.86 L122.4 230.91 L122.7 230.96 L123 231.01 L123.3 231.06 L123.6 231.12 L123.9 231.17 L124.2 231.23 L124.5 231.29 L124.8 231.35 L125.1 231.41 L125.4 231.47 L125.7 231.53 L126 231.6 L126.3 231.66 L126.6 231.73 L126.9 231.8 L127.2 231.86 L127.5 231.93 L127.8 232 L128.1 232.07 L128.4 232.14 L128.7 232.2 L129 232.27 L129.3 232.34 L129.6 232.41 L129.9 232.48 L130.2 232.55 L130.5 232.62 L130.8 232.69 L131.1 232.76 L131.4 232.82 L131.7 232.89 L132 232.96 L132.3 233.02 L132.6 233.09 L132.9 233.15 L133.2 233.21 L133.5 233.27 L133.8 233.33 L134.1 233.39 L134.4 233.45 L134.7 233.51 L135 233.56 L135.3 233.62 L135.6 233.67 L135.9 233.72 L136.2 233.77 L136.5 233.82 L136.8 233.86 L137.1 233.9 L137.4 233.94 L137.7 233.98 L138 234.02 L138.3 234.05 L138.6 234.08 L138.9 234.11 L139.2 234.14 L139.5 234.16 L139.8 234.18 L140.1 234.2 L140.4 234.22 L140.7 234.23 L141 234.24 L141.3 234.24 L141.6 234.25 L141.9 234.25 L142.2 234.25 L142.5 234.25 L142.8 234.25 L143.1 234.25 L143.4 234.25 L143.7 234.25 L144 234.25 L144.3 234.25 L144.6 234.25 L144.9 234.25 L145.2 234.25 L145.5 234.25 L145.8 234.24 L146.1 234.24 L146.4 234.24 L146.7 234.24 L147 234.24 L147.3 234.24 L147.6 234.24 L147.9 234.24 L148.2 234.24 L148.5 234.24 L148.8 234.24 L149.1 234.24 L149.4 234.23 L149.7 234.23 L150 234.23 L150.3 234.23 L150.6 234.23 L150.9 234.22 L151.2 234.22 L151.5 234.22 L151.8 234.22 L152.1 234.21 L152.4 234.21 L152.7 234.21 L153 234.2 L153.3 234.2 L153.6 234.2 L153.9 234.19 L154.2 234.19 L154.5 234.19 L154.8 234.18 L155.1 234.18 L155.4 234.17 L155.7 234.17 L156 234.16 L156.3 234.16 L156.6 234.15 L156.9 234.14 L157.2 234.14 L157.5 234.13 L157.8 234.12 L158.1 234.12 L158.4 234.11 L158.7 234.1 L159 234.09 L159.3 234.09 L159.6 234.08 L159.9 234.07 L160.2 234.06 L160.5 234.05 L160.8 234.04 L161.1 234.03 L161.4 234.02 L161.7 234.01 L162 234 L162.3 233.99 L162.6 233.98 L162.9 233.97 L163.2 233.95 L163.5 233.94 L163.8 233.93 L164.1 233.92 L164.4 233.9 L164.7 233.89 L165 233.87 L165.3 233.86 L165.6 233.84 L165.9 233.83 L166.2 233.81 L166.5 233.8" fill="none" stroke="#111" stroke-width="1.3" stroke-linejoin="round"/>
<text x="155.8" y="163.2" font-size="11.5" textLength="13.5" lengthAdjust="spacingAndGlyphs">(d)</text>
<text x="131.9" y="176.5" font-size="11" textLength="25.3" lengthAdjust="spacingAndGlyphs">Band</text>
<text x="163" y="176.5" font-size="11" textLength="7" lengthAdjust="spacingAndGlyphs">A</text>
<path d="M248.3 241v-3.2M248.3 143.6v3.2M255.2 241v-1.6M255.2 143.6v1.6M262.1 241v-1.6M262.1 143.6v1.6M269 241v-1.6M269 143.6v1.6M275.9 241v-1.6M275.9 143.6v1.6M282.8 241v-3.2M282.8 143.6v3.2M289.7 241v-1.6M289.7 143.6v1.6M296.6 241v-1.6M296.6 143.6v1.6M303.5 241v-1.6M303.5 143.6v1.6M310.4 241v-1.6M310.4 143.6v1.6M317.3 241v-3.2M317.3 143.6v3.2M324.2 241v-1.6M324.2 143.6v1.6M331.1 241v-1.6M331.1 143.6v1.6M338 241v-1.6M338 143.6v1.6M344.9 241v-1.6M344.9 143.6v1.6M351.8 241v-3.2M351.8 143.6v3.2M358.7 241v-1.6M358.7 143.6v1.6M365.6 241v-1.6M365.6 143.6v1.6M372.5 241v-1.6M372.5 143.6v1.6M379.4 241v-1.6M379.4 143.6v1.6M386.3 241v-3.2M386.3 143.6v3.2M248.3 241h3.2M386.3 241h-3.2M248.3 237.75h1.6M386.3 237.75h-1.6M248.3 234.51h1.6M386.3 234.51h-1.6M248.3 231.26h1.6M386.3 231.26h-1.6M248.3 228.01h1.6M386.3 228.01h-1.6M248.3 224.77h3.2M386.3 224.77h-3.2M248.3 221.52h1.6M386.3 221.52h-1.6M248.3 218.27h1.6M386.3 218.27h-1.6M248.3 215.03h1.6M386.3 215.03h-1.6M248.3 211.78h1.6M386.3 211.78h-1.6M248.3 208.53h3.2M386.3 208.53h-3.2M248.3 205.29h1.6M386.3 205.29h-1.6M248.3 202.04h1.6M386.3 202.04h-1.6M248.3 198.79h1.6M386.3 198.79h-1.6M248.3 195.55h1.6M386.3 195.55h-1.6M248.3 192.3h3.2M386.3 192.3h-3.2M248.3 189.05h1.6M386.3 189.05h-1.6M248.3 185.81h1.6M386.3 185.81h-1.6M248.3 182.56h1.6M386.3 182.56h-1.6M248.3 179.31h1.6M386.3 179.31h-1.6M248.3 176.07h3.2M386.3 176.07h-3.2M248.3 172.82h1.6M386.3 172.82h-1.6M248.3 169.57h1.6M386.3 169.57h-1.6M248.3 166.33h1.6M386.3 166.33h-1.6M248.3 163.08h1.6M386.3 163.08h-1.6M248.3 159.83h3.2M386.3 159.83h-3.2M248.3 156.59h1.6M386.3 156.59h-1.6M248.3 153.34h1.6M386.3 153.34h-1.6M248.3 150.09h1.6M386.3 150.09h-1.6M248.3 146.85h1.6M386.3 146.85h-1.6M248.3 143.6h3.2M386.3 143.6h-3.2" stroke="#111" stroke-width="1" fill="none"/>
<rect x="248.3" y="143.6" width="138" height="97.4" fill="none" stroke="#111" stroke-width="1.4" stroke-linejoin="round"/>
<text x="248.3" y="256.3" font-size="10" text-anchor="middle" textLength="15.71" lengthAdjust="spacingAndGlyphs">0.0</text>
<text x="282.8" y="256.3" font-size="10" text-anchor="middle" textLength="15.71" lengthAdjust="spacingAndGlyphs">0.5</text>
<text x="317.3" y="256.3" font-size="10" text-anchor="middle" textLength="15.71" lengthAdjust="spacingAndGlyphs">1.0</text>
<text x="351.8" y="256.3" font-size="10" text-anchor="middle" textLength="15.71" lengthAdjust="spacingAndGlyphs">1.5</text>
<text x="386.3" y="256.3" font-size="10" text-anchor="middle" textLength="15.71" lengthAdjust="spacingAndGlyphs">2.0</text>
<text x="244.3" y="241.05" font-size="10" text-anchor="end" textLength="23" lengthAdjust="spacingAndGlyphs">−1.5</text>
<text x="244.3" y="229.52" font-size="10" text-anchor="end" textLength="23" lengthAdjust="spacingAndGlyphs">−1.0</text>
<text x="244.3" y="213.28" font-size="10" text-anchor="end" textLength="23" lengthAdjust="spacingAndGlyphs">−0.5</text>
<text x="244.3" y="197.05" font-size="10" text-anchor="end" textLength="15.71" lengthAdjust="spacingAndGlyphs">0.0</text>
<text x="244.3" y="180.82" font-size="10" text-anchor="end" textLength="15.71" lengthAdjust="spacingAndGlyphs">0.5</text>
<text x="244.3" y="164.58" font-size="10" text-anchor="end" textLength="15.71" lengthAdjust="spacingAndGlyphs">1.0</text>
<text x="244.3" y="150.65" font-size="10" text-anchor="end" textLength="15.71" lengthAdjust="spacingAndGlyphs">1.5</text>
<text x="302.2" y="268.5" font-size="9.4" textLength="29.5" lengthAdjust="spacingAndGlyphs">Phase</text>
<text x="0" y="0" font-size="10.4" textLength="29.4" lengthAdjust="spacingAndGlyphs" transform="translate(212.2 246.55) rotate(-90)">Radial</text>
<text x="0" y="0" font-size="10.4" textLength="36.2" lengthAdjust="spacingAndGlyphs" transform="translate(212.2 210.75) rotate(-90)">Velocity</text>
<text x="0" y="0" font-size="10.4" textLength="29" lengthAdjust="spacing" transform="translate(212.2 167.85) rotate(-90)">(m/s)</text>
<path d="M248.3 232 L248.39 232.59 L248.47 232.85 L248.56 232.82 L248.65 232.56 L248.73 232.13 L248.82 231.56 L248.9 230.89 L248.99 230.16 L249.08 229.38 L249.16 228.59 L249.25 227.78 L249.34 226.98 L249.42 226.19 L249.51 225.42 L249.59 224.66 L249.68 223.93 L249.77 223.22 L249.85 222.54 L249.94 221.87 L250.03 221.23 L250.11 220.62 L250.2 220.03 L250.28 219.46 L250.37 218.91 L250.46 218.38 L250.54 217.87 L250.63 217.38 L250.72 216.9 L250.8 216.45 L250.89 216.01 L250.97 215.58 L251.06 215.17 L251.15 214.77 L251.23 214.39 L251.32 214.01 L251.41 213.65 L251.49 213.3 L251.58 212.96 L251.66 212.64 L251.75 212.32 L251.84 212.01 L251.92 211.71 L252.01 211.42 L252.09 211.13 L252.18 210.86 L252.27 210.59 L252.35 210.33 L252.44 210.07 L252.53 209.82 L252.61 209.58 L252.7 209.34 L252.79 209.11 L252.87 208.89 L252.96 208.67 L253.04 208.45 L253.13 208.24 L253.22 208.04 L253.3 207.84 L253.39 207.64 L253.48 207.45 L253.56 207.26 L253.65 207.08 L253.73 206.9 L253.82 206.72 L253.91 206.55 L253.99 206.38 L254.08 206.21 L254.17 206.05 L254.25 205.89 L254.34 205.73 L254.42 205.58 L254.51 205.43 L254.6 205.28 L254.68 205.13 L254.77 204.99 L254.86 204.85 L254.94 204.71 L255.03 204.57 L255.11 204.44 L255.2 204.3 L255.29 204.17 L255.37 204.05 L255.46 203.92 L255.55 203.8 L255.63 203.67 L255.72 203.55 L255.8 203.44 L255.89 203.32 L255.98 203.2 L256.06 203.09 L256.15 202.98 L256.24 202.87 L256.32 202.76 L256.41 202.65 L256.49 202.55 L256.58 202.45 L256.67 202.34 L256.75 202.24 L256.84 202.14 L256.93 202.04 L257.01 201.95 L257.1 201.85 L257.18 201.75 L257.27 201.66 L257.36 201.57 L257.44 201.48 L257.53 201.39 L257.62 201.3 L257.7 201.21 L257.79 201.12 L257.87 201.03 L257.96 200.95 L258.05 200.86 L258.13 200.78 L258.22 200.7 L258.31 200.62 L258.39 200.54 L258.48 200.46 L258.56 200.38 L258.65 200.3 L258.74 200.22 L258.82 200.15 L258.91 200.07 L259 200 L259.08 199.92 L259.17 199.85 L259.25 199.78 L259.34 199.7 L259.43 199.63 L259.51 199.56 L259.6 199.49 L259.69 199.42 L259.77 199.36 L259.86 199.29 L259.94 199.22 L260.03 199.15 L260.12 199.09 L260.2 199.02 L260.29 198.96 L260.38 198.89 L260.46 198.83 L260.55 198.77 L260.63 198.7 L260.72 198.64 L260.81 198.58 L260.89 198.52 L260.98 198.46 L261.06 198.4 L261.15 198.34 L261.24 198.28 L261.32 198.22 L261.41 198.16 L261.5 198.11 L261.58 198.05 L261.67 197.99 L261.75 197.94 L261.84 197.88 L261.93 197.83 L262.01 197.77 L262.1 197.72 L262.19 197.66 L262.27 197.61 L262.36 197.56 L262.44 197.5 L262.53 197.45 L262.62 197.4 L262.7 197.35 L262.79 197.3 L262.88 197.24 L262.96 197.19 L263.05 197.14 L263.13 197.09 L263.22 197.04 L263.31 196.99 L263.39 196.95 L263.48 196.9 L263.57 196.85 L263.65 196.8 L263.74 196.75 L263.82 196.71 L263.91 196.66 L264 196.61 L264.08 196.57 L264.17 196.52 L264.26 196.47 L264.34 196.43 L264.43 196.38 L264.51 196.34 L264.6 196.29 L264.69 196.25 L264.77 196.21 L264.86 196.16 L264.95 196.12 L265.03 196.07 L265.12 196.03 L265.21 195.99 L265.29 195.95 L265.38 195.9 L265.46 195.86 L265.55 195.82 L265.64 195.78 L265.72 195.74 L265.81 195.7 L265.89 195.66 L265.98 195.61 L266.07 195.57 L266.15 195.53 L266.24 195.49 L266.33 195.45 L266.41 195.41 L266.5 195.38 L266.59 195.34 L266.67 195.3 L266.76 195.26 L266.84 195.22 L266.93 195.18 L267.02 195.14 L267.1 195.11 L267.19 195.07 L267.28 195.03 L267.36 194.99 L267.45 194.96 L267.53 194.92 L267.62 194.88 L267.71 194.85 L267.79 194.81 L267.88 194.77 L267.97 194.74 L268.05 194.7 L268.14 194.67 L268.22 194.63 L268.31 194.59 L268.4 194.56 L268.48 194.52 L268.57 194.49 L268.66 194.45 L268.74 194.42 L268.83 194.38 L268.91 194.35 L269 194.32 L269.09 194.28 L269.17 194.25 L269.26 194.21 L269.35 194.18 L269.43 194.15 L269.52 194.11 L269.6 194.08 L269.69 194.05 L269.78 194.02 L269.86 193.98 L269.95 193.95 L270.04 193.92 L270.12 193.89 L270.21 193.85 L270.29 193.82 L270.38 193.79 L270.47 193.76 L270.55 193.73 L270.64 193.69 L270.73 193.66 L270.81 193.63 L270.9 193.6 L270.98 193.57 L271.07 193.54 L271.16 193.51 L271.24 193.48 L271.33 193.45 L271.42 193.42 L271.5 193.39 L271.59 193.36 L271.67 193.33 L271.76 193.3 L271.85 193.27 L271.93 193.24 L272.02 193.21 L272.11 193.18 L272.19 193.15 L272.28 193.12 L272.36 193.09 L272.45 193.06 L272.54 193.03 L272.62 193 L272.71 192.97 L272.8 192.94 L272.88 192.91 L272.97 192.89 L273.05 192.86 L273.14 192.83 L273.23 192.8 L273.31 192.77 L273.4 192.74 L273.49 192.72 L273.57 192.69 L273.66 192.66 L273.74 192.63 L273.83 192.61 L273.92 192.58 L274 192.55 L274.09 192.52 L274.18 192.5 L274.26 192.47 L274.35 192.44 L274.43 192.41 L274.52 192.39 L274.61 192.36 L274.69 192.33 L274.78 192.31 L274.87 192.28 L274.95 192.25 L275.04 192.23 L275.12 192.2 L275.21 192.17 L275.3 192.15 L275.38 192.12 L275.47 192.1 L275.56 192.07 L275.64 192.04 L275.73 192.02 L275.81 191.99 L275.9 191.97 L275.99 191.94 L276.07 191.91 L276.16 191.89 L276.25 191.86 L276.33 191.84 L276.42 191.81 L276.5 191.79 L276.59 191.76 L276.68 191.74 L276.76 191.71 L276.85 191.69 L276.94 191.66 L277.02 191.64 L277.11 191.61 L277.19 191.59 L277.28 191.56 L277.37 191.54 L277.45 191.51 L277.54 191.49 L277.62 191.46 L277.71 191.44 L277.8 191.42 L277.88 191.39 L277.97 191.37 L278.06 191.34 L278.14 191.32 L278.23 191.29 L278.31 191.27 L278.4 191.25 L278.49 191.22 L278.57 191.2 L278.66 191.18 L278.75 191.15 L278.83 191.13 L278.92 191.1 L279 191.08 L279.09 191.06 L279.18 191.03 L279.26 191.01 L279.35 190.99 L279.44 190.96 L279.52 190.94 L279.61 190.92 L279.69 190.89 L279.78 190.87 L279.87 190.85 L279.95 190.82 L280.04 190.8 L280.13 190.78 L280.21 190.76 L280.3 190.73 L280.38 190.71 L280.47 190.69 L280.56 190.66 L280.64 190.64 L280.73 190.62 L280.82 190.6 L280.9 190.57 L280.99 190.55 L281.08 190.53 L281.16 190.51 L281.25 190.48 L281.33 190.46 L281.42 190.44 L281.51 190.42 L281.59 190.4 L281.68 190.37 L281.76 190.35 L281.85 190.33 L281.94 190.31 L282.02 190.28 L282.11 190.26 L282.2 190.24 L282.28 190.22 L282.37 190.2 L282.46 190.17 L282.54 190.15 L282.63 190.13 L282.71 190.11 L282.8 190.09 L282.89 190.07 L282.97 190.04 L283.06 190.02 L283.14 190 L283.23 189.98 L283.32 189.96 L283.4 189.94 L283.49 189.92 L283.58 189.89 L283.66 189.87 L283.75 189.85 L283.84 189.83 L283.92 189.81 L284.01 189.79 L284.09 189.77 L284.18 189.75 L284.27 189.72 L284.35 189.7 L284.44 189.68 L284.53 189.66 L284.61 189.64 L284.7 189.62 L284.78 189.6 L284.87 189.58 L284.96 189.56 L285.04 189.53 L285.13 189.51 L285.22 189.49 L285.3 189.47 L285.39 189.45 L285.47 189.43 L285.56 189.41 L285.65 189.39 L285.73 189.37 L285.82 189.35 L285.91 189.33 L285.99 189.31 L286.08 189.29 L286.16 189.27 L286.25 189.25 L286.34 189.22 L286.42 189.2 L286.51 189.18 L286.6 189.16 L286.68 189.14 L286.77 189.12 L286.85 189.1 L286.94 189.08 L287.03 189.06 L287.11 189.04 L287.2 189.02 L287.29 189 L287.37 188.98 L287.46 188.96 L287.54 188.94 L287.63 188.92 L287.72 188.9 L287.8 188.88 L287.89 188.86 L287.98 188.84 L288.06 188.82 L288.15 188.8 L288.23 188.78 L288.32 188.76 L288.41 188.74 L288.49 188.72 L288.58 188.7 L288.67 188.68 L288.75 188.66 L288.84 188.64 L288.92 188.62 L289.01 188.6 L289.1 188.58 L289.18 188.56 L289.27 188.54 L289.36 188.52 L289.44 188.5 L289.53 188.48 L289.61 188.46 L289.7 188.44 L289.79 188.42 L289.87 188.4 L289.96 188.38 L290.05 188.36 L290.13 188.34 L290.22 188.32 L290.3 188.3 L290.39 188.28 L290.48 188.26 L290.56 188.24 L290.65 188.22 L290.74 188.2 L290.82 188.18 L290.91 188.17 L290.99 188.15 L291.08 188.13 L291.17 188.11 L291.25 188.09 L291.34 188.07 L291.43 188.05 L291.51 188.03 L291.6 188.01 L291.68 187.99 L291.77 187.97 L291.86 187.95 L291.94 187.93 L292.03 187.91 L292.12 187.89 L292.2 187.87 L292.29 187.85 L292.37 187.83 L292.46 187.82 L292.55 187.8 L292.63 187.78 L292.72 187.76 L292.81 187.74 L292.89 187.72 L292.98 187.7 L293.06 187.68 L293.15 187.66 L293.24 187.64 L293.32 187.62 L293.41 187.6 L293.5 187.58 L293.58 187.56 L293.67 187.54 L293.75 187.53 L293.84 187.51 L293.93 187.49 L294.01 187.47 L294.1 187.45 L294.19 187.43 L294.27 187.41 L294.36 187.39 L294.44 187.37 L294.53 187.35 L294.62 187.33 L294.7 187.31 L294.79 187.3 L294.88 187.28 L294.96 187.26 L295.05 187.24 L295.13 187.22 L295.22 187.2 L295.31 187.18 L295.39 187.16 L295.48 187.14 L295.56 187.12 L295.65 187.1 L295.74 187.09 L295.82 187.07 L295.91 187.05 L296 187.03 L296.08 187.01 L296.17 186.99 L296.25 186.97 L296.34 186.95 L296.43 186.93 L296.51 186.91 L296.6 186.89 L296.69 186.88 L296.77 186.86 L296.86 186.84 L296.94 186.82 L297.03 186.8 L297.12 186.78 L297.2 186.76 L297.29 186.74 L297.38 186.72 L297.46 186.7 L297.55 186.69 L297.63 186.67 L297.72 186.65 L297.81 186.63 L297.89 186.61 L297.98 186.59 L298.07 186.57 L298.15 186.55 L298.24 186.53 L298.32 186.52 L298.41 186.5 L298.5 186.48 L298.58 186.46 L298.67 186.44 L298.76 186.42 L298.84 186.4 L298.93 186.38 L299.01 186.36 L299.1 186.35 L299.19 186.33 L299.27 186.31 L299.36 186.29 L299.45 186.27 L299.53 186.25 L299.62 186.23 L299.71 186.21 L299.79 186.2 L299.88 186.18 L299.96 186.16 L300.05 186.14 L300.14 186.12 L300.22 186.1 L300.31 186.08 L300.39 186.06 L300.48 186.05 L300.57 186.03 L300.65 186.01 L300.74 185.99 L300.83 185.97 L300.91 185.95 L301 185.93 L301.09 185.92 L301.17 185.9 L301.26 185.88 L301.34 185.86 L301.43 185.84 L301.52 185.82 L301.6 185.8 L301.69 185.79 L301.78 185.77 L301.86 185.75 L301.95 185.73 L302.03 185.71 L302.12 185.69 L302.21 185.68 L302.29 185.66 L302.38 185.64 L302.47 185.62 L302.55 185.6 L302.64 185.58 L302.72 185.57 L302.81 185.55 L302.9 185.53 L302.98 185.51 L303.07 185.49 L303.16 185.48 L303.24 185.46 L303.33 185.44 L303.41 185.42 L303.5 185.4 L303.59 185.39 L303.67 185.37 L303.76 185.35 L303.85 185.33 L303.93 185.31 L304.02 185.3 L304.1 185.28 L304.19 185.26 L304.28 185.24 L304.36 185.23 L304.45 185.21 L304.54 185.19 L304.62 185.17 L304.71 185.16 L304.79 185.14 L304.88 185.12 L304.97 185.11 L305.05 185.09 L305.14 185.07 L305.23 185.06 L305.31 185.04 L305.4 185.02 L305.48 185.01 L305.57 184.99 L305.66 184.97 L305.74 184.96 L305.83 184.94 L305.92 184.93 L306 184.91 L306.09 184.89 L306.17 184.88 L306.26 184.86 L306.35 184.85 L306.43 184.83 L306.52 184.82 L306.61 184.8 L306.69 184.79 L306.78 184.77 L306.86 184.76 L306.95 184.74 L307.04 184.73 L307.12 184.72 L307.21 184.7 L307.3 184.69 L307.38 184.67 L307.47 184.66 L307.55 184.65 L307.64 184.64 L307.73 184.62 L307.81 184.61 L307.9 184.6 L307.99 184.59 L308.07 184.58 L308.16 184.56 L308.24 184.55 L308.33 184.54 L308.42 184.53 L308.5 184.52 L308.59 184.51 L308.68 184.5 L308.76 184.5 L308.85 184.49 L308.93 184.48 L309.02 184.47 L309.11 184.47 L309.19 184.46 L309.28 184.45 L309.37 184.45 L309.45 184.44 L309.54 184.44 L309.62 184.43 L309.71 184.43 L309.8 184.43 L309.88 184.43 L309.97 184.43 L310.06 184.43 L310.14 184.43 L310.23 184.43 L310.31 184.43 L310.4 184.43 L310.49 184.44 L310.57 184.44 L310.66 184.45 L310.75 184.46 L310.83 184.47 L310.92 184.48 L311 184.49 L311.09 184.5 L311.18 184.51 L311.26 184.53 L311.35 184.55 L311.44 184.57 L311.52 184.59 L311.61 184.61 L311.69 184.63 L311.78 184.66 L311.87 184.69 L311.95 184.72 L312.04 184.76 L312.12 184.79 L312.21 184.83 L312.3 184.88 L312.38 184.92 L312.47 184.97 L312.56 185.03 L312.64 185.08 L312.73 185.15 L312.81 185.21 L312.9 185.28 L312.99 185.36 L313.07 185.44 L313.16 185.53 L313.25 185.63 L313.33 185.73 L313.42 185.84 L313.5 185.95 L313.59 186.08 L313.68 186.22 L313.76 186.36 L313.85 186.52 L313.94 186.69 L314.02 186.87 L314.11 187.07 L314.2 187.29 L314.28 187.52 L314.37 187.77 L314.45 188.04 L314.54 188.33 L314.63 188.65 L314.71 189 L314.8 189.38 L314.88 189.79 L314.97 190.25 L315.06 190.74 L315.14 191.29 L315.23 191.88 L315.32 192.54 L315.4 193.26 L315.49 194.06 L315.57 194.94 L315.66 195.92 L315.75 197 L315.83 198.2 L315.92 199.52 L316.01 200.99 L316.09 202.62 L316.18 204.41 L316.26 206.37 L316.35 208.51 L316.44 210.82 L316.52 213.27 L316.61 215.84 L316.7 218.46 L316.78 221.07 L316.87 223.59 L316.96 225.92 L317.04 227.98 L317.13 229.7 L317.21 231.04 L317.3 232 L317.39 232.59 L317.47 232.85 L317.56 232.82 L317.65 232.56 L317.73 232.13 L317.82 231.56 L317.9 230.89 L317.99 230.16 L318.08 229.38 L318.16 228.59 L318.25 227.78 L318.34 226.98 L318.42 226.19 L318.51 225.42 L318.59 224.66 L318.68 223.93 L318.77 223.22 L318.85 222.54 L318.94 221.87 L319.02 221.23 L319.11 220.62 L319.2 220.03 L319.28 219.46 L319.37 218.91 L319.46 218.38 L319.54 217.87 L319.63 217.38 L319.72 216.9 L319.8 216.45 L319.89 216.01 L319.97 215.58 L320.06 215.17 L320.15 214.77 L320.23 214.39 L320.32 214.01 L320.4 213.65 L320.49 213.3 L320.58 212.96 L320.66 212.64 L320.75 212.32 L320.84 212.01 L320.92 211.71 L321.01 211.42 L321.1 211.13 L321.18 210.86 L321.27 210.59 L321.35 210.33 L321.44 210.07 L321.53 209.82 L321.61 209.58 L321.7 209.34 L321.79 209.11 L321.87 208.89 L321.96 208.67 L322.04 208.45 L322.13 208.24 L322.22 208.04 L322.3 207.84 L322.39 207.64 L322.48 207.45 L322.56 207.26 L322.65 207.08 L322.73 206.9 L322.82 206.72 L322.91 206.55 L322.99 206.38 L323.08 206.21 L323.17 206.05 L323.25 205.89 L323.34 205.73 L323.42 205.58 L323.51 205.43 L323.6 205.28 L323.68 205.13 L323.77 204.99 L323.86 204.85 L323.94 204.71 L324.03 204.57 L324.11 204.44 L324.2 204.3 L324.29 204.17 L324.37 204.05 L324.46 203.92 L324.55 203.8 L324.63 203.67 L324.72 203.55 L324.8 203.44 L324.89 203.32 L324.98 203.2 L325.06 203.09 L325.15 202.98 L325.24 202.87 L325.32 202.76 L325.41 202.65 L325.49 202.55 L325.58 202.45 L325.67 202.34 L325.75 202.24 L325.84 202.14 L325.93 202.04 L326.01 201.95 L326.1 201.85 L326.18 201.75 L326.27 201.66 L326.36 201.57 L326.44 201.48 L326.53 201.39 L326.62 201.3 L326.7 201.21 L326.79 201.12 L326.87 201.03 L326.96 200.95 L327.05 200.86 L327.13 200.78 L327.22 200.7 L327.31 200.62 L327.39 200.54 L327.48 200.46 L327.56 200.38 L327.65 200.3 L327.74 200.22 L327.82 200.15 L327.91 200.07 L328 200 L328.08 199.92 L328.17 199.85 L328.25 199.78 L328.34 199.7 L328.43 199.63 L328.51 199.56 L328.6 199.49 L328.69 199.42 L328.77 199.36 L328.86 199.29 L328.94 199.22 L329.03 199.15 L329.12 199.09 L329.2 199.02 L329.29 198.96 L329.38 198.89 L329.46 198.83 L329.55 198.77 L329.63 198.7 L329.72 198.64 L329.81 198.58 L329.89 198.52 L329.98 198.46 L330.06 198.4 L330.15 198.34 L330.24 198.28 L330.32 198.22 L330.41 198.16 L330.5 198.11 L330.58 198.05 L330.67 197.99 L330.75 197.94 L330.84 197.88 L330.93 197.83 L331.01 197.77 L331.1 197.72 L331.19 197.66 L331.27 197.61 L331.36 197.56 L331.45 197.5 L331.53 197.45 L331.62 197.4 L331.7 197.35 L331.79 197.3 L331.88 197.24 L331.96 197.19 L332.05 197.14 L332.13 197.09 L332.22 197.04 L332.31 196.99 L332.39 196.95 L332.48 196.9 L332.57 196.85 L332.65 196.8 L332.74 196.75 L332.83 196.71 L332.91 196.66 L333 196.61 L333.08 196.57 L333.17 196.52 L333.26 196.47 L333.34 196.43 L333.43 196.38 L333.51 196.34 L333.6 196.29 L333.69 196.25 L333.77 196.21 L333.86 196.16 L333.95 196.12 L334.03 196.07 L334.12 196.03 L334.21 195.99 L334.29 195.95 L334.38 195.9 L334.46 195.86 L334.55 195.82 L334.64 195.78 L334.72 195.74 L334.81 195.7 L334.9 195.66 L334.98 195.61 L335.07 195.57 L335.15 195.53 L335.24 195.49 L335.33 195.45 L335.41 195.41 L335.5 195.38 L335.59 195.34 L335.67 195.3 L335.76 195.26 L335.84 195.22 L335.93 195.18 L336.02 195.14 L336.1 195.11 L336.19 195.07 L336.28 195.03 L336.36 194.99 L336.45 194.96 L336.53 194.92 L336.62 194.88 L336.71 194.85 L336.79 194.81 L336.88 194.77 L336.97 194.74 L337.05 194.7 L337.14 194.67 L337.22 194.63 L337.31 194.59 L337.4 194.56 L337.48 194.52 L337.57 194.49 L337.65 194.45 L337.74 194.42 L337.83 194.38 L337.91 194.35 L338 194.32 L338.09 194.28 L338.17 194.25 L338.26 194.21 L338.35 194.18 L338.43 194.15 L338.52 194.11 L338.6 194.08 L338.69 194.05 L338.78 194.02 L338.86 193.98 L338.95 193.95 L339.04 193.92 L339.12 193.89 L339.21 193.85 L339.29 193.82 L339.38 193.79 L339.47 193.76 L339.55 193.73 L339.64 193.69 L339.73 193.66 L339.81 193.63 L339.9 193.6 L339.98 193.57 L340.07 193.54 L340.16 193.51 L340.24 193.48 L340.33 193.45 L340.42 193.42 L340.5 193.39 L340.59 193.36 L340.67 193.33 L340.76 193.3 L340.85 193.27 L340.93 193.24 L341.02 193.21 L341.11 193.18 L341.19 193.15 L341.28 193.12 L341.36 193.09 L341.45 193.06 L341.54 193.03 L341.62 193 L341.71 192.97 L341.8 192.94 L341.88 192.91 L341.97 192.89 L342.05 192.86 L342.14 192.83 L342.23 192.8 L342.31 192.77 L342.4 192.74 L342.49 192.72 L342.57 192.69 L342.66 192.66 L342.74 192.63 L342.83 192.61 L342.92 192.58 L343 192.55 L343.09 192.52 L343.18 192.5 L343.26 192.47 L343.35 192.44 L343.43 192.41 L343.52 192.39 L343.61 192.36 L343.69 192.33 L343.78 192.31 L343.87 192.28 L343.95 192.25 L344.04 192.23 L344.12 192.2 L344.21 192.17 L344.3 192.15 L344.38 192.12 L344.47 192.1 L344.56 192.07 L344.64 192.04 L344.73 192.02 L344.81 191.99 L344.9 191.97 L344.99 191.94 L345.07 191.91 L345.16 191.89 L345.25 191.86 L345.33 191.84 L345.42 191.81 L345.5 191.79 L345.59 191.76 L345.68 191.74 L345.76 191.71 L345.85 191.69 L345.94 191.66 L346.02 191.64 L346.11 191.61 L346.19 191.59 L346.28 191.56 L346.37 191.54 L346.45 191.51 L346.54 191.49 L346.62 191.46 L346.71 191.44 L346.8 191.42 L346.88 191.39 L346.97 191.37 L347.06 191.34 L347.14 191.32 L347.23 191.29 L347.31 191.27 L347.4 191.25 L347.49 191.22 L347.57 191.2 L347.66 191.18 L347.75 191.15 L347.83 191.13 L347.92 191.1 L348 191.08 L348.09 191.06 L348.18 191.03 L348.26 191.01 L348.35 190.99 L348.44 190.96 L348.52 190.94 L348.61 190.92 L348.7 190.89 L348.78 190.87 L348.87 190.85 L348.95 190.82 L349.04 190.8 L349.13 190.78 L349.21 190.76 L349.3 190.73 L349.38 190.71 L349.47 190.69 L349.56 190.66 L349.64 190.64 L349.73 190.62 L349.82 190.6 L349.9 190.57 L349.99 190.55 L350.08 190.53 L350.16 190.51 L350.25 190.48 L350.33 190.46 L350.42 190.44 L350.51 190.42 L350.59 190.4 L350.68 190.37 L350.76 190.35 L350.85 190.33 L350.94 190.31 L351.02 190.28 L351.11 190.26 L351.2 190.24 L351.28 190.22 L351.37 190.2 L351.46 190.17 L351.54 190.15 L351.63 190.13 L351.71 190.11 L351.8 190.09 L351.89 190.07 L351.97 190.04 L352.06 190.02 L352.15 190 L352.23 189.98 L352.32 189.96 L352.4 189.94 L352.49 189.92 L352.58 189.89 L352.66 189.87 L352.75 189.85 L352.84 189.83 L352.92 189.81 L353.01 189.79 L353.09 189.77 L353.18 189.75 L353.27 189.72 L353.35 189.7 L353.44 189.68 L353.53 189.66 L353.61 189.64 L353.7 189.62 L353.78 189.6 L353.87 189.58 L353.96 189.56 L354.04 189.53 L354.13 189.51 L354.22 189.49 L354.3 189.47 L354.39 189.45 L354.47 189.43 L354.56 189.41 L354.65 189.39 L354.73 189.37 L354.82 189.35 L354.9 189.33 L354.99 189.31 L355.08 189.29 L355.16 189.27 L355.25 189.25 L355.34 189.22 L355.42 189.2 L355.51 189.18 L355.6 189.16 L355.68 189.14 L355.77 189.12 L355.85 189.1 L355.94 189.08 L356.03 189.06 L356.11 189.04 L356.2 189.02 L356.29 189 L356.37 188.98 L356.46 188.96 L356.54 188.94 L356.63 188.92 L356.72 188.9 L356.8 188.88 L356.89 188.86 L356.98 188.84 L357.06 188.82 L357.15 188.8 L357.23 188.78 L357.32 188.76 L357.41 188.74 L357.49 188.72 L357.58 188.7 L357.67 188.68 L357.75 188.66 L357.84 188.64 L357.92 188.62 L358.01 188.6 L358.1 188.58 L358.18 188.56 L358.27 188.54 L358.36 188.52 L358.44 188.5 L358.53 188.48 L358.61 188.46 L358.7 188.44 L358.79 188.42 L358.87 188.4 L358.96 188.38 L359.05 188.36 L359.13 188.34 L359.22 188.32 L359.3 188.3 L359.39 188.28 L359.48 188.26 L359.56 188.24 L359.65 188.22 L359.74 188.2 L359.82 188.18 L359.91 188.17 L359.99 188.15 L360.08 188.13 L360.17 188.11 L360.25 188.09 L360.34 188.07 L360.43 188.05 L360.51 188.03 L360.6 188.01 L360.68 187.99 L360.77 187.97 L360.86 187.95 L360.94 187.93 L361.03 187.91 L361.12 187.89 L361.2 187.87 L361.29 187.85 L361.37 187.83 L361.46 187.82 L361.55 187.8 L361.63 187.78 L361.72 187.76 L361.81 187.74 L361.89 187.72 L361.98 187.7 L362.06 187.68 L362.15 187.66 L362.24 187.64 L362.32 187.62 L362.41 187.6 L362.5 187.58 L362.58 187.56 L362.67 187.54 L362.75 187.53 L362.84 187.51 L362.93 187.49 L363.01 187.47 L363.1 187.45 L363.19 187.43 L363.27 187.41 L363.36 187.39 L363.44 187.37 L363.53 187.35 L363.62 187.33 L363.7 187.31 L363.79 187.3 L363.88 187.28 L363.96 187.26 L364.05 187.24 L364.13 187.22 L364.22 187.2 L364.31 187.18 L364.39 187.16 L364.48 187.14 L364.56 187.12 L364.65 187.1 L364.74 187.09 L364.82 187.07 L364.91 187.05 L365 187.03 L365.08 187.01 L365.17 186.99 L365.25 186.97 L365.34 186.95 L365.43 186.93 L365.51 186.91 L365.6 186.89 L365.69 186.88 L365.77 186.86 L365.86 186.84 L365.95 186.82 L366.03 186.8 L366.12 186.78 L366.2 186.76 L366.29 186.74 L366.38 186.72 L366.46 186.7 L366.55 186.69 L366.63 186.67 L366.72 186.65 L366.81 186.63 L366.89 186.61 L366.98 186.59 L367.07 186.57 L367.15 186.55 L367.24 186.53 L367.33 186.52 L367.41 186.5 L367.5 186.48 L367.58 186.46 L367.67 186.44 L367.76 186.42 L367.84 186.4 L367.93 186.38 L368.01 186.36 L368.1 186.35 L368.19 186.33 L368.27 186.31 L368.36 186.29 L368.45 186.27 L368.53 186.25 L368.62 186.23 L368.71 186.21 L368.79 186.2 L368.88 186.18 L368.96 186.16 L369.05 186.14 L369.14 186.12 L369.22 186.1 L369.31 186.08 L369.4 186.06 L369.48 186.05 L369.57 186.03 L369.65 186.01 L369.74 185.99 L369.83 185.97 L369.91 185.95 L370 185.93 L370.09 185.92 L370.17 185.9 L370.26 185.88 L370.34 185.86 L370.43 185.84 L370.52 185.82 L370.6 185.8 L370.69 185.79 L370.78 185.77 L370.86 185.75 L370.95 185.73 L371.03 185.71 L371.12 185.69 L371.21 185.68 L371.29 185.66 L371.38 185.64 L371.47 185.62 L371.55 185.6 L371.64 185.58 L371.72 185.57 L371.81 185.55 L371.9 185.53 L371.98 185.51 L372.07 185.49 L372.15 185.48 L372.24 185.46 L372.33 185.44 L372.41 185.42 L372.5 185.4 L372.59 185.39 L372.67 185.37 L372.76 185.35 L372.85 185.33 L372.93 185.31 L373.02 185.3 L373.1 185.28 L373.19 185.26 L373.28 185.24 L373.36 185.23 L373.45 185.21 L373.54 185.19 L373.62 185.17 L373.71 185.16 L373.79 185.14 L373.88 185.12 L373.97 185.11 L374.05 185.09 L374.14 185.07 L374.23 185.06 L374.31 185.04 L374.4 185.02 L374.48 185.01 L374.57 184.99 L374.66 184.97 L374.74 184.96 L374.83 184.94 L374.92 184.93 L375 184.91 L375.09 184.89 L375.17 184.88 L375.26 184.86 L375.35 184.85 L375.43 184.83 L375.52 184.82 L375.61 184.8 L375.69 184.79 L375.78 184.77 L375.86 184.76 L375.95 184.74 L376.04 184.73 L376.12 184.72 L376.21 184.7 L376.3 184.69 L376.38 184.67 L376.47 184.66 L376.55 184.65 L376.64 184.64 L376.73 184.62 L376.81 184.61 L376.9 184.6 L376.99 184.59 L377.07 184.58 L377.16 184.56 L377.24 184.55 L377.33 184.54 L377.42 184.53 L377.5 184.52 L377.59 184.51 L377.68 184.5 L377.76 184.5 L377.85 184.49 L377.93 184.48 L378.02 184.47 L378.11 184.47 L378.19 184.46 L378.28 184.45 L378.37 184.45 L378.45 184.44 L378.54 184.44 L378.62 184.43 L378.71 184.43 L378.8 184.43 L378.88 184.43 L378.97 184.43 L379.06 184.43 L379.14 184.43 L379.23 184.43 L379.31 184.43 L379.4 184.43 L379.49 184.44 L379.57 184.44 L379.66 184.45 L379.75 184.46 L379.83 184.47 L379.92 184.48 L380 184.49 L380.09 184.5 L380.18 184.51 L380.26 184.53 L380.35 184.55 L380.44 184.57 L380.52 184.59 L380.61 184.61 L380.69 184.63 L380.78 184.66 L380.87 184.69 L380.95 184.72 L381.04 184.76 L381.12 184.79 L381.21 184.83 L381.3 184.88 L381.38 184.92 L381.47 184.97 L381.56 185.03 L381.64 185.08 L381.73 185.15 L381.82 185.21 L381.9 185.28 L381.99 185.36 L382.07 185.44 L382.16 185.53 L382.25 185.63 L382.33 185.73 L382.42 185.84 L382.5 185.95 L382.59 186.08 L382.68 186.22 L382.76 186.36 L382.85 186.52 L382.94 186.69 L383.02 186.87 L383.11 187.07 L383.2 187.29 L383.28 187.52 L383.37 187.77 L383.45 188.04 L383.54 188.33 L383.63 188.65 L383.71 189 L383.8 189.38 L383.88 189.79 L383.97 190.25 L384.06 190.74 L384.14 191.29 L384.23 191.88 L384.32 192.54 L384.4 193.26 L384.49 194.06 L384.58 194.94 L384.66 195.92 L384.75 197 L384.83 198.2 L384.92 199.52 L385.01 200.99 L385.09 202.62 L385.18 204.41 L385.26 206.37 L385.35 208.51 L385.44 210.82 L385.52 213.27 L385.61 215.84 L385.7 218.46 L385.78 221.07 L385.87 223.59 L385.96 225.92 L386.04 227.98 L386.13 229.7 L386.21 231.04 L386.3 232" fill="none" stroke="#111" stroke-width="1.7" stroke-linejoin="round"/>
<path fill="#111" d="M252.6 191.7l1.65 4.1l-1.65 4.1l-1.65 -4.1zM321.6 191.7l1.65 4.1l-1.65 4.1l-1.65 -4.1zM252.6 200.5l1.65 4.1l-1.65 4.1l-1.65 -4.1zM321.6 200.5l1.65 4.1l-1.65 4.1l-1.65 -4.1zM253.3 207.1l1.65 4.1l-1.65 4.1l-1.65 -4.1zM322.3 207.1l1.65 4.1l-1.65 4.1l-1.65 -4.1zM255.5 214.4l1.65 4.1l-1.65 4.1l-1.65 -4.1zM324.5 214.4l1.65 4.1l-1.65 4.1l-1.65 -4.1zM258.5 208.6l1.65 4.1l-1.65 4.1l-1.65 -4.1zM327.5 208.6l1.65 4.1l-1.65 4.1l-1.65 -4.1zM261.4 210l1.65 4.1l-1.65 4.1l-1.65 -4.1zM330.4 210l1.65 4.1l-1.65 4.1l-1.65 -4.1zM259.9 186.6l1.65 4.1l-1.65 4.1l-1.65 -4.1zM328.9 186.6l1.65 4.1l-1.65 4.1l-1.65 -4.1zM260.7 190.2l1.65 4.1l-1.65 4.1l-1.65 -4.1zM329.7 190.2l1.65 4.1l-1.65 4.1l-1.65 -4.1zM262.1 193.9l1.65 4.1l-1.65 4.1l-1.65 -4.1zM331.1 193.9l1.65 4.1l-1.65 4.1l-1.65 -4.1zM265.8 193.9l1.65 4.1l-1.65 4.1l-1.65 -4.1zM334.8 193.9l1.65 4.1l-1.65 4.1l-1.65 -4.1zM266.5 191l1.65 4.1l-1.65 4.1l-1.65 -4.1zM335.5 191l1.65 4.1l-1.65 4.1l-1.65 -4.1zM268.7 181.4l1.65 4.1l-1.65 4.1l-1.65 -4.1zM337.7 181.4l1.65 4.1l-1.65 4.1l-1.65 -4.1zM270.9 184.4l1.65 4.1l-1.65 4.1l-1.65 -4.1zM339.9 184.4l1.65 4.1l-1.65 4.1l-1.65 -4.1zM272.4 191.7l1.65 4.1l-1.65 4.1l-1.65 -4.1zM341.4 191.7l1.65 4.1l-1.65 4.1l-1.65 -4.1zM273.1 194.6l1.65 4.1l-1.65 4.1l-1.65 -4.1zM342.1 194.6l1.65 4.1l-1.65 4.1l-1.65 -4.1zM274.6 196.8l1.65 4.1l-1.65 4.1l-1.65 -4.1zM343.6 196.8l1.65 4.1l-1.65 4.1l-1.65 -4.1zM272.4 211.5l1.65 4.1l-1.65 4.1l-1.65 -4.1zM341.4 211.5l1.65 4.1l-1.65 4.1l-1.65 -4.1zM276.8 182.9l1.65 4.1l-1.65 4.1l-1.65 -4.1zM345.8 182.9l1.65 4.1l-1.65 4.1l-1.65 -4.1zM278.3 176.3l1.65 4.1l-1.65 4.1l-1.65 -4.1zM347.3 176.3l1.65 4.1l-1.65 4.1l-1.65 -4.1zM280.5 167.5l1.65 4.1l-1.65 4.1l-1.65 -4.1zM349.5 167.5l1.65 4.1l-1.65 4.1l-1.65 -4.1zM280.5 212.2l1.65 4.1l-1.65 4.1l-1.65 -4.1zM349.5 212.2l1.65 4.1l-1.65 4.1l-1.65 -4.1zM283.4 184.4l1.65 4.1l-1.65 4.1l-1.65 -4.1zM352.4 184.4l1.65 4.1l-1.65 4.1l-1.65 -4.1zM287.2 190l1.65 4.1l-1.65 4.1l-1.65 -4.1zM356.2 190l1.65 4.1l-1.65 4.1l-1.65 -4.1zM290 190.6l1.65 4.1l-1.65 4.1l-1.65 -4.1zM359 190.6l1.65 4.1l-1.65 4.1l-1.65 -4.1zM287.75 176.3l1.65 4.1l-1.65 4.1l-1.65 -4.1zM356.75 176.3l1.65 4.1l-1.65 4.1l-1.65 -4.1zM288.9 174.1l1.65 4.1l-1.65 4.1l-1.65 -4.1zM357.9 174.1l1.65 4.1l-1.65 4.1l-1.65 -4.1zM292.2 169.65l1.65 4.1l-1.65 4.1l-1.65 -4.1zM361.2 169.65l1.65 4.1l-1.65 4.1l-1.65 -4.1zM302.6 170.75l1.65 4.1l-1.65 4.1l-1.65 -4.1zM371.6 170.75l1.65 4.1l-1.65 4.1l-1.65 -4.1zM295.5 183.4l1.65 4.1l-1.65 4.1l-1.65 -4.1zM364.5 183.4l1.65 4.1l-1.65 4.1l-1.65 -4.1zM296.55 186.7l1.65 4.1l-1.65 4.1l-1.65 -4.1zM365.55 186.7l1.65 4.1l-1.65 4.1l-1.65 -4.1zM306.45 180.1l1.65 4.1l-1.65 4.1l-1.65 -4.1zM375.45 180.1l1.65 4.1l-1.65 4.1l-1.65 -4.1zM306.45 185.6l1.65 4.1l-1.65 4.1l-1.65 -4.1zM375.45 185.6l1.65 4.1l-1.65 4.1l-1.65 -4.1zM307.55 188.9l1.65 4.1l-1.65 4.1l-1.65 -4.1zM376.55 188.9l1.65 4.1l-1.65 4.1l-1.65 -4.1zM308.65 192.2l1.65 4.1l-1.65 4.1l-1.65 -4.1zM377.65 192.2l1.65 4.1l-1.65 4.1l-1.65 -4.1zM314.7 187.8l1.65 4.1l-1.65 4.1l-1.65 -4.1zM383.7 187.8l1.65 4.1l-1.65 4.1l-1.65 -4.1zM317.6 227.4l1.65 4.1l-1.65 4.1l-1.65 -4.1z"/>
<text x="308.7" y="154.2" font-size="6" font-weight="bold" textLength="25.8" lengthAdjust="spacingAndGlyphs" fill="#2a2a2a">P=13.2 d</text>
<text x="308.7" y="160.75" font-size="6" font-weight="bold" textLength="34.8" lengthAdjust="spacingAndGlyphs" fill="#2a2a2a">K=0.77 m/s</text>
<text x="308.7" y="167.3" font-size="6" font-weight="bold" textLength="18.6" lengthAdjust="spacingAndGlyphs" fill="#2a2a2a">e=0.81</text>
<text x="308.7" y="173.85" font-size="6" font-weight="bold" textLength="41.5" lengthAdjust="spacingAndGlyphs" fill="#2a2a2a">RMS=0.28 m/s</text>
<text x="358.3" y="164" font-size="11.5" textLength="13.5" lengthAdjust="spacingAndGlyphs">(e)</text>
<path d="M451.6 241v-3.2M451.6 143.6v3.2M460.23 241v-1.6M460.23 143.6v1.6M468.85 241v-1.6M468.85 143.6v1.6M477.48 241v-1.6M477.48 143.6v1.6M486.1 241v-3.2M486.1 143.6v3.2M494.73 241v-1.6M494.73 143.6v1.6M503.35 241v-1.6M503.35 143.6v1.6M511.98 241v-1.6M511.98 143.6v1.6M520.6 241v-3.2M520.6 143.6v3.2M529.23 241v-1.6M529.23 143.6v1.6M537.85 241v-1.6M537.85 143.6v1.6M546.48 241v-1.6M546.48 143.6v1.6M555.1 241v-3.2M555.1 143.6v3.2M563.73 241v-1.6M563.73 143.6v1.6M572.35 241v-1.6M572.35 143.6v1.6M580.98 241v-1.6M580.98 143.6v1.6M589.6 241v-3.2M589.6 143.6v3.2M451.6 241h3.2M589.6 241h-3.2M451.6 236.94h1.6M589.6 236.94h-1.6M451.6 232.88h1.6M589.6 232.88h-1.6M451.6 228.82h1.6M589.6 228.82h-1.6M451.6 224.77h3.2M589.6 224.77h-3.2M451.6 220.71h1.6M589.6 220.71h-1.6M451.6 216.65h1.6M589.6 216.65h-1.6M451.6 212.59h1.6M589.6 212.59h-1.6M451.6 208.53h3.2M589.6 208.53h-3.2M451.6 204.47h1.6M589.6 204.47h-1.6M451.6 200.42h1.6M589.6 200.42h-1.6M451.6 196.36h1.6M589.6 196.36h-1.6M451.6 192.3h3.2M589.6 192.3h-3.2M451.6 188.24h1.6M589.6 188.24h-1.6M451.6 184.18h1.6M589.6 184.18h-1.6M451.6 180.12h1.6M589.6 180.12h-1.6M451.6 176.07h3.2M589.6 176.07h-3.2M451.6 172.01h1.6M589.6 172.01h-1.6M451.6 167.95h1.6M589.6 167.95h-1.6M451.6 163.89h1.6M589.6 163.89h-1.6M451.6 159.83h3.2M589.6 159.83h-3.2M451.6 155.77h1.6M589.6 155.77h-1.6M451.6 151.72h1.6M589.6 151.72h-1.6M451.6 147.66h1.6M589.6 147.66h-1.6M451.6 143.6h3.2M589.6 143.6h-3.2" stroke="#111" stroke-width="1" fill="none"/>
<rect x="451.6" y="143.6" width="138" height="97.4" fill="none" stroke="#111" stroke-width="1.4" stroke-linejoin="round"/>
<text x="451.6" y="256.3" font-size="10" text-anchor="middle" textLength="6.28" lengthAdjust="spacingAndGlyphs">0</text>
<text x="486.1" y="256.3" font-size="10" text-anchor="middle" textLength="18.85" lengthAdjust="spacingAndGlyphs">200</text>
<text x="520.6" y="256.3" font-size="10" text-anchor="middle" textLength="18.85" lengthAdjust="spacingAndGlyphs">400</text>
<text x="555.1" y="256.3" font-size="10" text-anchor="middle" textLength="18.85" lengthAdjust="spacingAndGlyphs">600</text>
<text x="589.6" y="256.3" font-size="10" text-anchor="middle" textLength="18.85" lengthAdjust="spacingAndGlyphs">800</text>
<text x="447.6" y="241.05" font-size="10" text-anchor="end" textLength="6.28" lengthAdjust="spacingAndGlyphs">0</text>
<text x="447.6" y="229.52" font-size="10" text-anchor="end" textLength="6.28" lengthAdjust="spacingAndGlyphs">2</text>
<text x="447.6" y="213.28" font-size="10" text-anchor="end" textLength="6.28" lengthAdjust="spacingAndGlyphs">4</text>
<text x="447.6" y="197.05" font-size="10" text-anchor="end" textLength="6.28" lengthAdjust="spacingAndGlyphs">6</text>
<text x="447.6" y="180.82" font-size="10" text-anchor="end" textLength="6.28" lengthAdjust="spacingAndGlyphs">8</text>
<text x="447.6" y="164.58" font-size="10" text-anchor="end" textLength="12.57" lengthAdjust="spacingAndGlyphs">10</text>
<text x="447.6" y="150.65" font-size="10" text-anchor="end" textLength="12.57" lengthAdjust="spacingAndGlyphs">12</text>
<text x="494.4" y="268.5" font-size="9.4" textLength="30.3" lengthAdjust="spacingAndGlyphs">Period</text>
<text x="531.1" y="268.8" font-size="9.8" textLength="13.5" lengthAdjust="spacingAndGlyphs">(d)</text>
<text x="0" y="0" font-size="9.5" text-anchor="middle" textLength="28.5" lengthAdjust="spacingAndGlyphs" transform="translate(426.4 192.3) rotate(-90)">Power</text>
<path d="M451.6 241 L451.7 236.94 L452.02 190.68 L452.34 236.94 L452.66 190.68 L452.98 236.94 L453.4 238.56 L453.9 143.6 L454.4 238.56 L454.4 236.94 L454.67 192.3 L454.93 236.94 L455.2 238.56 L455.8 220.71 L456.2 238.56 L457 195.06 L457.8 238.56 L457.8 239.38 L458.4 219.86 L459 239.38 L459.6 221.03 L460.2 239.38 L460.8 222.2 L461.4 239.38 L462 223.37 L462.6 238.56 L463.4 193.52 L464.2 238.56 L464.2 238.56 L465.1 238.56 L465.4 235.83 L465.7 233.52 L466 231.62 L466.3 230.1 L466.6 228.93 L466.9 228.08 L467.2 227.53 L467.5 227.25 L467.8 227.28 L468.1 228.33 L468.4 230.2 L468.7 232.41 L469 234.45 L469.3 235.82 L469.6 236.04 L469.9 234.78 L470.2 232.51 L470.5 229.78 L470.8 227.14 L471.1 225.15 L471.4 224.36 L471.7 224.54 L472 225.04 L472.3 225.82 L472.6 226.83 L472.9 228.03 L473.2 229.37 L473.5 230.8 L473.8 232.27 L474.1 233.75 L474.4 235.18 L474.7 236.52 L475 237.72 L475.3 238.73 L475.6 239.51 L475.9 240.01 L476.2 240.19 L476.5 240.12 L476.8 239.93 L477.1 239.63 L477.4 239.25 L477.7 238.81 L478 238.32 L478.3 237.81 L478.6 237.28 L478.9 236.77 L479.2 236.3 L479.5 235.87 L479.8 235.52 L480.1 235.26 L480.4 235.11 L480.7 235.08 L481 235.18 L481.3 235.39 L481.6 235.69 L481.9 236.07 L482.2 236.51 L482.5 236.99 L482.8 237.51 L483.1 238.04 L483.4 238.57 L483.7 239.08 L484 239.57 L484.3 240.01 L484.6 240.38 L484.9 240.68 L485.2 240.89 L485.5 240.99 L485.8 240.98 L486.1 240.85 L486.4 240.64 L486.7 240.34 L487 239.98 L487.3 239.55 L487.6 239.08 L487.9 238.58 L488.2 238.05 L488.5 237.51 L488.8 236.97 L489.1 236.44 L489.4 235.94 L489.7 235.47 L490 235.04 L490.3 234.68 L490.6 234.38 L490.9 234.17 L491.2 234.04 L491.5 234.02 L491.8 234.05 L492.1 234.12 L492.4 234.22 L492.7 234.36 L493 234.52 L493.3 234.71 L493.6 234.92 L493.9 235.15 L494.2 235.4 L494.5 235.67 L494.8 235.96 L495.1 236.25 L495.4 236.56 L495.7 236.87 L496 237.19 L496.3 237.51 L496.6 237.83 L496.9 238.15 L497.2 238.46 L497.5 238.77 L497.8 239.06 L498.1 239.35 L498.4 239.62 L498.7 239.87 L499 240.1 L499.3 240.31 L499.6 240.5 L499.9 240.66 L500.2 240.8 L500.5 240.9 L500.8 240.97 L501.1 241 L501.4 241 L501.7 240.98 L502 240.95 L502.3 240.9 L502.6 240.84 L502.9 240.76 L503.2 240.68 L503.5 240.58 L503.8 240.46 L504.1 240.34 L504.4 240.2 L504.7 240.05 L505 239.89 L505.3 239.72 L505.6 239.53 L505.9 239.34 L506.2 239.14 L506.5 238.93 L506.8 238.71 L507.1 238.48 L507.4 238.24 L507.7 237.99 L508 237.74 L508.3 237.48 L508.6 237.21 L508.9 236.94 L509.2 236.66 L509.5 236.37 L509.8 236.08 L510.1 235.78 L510.4 235.48 L510.7 235.17 L511 234.86 L511.3 234.55 L511.6 234.23 L511.9 233.91 L512.2 233.58 L512.5 233.26 L512.8 232.93 L513.1 232.6 L513.4 232.27 L513.7 231.94 L514 231.6 L514.3 231.27 L514.6 230.94 L514.9 230.61 L515.2 230.27 L515.5 229.94 L515.8 229.62 L516.1 229.29 L516.4 228.96 L516.7 228.64 L517 228.32 L517.3 228.01 L517.6 227.69 L517.9 227.39 L518.2 227.08 L518.5 226.78 L518.8 226.49 L519.1 226.2 L519.4 225.92 L519.7 225.64 L520 225.37 L520.3 225.11 L520.6 224.85 L520.9 224.6 L521.2 224.36 L521.5 224.13 L521.8 223.91 L522.1 223.69 L522.4 223.49 L522.7 223.29 L523 223.11 L523.3 222.93 L523.6 222.77 L523.9 222.61 L524.2 222.47 L524.5 222.34 L524.8 222.22 L525.1 222.12 L525.4 222.03 L525.7 221.95 L526 221.88 L526.3 221.83 L526.6 221.79 L526.9 221.77 L527.2 221.76 L527.5 221.77 L527.8 221.77 L528.1 221.78 L528.4 221.8 L528.7 221.82 L529 221.85 L529.3 221.87 L529.6 221.91 L529.9 221.94 L530.2 221.98 L530.5 222.03 L530.8 222.07 L531.1 222.12 L531.4 222.17 L531.7 222.23 L532 222.29 L532.3 222.35 L532.6 222.42 L532.9 222.48 L533.2 222.55 L533.5 222.62 L533.8 222.7 L534.1 222.77 L534.4 222.85 L534.7 222.93 L535 223.01 L535.3 223.09 L535.6 223.17 L535.9 223.26 L536.2 223.34 L536.5 223.43 L536.8 223.52 L537.1 223.6 L537.4 223.69 L537.7 223.78 L538 223.87 L538.3 223.96 L538.6 224.05 L538.9 224.14 L539.2 224.23 L539.5 224.31 L539.8 224.4 L540.1 224.49 L540.4 224.58 L540.7 224.66 L541 224.75 L541.3 224.83 L541.6 224.91 L541.9 224.99 L542.2 225.07 L542.5 225.15 L542.8 225.23 L543.1 225.3 L543.4 225.37 L543.7 225.44 L544 225.51 L544.3 225.58 L544.6 225.64 L544.9 225.7 L545.2 225.76 L545.5 225.81 L545.8 225.86 L546.1 225.91 L546.4 225.96 L546.7 226 L547 226.04 L547.3 226.08 L547.6 226.12 L547.9 226.16 L548.2 226.2 L548.5 226.24 L548.8 226.28 L549.1 226.32 L549.4 226.36 L549.7 226.4 L550 226.44 L550.3 226.48 L550.6 226.52 L550.9 226.56 L551.2 226.6 L551.5 226.64 L551.8 226.67 L552.1 226.71 L552.4 226.75 L552.7 226.79 L553 226.83 L553.3 226.87 L553.6 226.9 L553.9 226.94 L554.2 226.98 L554.5 227.01 L554.8 227.05 L555.1 227.09 L555.4 227.12 L555.7 227.16 L556 227.2 L556.3 227.23 L556.6 227.27 L556.9 227.3 L557.2 227.33 L557.5 227.37 L557.8 227.4 L558.1 227.44 L558.4 227.47 L558.7 227.5 L559 227.53 L559.3 227.57 L559.6 227.6 L559.9 227.63 L560.2 227.66 L560.5 227.69 L560.8 227.72 L561.1 227.75 L561.4 227.78 L561.7 227.81 L562 227.84 L562.3 227.87 L562.6 227.9 L562.9 227.92 L563.2 227.95 L563.5 227.98 L563.8 228 L564.1 228.03 L564.4 228.06 L564.7 228.08 L565 228.11 L565.3 228.13 L565.6 228.15 L565.9 228.18 L566.2 228.2 L566.5 228.22 L566.8 228.24 L567.1 228.26 L567.4 228.28 L567.7 228.3 L568 228.32 L568.3 228.34 L568.6 228.36 L568.9 228.38 L569.2 228.39 L569.5 228.41 L569.8 228.43 L570.1 228.44 L570.4 228.46 L570.7 228.47 L571 228.49 L571.3 228.5 L571.6 228.51 L571.9 228.52 L572.2 228.53 L572.5 228.54 L572.8 228.55 L573.1 228.56 L573.4 228.57 L573.7 228.58" fill="none" stroke="#111" stroke-width="1.3" stroke-linejoin="round"/>
<text x="564" y="163.3" font-size="11.5" textLength="11.4" lengthAdjust="spacingAndGlyphs">(f)</text>
<text x="538.5" y="176.5" font-size="11" textLength="25.3" lengthAdjust="spacingAndGlyphs">Band</text>
<text x="570.8" y="176.5" font-size="11" textLength="6.3" lengthAdjust="spacingAndGlyphs">B</text>
<path d="M45.3 379v-3.2M45.3 281.6v3.2M52.2 379v-1.6M52.2 281.6v1.6M59.1 379v-1.6M59.1 281.6v1.6M66 379v-1.6M66 281.6v1.6M72.9 379v-1.6M72.9 281.6v1.6M79.8 379v-3.2M79.8 281.6v3.2M86.7 379v-1.6M86.7 281.6v1.6M93.6 379v-1.6M93.6 281.6v1.6M100.5 379v-1.6M100.5 281.6v1.6M107.4 379v-1.6M107.4 281.6v1.6M114.3 379v-3.2M114.3 281.6v3.2M121.2 379v-1.6M121.2 281.6v1.6M128.1 379v-1.6M128.1 281.6v1.6M135 379v-1.6M135 281.6v1.6M141.9 379v-1.6M141.9 281.6v1.6M148.8 379v-3.2M148.8 281.6v3.2M155.7 379v-1.6M155.7 281.6v1.6M162.6 379v-1.6M162.6 281.6v1.6M169.5 379v-1.6M169.5 281.6v1.6M176.4 379v-1.6M176.4 281.6v1.6M183.3 379v-3.2M183.3 281.6v3.2M45.3 379h3.2M183.3 379h-3.2M45.3 374.94h1.6M183.3 374.94h-1.6M45.3 370.88h1.6M183.3 370.88h-1.6M45.3 366.82h1.6M183.3 366.82h-1.6M45.3 362.77h3.2M183.3 362.77h-3.2M45.3 358.71h1.6M183.3 358.71h-1.6M45.3 354.65h1.6M183.3 354.65h-1.6M45.3 350.59h1.6M183.3 350.59h-1.6M45.3 346.53h3.2M183.3 346.53h-3.2M45.3 342.48h1.6M183.3 342.48h-1.6M45.3 338.42h1.6M183.3 338.42h-1.6M45.3 334.36h1.6M183.3 334.36h-1.6M45.3 330.3h3.2M183.3 330.3h-3.2M45.3 326.24h1.6M183.3 326.24h-1.6M45.3 322.18h1.6M183.3 322.18h-1.6M45.3 318.12h1.6M183.3 318.12h-1.6M45.3 314.07h3.2M183.3 314.07h-3.2M45.3 310.01h1.6M183.3 310.01h-1.6M45.3 305.95h1.6M183.3 305.95h-1.6M45.3 301.89h1.6M183.3 301.89h-1.6M45.3 297.83h3.2M183.3 297.83h-3.2M45.3 293.77h1.6M183.3 293.77h-1.6M45.3 289.72h1.6M183.3 289.72h-1.6M45.3 285.66h1.6M183.3 285.66h-1.6M45.3 281.6h3.2M183.3 281.6h-3.2" stroke="#111" stroke-width="1" fill="none"/>
<rect x="45.3" y="281.6" width="138" height="97.4" fill="none" stroke="#111" stroke-width="1.4" stroke-linejoin="round"/>
<text x="45.3" y="394.3" font-size="10" text-anchor="middle" textLength="15.71" lengthAdjust="spacingAndGlyphs">0.0</text>
<text x="79.8" y="394.3" font-size="10" text-anchor="middle" textLength="15.71" lengthAdjust="spacingAndGlyphs">0.5</text>
<text x="114.3" y="394.3" font-size="10" text-anchor="middle" textLength="15.71" lengthAdjust="spacingAndGlyphs">1.0</text>
<text x="148.8" y="394.3" font-size="10" text-anchor="middle" textLength="15.71" lengthAdjust="spacingAndGlyphs">1.5</text>
<text x="183.3" y="394.3" font-size="10" text-anchor="middle" textLength="15.71" lengthAdjust="spacingAndGlyphs">2.0</text>
<text x="41.3" y="379.05" font-size="10" text-anchor="end" textLength="23" lengthAdjust="spacingAndGlyphs">−0.6</text>
<text x="41.3" y="367.52" font-size="10" text-anchor="end" textLength="23" lengthAdjust="spacingAndGlyphs">−0.4</text>
<text x="41.3" y="351.28" font-size="10" text-anchor="end" textLength="23" lengthAdjust="spacingAndGlyphs">−0.2</text>
<text x="41.3" y="335.05" font-size="10" text-anchor="end" textLength="23" lengthAdjust="spacingAndGlyphs">−0.0</text>
<text x="41.3" y="318.82" font-size="10" text-anchor="end" textLength="15.71" lengthAdjust="spacingAndGlyphs">0.2</text>
<text x="41.3" y="302.58" font-size="10" text-anchor="end" textLength="15.71" lengthAdjust="spacingAndGlyphs">0.4</text>
<text x="41.3" y="288.65" font-size="10" text-anchor="end" textLength="15.71" lengthAdjust="spacingAndGlyphs">0.6</text>
<text x="99.2" y="406.5" font-size="9.4" textLength="29.5" lengthAdjust="spacingAndGlyphs">Phase</text>
<text x="0" y="0" font-size="10.4" textLength="29.4" lengthAdjust="spacingAndGlyphs" transform="translate(9.2 384.55) rotate(-90)">Radial</text>
<text x="0" y="0" font-size="10.4" textLength="36.2" lengthAdjust="spacingAndGlyphs" transform="translate(9.2 348.75) rotate(-90)">Velocity</text>
<text x="0" y="0" font-size="10.4" textLength="29" lengthAdjust="spacing" transform="translate(9.2 305.85) rotate(-90)">(m/s)</text>
<path d="M45.3 379 L45.39 379 L45.47 379 L45.56 379 L45.64 379 L45.73 379 L45.82 379 L45.9 379 L45.99 379 L46.08 378.36 L46.16 377.23 L46.25 376.08 L46.33 374.93 L46.42 373.81 L46.51 372.71 L46.59 371.64 L46.68 370.62 L46.77 369.62 L46.85 368.67 L46.94 367.76 L47.02 366.88 L47.11 366.03 L47.2 365.23 L47.28 364.45 L47.37 363.71 L47.46 362.99 L47.54 362.31 L47.63 361.65 L47.71 361.02 L47.8 360.41 L47.89 359.82 L47.97 359.26 L48.06 358.71 L48.15 358.19 L48.23 357.68 L48.32 357.19 L48.4 356.72 L48.49 356.26 L48.58 355.82 L48.66 355.39 L48.75 354.98 L48.84 354.58 L48.92 354.19 L49.01 353.81 L49.09 353.44 L49.18 353.09 L49.27 352.74 L49.35 352.4 L49.44 352.07 L49.53 351.75 L49.61 351.44 L49.7 351.14 L49.78 350.84 L49.87 350.55 L49.96 350.27 L50.04 350 L50.13 349.73 L50.22 349.47 L50.3 349.21 L50.39 348.96 L50.47 348.72 L50.56 348.48 L50.65 348.24 L50.73 348.01 L50.82 347.79 L50.91 347.57 L50.99 347.35 L51.08 347.14 L51.16 346.93 L51.25 346.73 L51.34 346.53 L51.42 346.34 L51.51 346.14 L51.6 345.96 L51.68 345.77 L51.77 345.59 L51.85 345.41 L51.94 345.23 L52.03 345.06 L52.11 344.89 L52.2 344.73 L52.29 344.56 L52.37 344.4 L52.46 344.24 L52.54 344.08 L52.63 343.93 L52.72 343.78 L52.8 343.63 L52.89 343.48 L52.98 343.34 L53.06 343.2 L53.15 343.06 L53.23 342.92 L53.32 342.78 L53.41 342.65 L53.49 342.51 L53.58 342.38 L53.67 342.25 L53.75 342.13 L53.84 342 L53.92 341.88 L54.01 341.75 L54.1 341.63 L54.18 341.51 L54.27 341.4 L54.36 341.28 L54.44 341.16 L54.53 341.05 L54.61 340.94 L54.7 340.83 L54.79 340.72 L54.87 340.61 L54.96 340.5 L55.05 340.4 L55.13 340.29 L55.22 340.19 L55.3 340.09 L55.39 339.99 L55.48 339.89 L55.56 339.79 L55.65 339.69 L55.74 339.59 L55.82 339.5 L55.91 339.4 L55.99 339.31 L56.08 339.22 L56.17 339.12 L56.25 339.03 L56.34 338.94 L56.43 338.85 L56.51 338.77 L56.6 338.68 L56.68 338.59 L56.77 338.51 L56.86 338.42 L56.94 338.34 L57.03 338.25 L57.12 338.17 L57.2 338.09 L57.29 338.01 L57.38 337.93 L57.46 337.85 L57.55 337.77 L57.63 337.69 L57.72 337.61 L57.81 337.54 L57.89 337.46 L57.98 337.39 L58.06 337.31 L58.15 337.24 L58.24 337.16 L58.32 337.09 L58.41 337.02 L58.5 336.95 L58.58 336.87 L58.67 336.8 L58.75 336.73 L58.84 336.66 L58.93 336.59 L59.01 336.53 L59.1 336.46 L59.19 336.39 L59.27 336.32 L59.36 336.26 L59.45 336.19 L59.53 336.13 L59.62 336.06 L59.7 336 L59.79 335.93 L59.88 335.87 L59.96 335.81 L60.05 335.74 L60.13 335.68 L60.22 335.62 L60.31 335.56 L60.39 335.5 L60.48 335.44 L60.57 335.37 L60.65 335.32 L60.74 335.26 L60.82 335.2 L60.91 335.14 L61 335.08 L61.08 335.02 L61.17 334.96 L61.26 334.91 L61.34 334.85 L61.43 334.79 L61.52 334.74 L61.6 334.68 L61.69 334.63 L61.77 334.57 L61.86 334.52 L61.95 334.46 L62.03 334.41 L62.12 334.36 L62.2 334.3 L62.29 334.25 L62.38 334.2 L62.46 334.14 L62.55 334.09 L62.64 334.04 L62.72 333.99 L62.81 333.94 L62.89 333.89 L62.98 333.83 L63.07 333.78 L63.15 333.73 L63.24 333.68 L63.33 333.63 L63.41 333.59 L63.5 333.54 L63.58 333.49 L63.67 333.44 L63.76 333.39 L63.84 333.34 L63.93 333.29 L64.02 333.25 L64.1 333.2 L64.19 333.15 L64.28 333.11 L64.36 333.06 L64.45 333.01 L64.53 332.97 L64.62 332.92 L64.71 332.88 L64.79 332.83 L64.88 332.78 L64.97 332.74 L65.05 332.69 L65.14 332.65 L65.22 332.61 L65.31 332.56 L65.4 332.52 L65.48 332.47 L65.57 332.43 L65.66 332.39 L65.74 332.34 L65.83 332.3 L65.91 332.26 L66 332.22 L66.09 332.17 L66.17 332.13 L66.26 332.09 L66.34 332.05 L66.43 332.01 L66.52 331.96 L66.6 331.92 L66.69 331.88 L66.78 331.84 L66.86 331.8 L66.95 331.76 L67.03 331.72 L67.12 331.68 L67.21 331.64 L67.29 331.6 L67.38 331.56 L67.47 331.52 L67.55 331.48 L67.64 331.44 L67.72 331.4 L67.81 331.36 L67.9 331.32 L67.98 331.28 L68.07 331.25 L68.16 331.21 L68.24 331.17 L68.33 331.13 L68.41 331.09 L68.5 331.05 L68.59 331.02 L68.67 330.98 L68.76 330.94 L68.85 330.9 L68.93 330.87 L69.02 330.83 L69.11 330.79 L69.19 330.76 L69.28 330.72 L69.36 330.68 L69.45 330.65 L69.54 330.61 L69.62 330.57 L69.71 330.54 L69.79 330.5 L69.88 330.47 L69.97 330.43 L70.05 330.4 L70.14 330.36 L70.23 330.33 L70.31 330.29 L70.4 330.25 L70.48 330.22 L70.57 330.18 L70.66 330.15 L70.74 330.12 L70.83 330.08 L70.92 330.05 L71 330.01 L71.09 329.98 L71.17 329.94 L71.26 329.91 L71.35 329.88 L71.43 329.84 L71.52 329.81 L71.61 329.78 L71.69 329.74 L71.78 329.71 L71.86 329.68 L71.95 329.64 L72.04 329.61 L72.12 329.58 L72.21 329.54 L72.3 329.51 L72.38 329.48 L72.47 329.44 L72.56 329.41 L72.64 329.38 L72.73 329.35 L72.81 329.32 L72.9 329.28 L72.99 329.25 L73.07 329.22 L73.16 329.19 L73.25 329.16 L73.33 329.12 L73.42 329.09 L73.5 329.06 L73.59 329.03 L73.68 329 L73.76 328.97 L73.85 328.94 L73.94 328.9 L74.02 328.87 L74.11 328.84 L74.19 328.81 L74.28 328.78 L74.37 328.75 L74.45 328.72 L74.54 328.69 L74.62 328.66 L74.71 328.63 L74.8 328.6 L74.88 328.57 L74.97 328.54 L75.06 328.51 L75.14 328.48 L75.23 328.45 L75.31 328.42 L75.4 328.39 L75.49 328.36 L75.57 328.33 L75.66 328.3 L75.75 328.27 L75.83 328.24 L75.92 328.21 L76 328.18 L76.09 328.15 L76.18 328.12 L76.26 328.09 L76.35 328.06 L76.44 328.03 L76.52 328 L76.61 327.97 L76.69 327.94 L76.78 327.92 L76.87 327.89 L76.95 327.86 L77.04 327.83 L77.13 327.8 L77.21 327.77 L77.3 327.74 L77.38 327.71 L77.47 327.69 L77.56 327.66 L77.64 327.63 L77.73 327.6 L77.82 327.57 L77.9 327.54 L77.99 327.52 L78.08 327.49 L78.16 327.46 L78.25 327.43 L78.33 327.4 L78.42 327.38 L78.51 327.35 L78.59 327.32 L78.68 327.29 L78.76 327.27 L78.85 327.24 L78.94 327.21 L79.02 327.18 L79.11 327.16 L79.2 327.13 L79.28 327.1 L79.37 327.07 L79.45 327.05 L79.54 327.02 L79.63 326.99 L79.71 326.96 L79.8 326.94 L79.89 326.91 L79.97 326.88 L80.06 326.86 L80.14 326.83 L80.23 326.8 L80.32 326.77 L80.4 326.75 L80.49 326.72 L80.58 326.69 L80.66 326.67 L80.75 326.64 L80.84 326.61 L80.92 326.59 L81.01 326.56 L81.09 326.53 L81.18 326.51 L81.27 326.48 L81.35 326.45 L81.44 326.43 L81.53 326.4 L81.61 326.38 L81.7 326.35 L81.78 326.32 L81.87 326.3 L81.96 326.27 L82.04 326.24 L82.13 326.22 L82.22 326.19 L82.3 326.17 L82.39 326.14 L82.47 326.11 L82.56 326.09 L82.65 326.06 L82.73 326.04 L82.82 326.01 L82.91 325.98 L82.99 325.96 L83.08 325.93 L83.16 325.91 L83.25 325.88 L83.34 325.86 L83.42 325.83 L83.51 325.8 L83.59 325.78 L83.68 325.75 L83.77 325.73 L83.85 325.7 L83.94 325.68 L84.03 325.65 L84.11 325.63 L84.2 325.6 L84.28 325.57 L84.37 325.55 L84.46 325.52 L84.54 325.5 L84.63 325.47 L84.72 325.45 L84.8 325.42 L84.89 325.4 L84.97 325.37 L85.06 325.35 L85.15 325.32 L85.23 325.3 L85.32 325.27 L85.41 325.25 L85.49 325.22 L85.58 325.2 L85.66 325.17 L85.75 325.15 L85.84 325.12 L85.92 325.1 L86.01 325.07 L86.1 325.05 L86.18 325.02 L86.27 325 L86.35 324.97 L86.44 324.95 L86.53 324.92 L86.61 324.9 L86.7 324.87 L86.79 324.85 L86.87 324.82 L86.96 324.8 L87.04 324.77 L87.13 324.75 L87.22 324.72 L87.3 324.7 L87.39 324.67 L87.48 324.65 L87.56 324.62 L87.65 324.6 L87.73 324.58 L87.82 324.55 L87.91 324.53 L87.99 324.5 L88.08 324.48 L88.17 324.45 L88.25 324.43 L88.34 324.4 L88.42 324.38 L88.51 324.35 L88.6 324.33 L88.68 324.31 L88.77 324.28 L88.86 324.26 L88.94 324.23 L89.03 324.21 L89.11 324.18 L89.2 324.16 L89.29 324.13 L89.37 324.11 L89.46 324.09 L89.55 324.06 L89.63 324.04 L89.72 324.01 L89.81 323.99 L89.89 323.96 L89.98 323.94 L90.06 323.91 L90.15 323.89 L90.24 323.87 L90.32 323.84 L90.41 323.82 L90.5 323.79 L90.58 323.77 L90.67 323.74 L90.75 323.72 L90.84 323.7 L90.93 323.67 L91.01 323.65 L91.1 323.62 L91.19 323.6 L91.27 323.57 L91.36 323.55 L91.44 323.53 L91.53 323.5 L91.62 323.48 L91.7 323.45 L91.79 323.43 L91.88 323.41 L91.96 323.38 L92.05 323.36 L92.13 323.33 L92.22 323.31 L92.31 323.28 L92.39 323.26 L92.48 323.24 L92.56 323.21 L92.65 323.19 L92.74 323.16 L92.82 323.14 L92.91 323.12 L93 323.09 L93.08 323.07 L93.17 323.04 L93.25 323.02 L93.34 322.99 L93.43 322.97 L93.51 322.95 L93.6 322.92 L93.69 322.9 L93.77 322.87 L93.86 322.85 L93.94 322.83 L94.03 322.8 L94.12 322.78 L94.2 322.75 L94.29 322.73 L94.38 322.71 L94.46 322.68 L94.55 322.66 L94.63 322.63 L94.72 322.61 L94.81 322.59 L94.89 322.56 L94.98 322.54 L95.07 322.51 L95.15 322.49 L95.24 322.46 L95.32 322.44 L95.41 322.42 L95.5 322.39 L95.58 322.37 L95.67 322.34 L95.76 322.32 L95.84 322.3 L95.93 322.27 L96.01 322.25 L96.1 322.22 L96.19 322.2 L96.27 322.18 L96.36 322.15 L96.45 322.13 L96.53 322.1 L96.62 322.08 L96.7 322.06 L96.79 322.03 L96.88 322.01 L96.96 321.98 L97.05 321.96 L97.14 321.94 L97.22 321.91 L97.31 321.89 L97.39 321.86 L97.48 321.84 L97.57 321.82 L97.65 321.79 L97.74 321.77 L97.83 321.74 L97.91 321.72 L98 321.7 L98.09 321.67 L98.17 321.65 L98.26 321.62 L98.34 321.6 L98.43 321.58 L98.52 321.55 L98.6 321.53 L98.69 321.51 L98.78 321.48 L98.86 321.46 L98.95 321.43 L99.03 321.41 L99.12 321.39 L99.21 321.36 L99.29 321.34 L99.38 321.31 L99.47 321.29 L99.55 321.27 L99.64 321.24 L99.72 321.22 L99.81 321.2 L99.9 321.17 L99.98 321.15 L100.07 321.13 L100.16 321.1 L100.24 321.08 L100.33 321.06 L100.41 321.03 L100.5 321.01 L100.59 320.99 L100.67 320.96 L100.76 320.94 L100.84 320.92 L100.93 320.89 L101.02 320.87 L101.1 320.85 L101.19 320.82 L101.28 320.8 L101.36 320.78 L101.45 320.75 L101.53 320.73 L101.62 320.71 L101.71 320.69 L101.79 320.66 L101.88 320.64 L101.97 320.62 L102.05 320.59 L102.14 320.57 L102.22 320.55 L102.31 320.53 L102.4 320.51 L102.48 320.48 L102.57 320.46 L102.66 320.44 L102.74 320.42 L102.83 320.4 L102.91 320.37 L103 320.35 L103.09 320.33 L103.17 320.31 L103.26 320.29 L103.35 320.27 L103.43 320.25 L103.52 320.22 L103.6 320.2 L103.69 320.18 L103.78 320.16 L103.86 320.14 L103.95 320.12 L104.04 320.1 L104.12 320.08 L104.21 320.06 L104.29 320.04 L104.38 320.02 L104.47 320.01 L104.55 319.99 L104.64 319.97 L104.73 319.95 L104.81 319.93 L104.9 319.91 L104.98 319.9 L105.07 319.88 L105.16 319.86 L105.24 319.85 L105.33 319.83 L105.42 319.81 L105.5 319.8 L105.59 319.78 L105.67 319.77 L105.76 319.75 L105.85 319.74 L105.93 319.73 L106.02 319.71 L106.11 319.7 L106.19 319.69 L106.28 319.68 L106.36 319.67 L106.45 319.65 L106.54 319.64 L106.62 319.64 L106.71 319.63 L106.8 319.62 L106.88 319.61 L106.97 319.6 L107.06 319.6 L107.14 319.59 L107.23 319.59 L107.31 319.59 L107.4 319.59 L107.49 319.58 L107.57 319.58 L107.66 319.58 L107.75 319.59 L107.83 319.59 L107.92 319.6 L108 319.6 L108.09 319.61 L108.18 319.62 L108.26 319.63 L108.35 319.64 L108.44 319.66 L108.52 319.67 L108.61 319.69 L108.69 319.71 L108.78 319.73 L108.87 319.76 L108.95 319.79 L109.04 319.82 L109.12 319.85 L109.21 319.88 L109.3 319.92 L109.38 319.97 L109.47 320.01 L109.56 320.06 L109.64 320.12 L109.73 320.18 L109.81 320.24 L109.9 320.31 L109.99 320.38 L110.07 320.46 L110.16 320.55 L110.25 320.65 L110.33 320.75 L110.42 320.85 L110.5 320.97 L110.59 321.1 L110.68 321.24 L110.76 321.38 L110.85 321.54 L110.94 321.71 L111.02 321.9 L111.11 322.1 L111.2 322.32 L111.28 322.56 L111.37 322.81 L111.45 323.09 L111.54 323.39 L111.63 323.72 L111.71 324.08 L111.8 324.48 L111.88 324.91 L111.97 325.37 L112.06 325.89 L112.14 326.46 L112.23 327.08 L112.32 327.77 L112.4 328.53 L112.49 329.37 L112.57 330.3 L112.66 331.34 L112.75 332.5 L112.83 333.79 L112.92 335.24 L113.01 336.85 L113.09 338.66 L113.18 340.68 L113.27 342.95 L113.35 345.47 L113.44 348.26 L113.52 351.32 L113.61 354.65 L113.7 358.21 L113.78 361.92 L113.87 365.69 L113.95 369.38 L114.04 372.83 L114.13 375.9 L114.21 378.45 L114.3 379 L114.39 379 L114.47 379 L114.56 379 L114.65 379 L114.73 379 L114.82 379 L114.9 379 L114.99 379 L115.08 378.36 L115.16 377.23 L115.25 376.08 L115.34 374.93 L115.42 373.81 L115.51 372.71 L115.59 371.64 L115.68 370.62 L115.77 369.62 L115.85 368.67 L115.94 367.76 L116.02 366.88 L116.11 366.03 L116.2 365.23 L116.28 364.45 L116.37 363.71 L116.46 362.99 L116.54 362.31 L116.63 361.65 L116.71 361.02 L116.8 360.41 L116.89 359.82 L116.97 359.26 L117.06 358.71 L117.15 358.19 L117.23 357.68 L117.32 357.19 L117.4 356.72 L117.49 356.26 L117.58 355.82 L117.66 355.39 L117.75 354.98 L117.84 354.58 L117.92 354.19 L118.01 353.81 L118.09 353.44 L118.18 353.09 L118.27 352.74 L118.35 352.4 L118.44 352.07 L118.53 351.75 L118.61 351.44 L118.7 351.14 L118.78 350.84 L118.87 350.55 L118.96 350.27 L119.04 350 L119.13 349.73 L119.22 349.47 L119.3 349.21 L119.39 348.96 L119.47 348.72 L119.56 348.48 L119.65 348.24 L119.73 348.01 L119.82 347.79 L119.91 347.57 L119.99 347.35 L120.08 347.14 L120.16 346.93 L120.25 346.73 L120.34 346.53 L120.42 346.34 L120.51 346.14 L120.6 345.96 L120.68 345.77 L120.77 345.59 L120.85 345.41 L120.94 345.23 L121.03 345.06 L121.11 344.89 L121.2 344.73 L121.29 344.56 L121.37 344.4 L121.46 344.24 L121.55 344.08 L121.63 343.93 L121.72 343.78 L121.8 343.63 L121.89 343.48 L121.98 343.34 L122.06 343.2 L122.15 343.06 L122.23 342.92 L122.32 342.78 L122.41 342.65 L122.49 342.51 L122.58 342.38 L122.67 342.25 L122.75 342.13 L122.84 342 L122.92 341.88 L123.01 341.75 L123.1 341.63 L123.18 341.51 L123.27 341.4 L123.36 341.28 L123.44 341.16 L123.53 341.05 L123.61 340.94 L123.7 340.83 L123.79 340.72 L123.87 340.61 L123.96 340.5 L124.05 340.4 L124.13 340.29 L124.22 340.19 L124.3 340.09 L124.39 339.99 L124.48 339.89 L124.56 339.79 L124.65 339.69 L124.74 339.59 L124.82 339.5 L124.91 339.4 L125 339.31 L125.08 339.22 L125.17 339.12 L125.25 339.03 L125.34 338.94 L125.43 338.85 L125.51 338.77 L125.6 338.68 L125.69 338.59 L125.77 338.51 L125.86 338.42 L125.94 338.34 L126.03 338.25 L126.12 338.17 L126.2 338.09 L126.29 338.01 L126.38 337.93 L126.46 337.85 L126.55 337.77 L126.63 337.69 L126.72 337.61 L126.81 337.54 L126.89 337.46 L126.98 337.39 L127.06 337.31 L127.15 337.24 L127.24 337.16 L127.32 337.09 L127.41 337.02 L127.5 336.95 L127.58 336.87 L127.67 336.8 L127.75 336.73 L127.84 336.66 L127.93 336.59 L128.01 336.53 L128.1 336.46 L128.19 336.39 L128.27 336.32 L128.36 336.26 L128.44 336.19 L128.53 336.13 L128.62 336.06 L128.7 336 L128.79 335.93 L128.88 335.87 L128.96 335.81 L129.05 335.74 L129.13 335.68 L129.22 335.62 L129.31 335.56 L129.39 335.5 L129.48 335.44 L129.57 335.37 L129.65 335.32 L129.74 335.26 L129.82 335.2 L129.91 335.14 L130 335.08 L130.08 335.02 L130.17 334.96 L130.26 334.91 L130.34 334.85 L130.43 334.79 L130.51 334.74 L130.6 334.68 L130.69 334.63 L130.77 334.57 L130.86 334.52 L130.95 334.46 L131.03 334.41 L131.12 334.36 L131.2 334.3 L131.29 334.25 L131.38 334.2 L131.46 334.14 L131.55 334.09 L131.64 334.04 L131.72 333.99 L131.81 333.94 L131.9 333.89 L131.98 333.83 L132.07 333.78 L132.15 333.73 L132.24 333.68 L132.33 333.63 L132.41 333.59 L132.5 333.54 L132.59 333.49 L132.67 333.44 L132.76 333.39 L132.84 333.34 L132.93 333.29 L133.02 333.25 L133.1 333.2 L133.19 333.15 L133.28 333.11 L133.36 333.06 L133.45 333.01 L133.53 332.97 L133.62 332.92 L133.71 332.88 L133.79 332.83 L133.88 332.78 L133.96 332.74 L134.05 332.69 L134.14 332.65 L134.22 332.61 L134.31 332.56 L134.4 332.52 L134.48 332.47 L134.57 332.43 L134.65 332.39 L134.74 332.34 L134.83 332.3 L134.91 332.26 L135 332.22 L135.09 332.17 L135.17 332.13 L135.26 332.09 L135.34 332.05 L135.43 332.01 L135.52 331.96 L135.6 331.92 L135.69 331.88 L135.78 331.84 L135.86 331.8 L135.95 331.76 L136.03 331.72 L136.12 331.68 L136.21 331.64 L136.29 331.6 L136.38 331.56 L136.47 331.52 L136.55 331.48 L136.64 331.44 L136.72 331.4 L136.81 331.36 L136.9 331.32 L136.98 331.28 L137.07 331.25 L137.16 331.21 L137.24 331.17 L137.33 331.13 L137.41 331.09 L137.5 331.05 L137.59 331.02 L137.67 330.98 L137.76 330.94 L137.85 330.9 L137.93 330.87 L138.02 330.83 L138.1 330.79 L138.19 330.76 L138.28 330.72 L138.36 330.68 L138.45 330.65 L138.54 330.61 L138.62 330.57 L138.71 330.54 L138.8 330.5 L138.88 330.47 L138.97 330.43 L139.05 330.4 L139.14 330.36 L139.23 330.33 L139.31 330.29 L139.4 330.25 L139.49 330.22 L139.57 330.18 L139.66 330.15 L139.74 330.12 L139.83 330.08 L139.92 330.05 L140 330.01 L140.09 329.98 L140.18 329.94 L140.26 329.91 L140.35 329.88 L140.43 329.84 L140.52 329.81 L140.61 329.78 L140.69 329.74 L140.78 329.71 L140.87 329.68 L140.95 329.64 L141.04 329.61 L141.12 329.58 L141.21 329.54 L141.3 329.51 L141.38 329.48 L141.47 329.44 L141.56 329.41 L141.64 329.38 L141.73 329.35 L141.81 329.32 L141.9 329.28 L141.99 329.25 L142.07 329.22 L142.16 329.19 L142.25 329.16 L142.33 329.12 L142.42 329.09 L142.5 329.06 L142.59 329.03 L142.68 329 L142.76 328.97 L142.85 328.94 L142.94 328.9 L143.02 328.87 L143.11 328.84 L143.19 328.81 L143.28 328.78 L143.37 328.75 L143.45 328.72 L143.54 328.69 L143.62 328.66 L143.71 328.63 L143.8 328.6 L143.88 328.57 L143.97 328.54 L144.06 328.51 L144.14 328.48 L144.23 328.45 L144.31 328.42 L144.4 328.39 L144.49 328.36 L144.57 328.33 L144.66 328.3 L144.75 328.27 L144.83 328.24 L144.92 328.21 L145 328.18 L145.09 328.15 L145.18 328.12 L145.26 328.09 L145.35 328.06 L145.44 328.03 L145.52 328 L145.61 327.97 L145.69 327.94 L145.78 327.92 L145.87 327.89 L145.95 327.86 L146.04 327.83 L146.13 327.8 L146.21 327.77 L146.3 327.74 L146.38 327.71 L146.47 327.69 L146.56 327.66 L146.64 327.63 L146.73 327.6 L146.82 327.57 L146.9 327.54 L146.99 327.52 L147.07 327.49 L147.16 327.46 L147.25 327.43 L147.33 327.4 L147.42 327.38 L147.51 327.35 L147.59 327.32 L147.68 327.29 L147.76 327.27 L147.85 327.24 L147.94 327.21 L148.02 327.18 L148.11 327.16 L148.2 327.13 L148.28 327.1 L148.37 327.07 L148.45 327.05 L148.54 327.02 L148.63 326.99 L148.71 326.96 L148.8 326.94 L148.89 326.91 L148.97 326.88 L149.06 326.86 L149.15 326.83 L149.23 326.8 L149.32 326.77 L149.4 326.75 L149.49 326.72 L149.58 326.69 L149.66 326.67 L149.75 326.64 L149.84 326.61 L149.92 326.59 L150.01 326.56 L150.09 326.53 L150.18 326.51 L150.27 326.48 L150.35 326.45 L150.44 326.43 L150.53 326.4 L150.61 326.38 L150.7 326.35 L150.78 326.32 L150.87 326.3 L150.96 326.27 L151.04 326.24 L151.13 326.22 L151.22 326.19 L151.3 326.17 L151.39 326.14 L151.47 326.11 L151.56 326.09 L151.65 326.06 L151.73 326.04 L151.82 326.01 L151.9 325.98 L151.99 325.96 L152.08 325.93 L152.16 325.91 L152.25 325.88 L152.34 325.86 L152.42 325.83 L152.51 325.8 L152.59 325.78 L152.68 325.75 L152.77 325.73 L152.85 325.7 L152.94 325.68 L153.03 325.65 L153.11 325.63 L153.2 325.6 L153.28 325.57 L153.37 325.55 L153.46 325.52 L153.54 325.5 L153.63 325.47 L153.72 325.45 L153.8 325.42 L153.89 325.4 L153.97 325.37 L154.06 325.35 L154.15 325.32 L154.23 325.3 L154.32 325.27 L154.41 325.25 L154.49 325.22 L154.58 325.2 L154.66 325.17 L154.75 325.15 L154.84 325.12 L154.92 325.1 L155.01 325.07 L155.1 325.05 L155.18 325.02 L155.27 325 L155.35 324.97 L155.44 324.95 L155.53 324.92 L155.61 324.9 L155.7 324.87 L155.79 324.85 L155.87 324.82 L155.96 324.8 L156.05 324.77 L156.13 324.75 L156.22 324.72 L156.3 324.7 L156.39 324.67 L156.48 324.65 L156.56 324.62 L156.65 324.6 L156.74 324.58 L156.82 324.55 L156.91 324.53 L156.99 324.5 L157.08 324.48 L157.17 324.45 L157.25 324.43 L157.34 324.4 L157.43 324.38 L157.51 324.35 L157.6 324.33 L157.68 324.31 L157.77 324.28 L157.86 324.26 L157.94 324.23 L158.03 324.21 L158.12 324.18 L158.2 324.16 L158.29 324.13 L158.37 324.11 L158.46 324.09 L158.55 324.06 L158.63 324.04 L158.72 324.01 L158.81 323.99 L158.89 323.96 L158.98 323.94 L159.06 323.91 L159.15 323.89 L159.24 323.87 L159.32 323.84 L159.41 323.82 L159.5 323.79 L159.58 323.77 L159.67 323.74 L159.75 323.72 L159.84 323.7 L159.93 323.67 L160.01 323.65 L160.1 323.62 L160.19 323.6 L160.27 323.57 L160.36 323.55 L160.44 323.53 L160.53 323.5 L160.62 323.48 L160.7 323.45 L160.79 323.43 L160.88 323.41 L160.96 323.38 L161.05 323.36 L161.13 323.33 L161.22 323.31 L161.31 323.28 L161.39 323.26 L161.48 323.24 L161.56 323.21 L161.65 323.19 L161.74 323.16 L161.82 323.14 L161.91 323.12 L162 323.09 L162.08 323.07 L162.17 323.04 L162.25 323.02 L162.34 322.99 L162.43 322.97 L162.51 322.95 L162.6 322.92 L162.69 322.9 L162.77 322.87 L162.86 322.85 L162.94 322.83 L163.03 322.8 L163.12 322.78 L163.2 322.75 L163.29 322.73 L163.38 322.71 L163.46 322.68 L163.55 322.66 L163.63 322.63 L163.72 322.61 L163.81 322.59 L163.89 322.56 L163.98 322.54 L164.07 322.51 L164.15 322.49 L164.24 322.46 L164.32 322.44 L164.41 322.42 L164.5 322.39 L164.58 322.37 L164.67 322.34 L164.76 322.32 L164.84 322.3 L164.93 322.27 L165.01 322.25 L165.1 322.22 L165.19 322.2 L165.27 322.18 L165.36 322.15 L165.45 322.13 L165.53 322.1 L165.62 322.08 L165.7 322.06 L165.79 322.03 L165.88 322.01 L165.96 321.98 L166.05 321.96 L166.14 321.94 L166.22 321.91 L166.31 321.89 L166.4 321.86 L166.48 321.84 L166.57 321.82 L166.65 321.79 L166.74 321.77 L166.83 321.74 L166.91 321.72 L167 321.7 L167.09 321.67 L167.17 321.65 L167.26 321.62 L167.34 321.6 L167.43 321.58 L167.52 321.55 L167.6 321.53 L167.69 321.51 L167.78 321.48 L167.86 321.46 L167.95 321.43 L168.03 321.41 L168.12 321.39 L168.21 321.36 L168.29 321.34 L168.38 321.31 L168.47 321.29 L168.55 321.27 L168.64 321.24 L168.72 321.22 L168.81 321.2 L168.9 321.17 L168.98 321.15 L169.07 321.13 L169.15 321.1 L169.24 321.08 L169.33 321.06 L169.41 321.03 L169.5 321.01 L169.59 320.99 L169.67 320.96 L169.76 320.94 L169.84 320.92 L169.93 320.89 L170.02 320.87 L170.1 320.85 L170.19 320.82 L170.28 320.8 L170.36 320.78 L170.45 320.75 L170.53 320.73 L170.62 320.71 L170.71 320.69 L170.79 320.66 L170.88 320.64 L170.97 320.62 L171.05 320.59 L171.14 320.57 L171.22 320.55 L171.31 320.53 L171.4 320.51 L171.48 320.48 L171.57 320.46 L171.66 320.44 L171.74 320.42 L171.83 320.4 L171.91 320.37 L172 320.35 L172.09 320.33 L172.17 320.31 L172.26 320.29 L172.35 320.27 L172.43 320.25 L172.52 320.22 L172.6 320.2 L172.69 320.18 L172.78 320.16 L172.86 320.14 L172.95 320.12 L173.04 320.1 L173.12 320.08 L173.21 320.06 L173.3 320.04 L173.38 320.02 L173.47 320.01 L173.55 319.99 L173.64 319.97 L173.73 319.95 L173.81 319.93 L173.9 319.91 L173.99 319.9 L174.07 319.88 L174.16 319.86 L174.24 319.85 L174.33 319.83 L174.42 319.81 L174.5 319.8 L174.59 319.78 L174.68 319.77 L174.76 319.75 L174.85 319.74 L174.93 319.73 L175.02 319.71 L175.11 319.7 L175.19 319.69 L175.28 319.68 L175.37 319.67 L175.45 319.65 L175.54 319.64 L175.62 319.64 L175.71 319.63 L175.8 319.62 L175.88 319.61 L175.97 319.6 L176.06 319.6 L176.14 319.59 L176.23 319.59 L176.31 319.59 L176.4 319.59 L176.49 319.58 L176.57 319.58 L176.66 319.58 L176.75 319.59 L176.83 319.59 L176.92 319.6 L177 319.6 L177.09 319.61 L177.18 319.62 L177.26 319.63 L177.35 319.64 L177.44 319.66 L177.52 319.67 L177.61 319.69 L177.69 319.71 L177.78 319.73 L177.87 319.76 L177.95 319.79 L178.04 319.82 L178.12 319.85 L178.21 319.88 L178.3 319.92 L178.38 319.97 L178.47 320.01 L178.56 320.06 L178.64 320.12 L178.73 320.18 L178.81 320.24 L178.9 320.31 L178.99 320.38 L179.07 320.46 L179.16 320.55 L179.25 320.65 L179.33 320.75 L179.42 320.85 L179.5 320.97 L179.59 321.1 L179.68 321.24 L179.76 321.38 L179.85 321.54 L179.94 321.71 L180.02 321.9 L180.11 322.1 L180.19 322.32 L180.28 322.56 L180.37 322.81 L180.45 323.09 L180.54 323.39 L180.63 323.72 L180.71 324.08 L180.8 324.48 L180.88 324.91 L180.97 325.37 L181.06 325.89 L181.14 326.46 L181.23 327.08 L181.32 327.77 L181.4 328.53 L181.49 329.37 L181.57 330.3 L181.66 331.34 L181.75 332.5 L181.83 333.79 L181.92 335.24 L182.01 336.85 L182.09 338.66 L182.18 340.68 L182.26 342.95 L182.35 345.47 L182.44 348.26 L182.52 351.32 L182.61 354.65 L182.7 358.21 L182.78 361.92 L182.87 365.69 L182.95 369.38 L183.04 372.83 L183.13 375.9 L183.21 378.45 L183.3 379" fill="none" stroke="#111" stroke-width="1.7" stroke-linejoin="round"/>
<path d="M49.8 325.8V347.8M118.8 325.8V347.8M51 348V366M120 348V366M52.2 353V369M121.2 353V369M54.9 348.6V362.6M123.9 348.6V362.6M57 314.8V334.8M126 314.8V334.8M57.8 321V339M126.8 321V339M58.7 328.5V348.5M127.7 328.5V348.5M59.5 326V342M128.5 326V342M60.3 333V347M129.3 333V347M58.7 346.2V358.2M127.7 346.2V358.2M63 332.4V346.4M132 332.4V346.4M64.7 310.7V328.7M133.7 310.7V328.7M66.4 316V331M135.4 316V331M68.1 317.4V337.4M137.1 317.4V337.4M69 336V353M138 336V353M69 347.8V361.8M138 347.8V361.8M70.7 330.5V349.5M139.7 330.5V349.5M71.5 324V339.4M140.5 324V339.4M72.4 339.4V351.4M141.4 339.4V351.4M74.1 313.7V325.7M143.1 313.7V325.7M75.8 305.1V318.7M144.8 305.1V318.7M77.5 301.7V313.7M146.5 301.7V313.7M77.5 349.7V364.9M146.5 349.7V364.9M79.2 320V334M148.2 320V334M78.9 299.3V313.3M147.9 299.3V313.3M80.6 315.2V329.8M149.6 315.2V329.8M84 328.2V344.2M153 328.2V344.2M84.8 307.8V321.8M153.8 313.5V321.8M86.2 301V315M155.2 313.5V315M86.9 328.5V343.9M155.9 328.5V343.9M89.6 294.8V310.8M90.8 310.3V324.3M159.8 313.5V324.3M93.4 320.5V336.5M162.4 320.5V336.5M100.3 301.7V317.7M169.3 313.5V317.7M102 320V332M171 320V332M104.5 314V329.4M173.5 314V329.4M105.4 327.6V344.8M174.4 327.6V344.8M112.2 323.5V345.5M181.2 323.5V345.5M113.1 331V345M182.1 331V345M114 368V376M183 368V376" stroke="#1a1a1a" stroke-width="1.45" fill="none"/>
<g fill="#111"><circle cx="49.8" cy="336.8" r="1.6"/><circle cx="118.8" cy="336.8" r="1.6"/><circle cx="51" cy="357" r="1.6"/><circle cx="120" cy="357" r="1.6"/><circle cx="52.2" cy="361" r="1.6"/><circle cx="121.2" cy="361" r="1.6"/><circle cx="54.9" cy="355.6" r="1.6"/><circle cx="123.9" cy="355.6" r="1.6"/><circle cx="57" cy="324.8" r="1.6"/><circle cx="126" cy="324.8" r="1.6"/><circle cx="57.8" cy="330" r="1.6"/><circle cx="126.8" cy="330" r="1.6"/><circle cx="58.7" cy="338.5" r="1.6"/><circle cx="127.7" cy="338.5" r="1.6"/><circle cx="59.5" cy="334" r="1.6"/><circle cx="128.5" cy="334" r="1.6"/><circle cx="60.3" cy="340" r="1.6"/><circle cx="129.3" cy="340" r="1.6"/><circle cx="58.7" cy="352.2" r="1.6"/><circle cx="127.7" cy="352.2" r="1.6"/><circle cx="63" cy="339.4" r="1.6"/><circle cx="132" cy="339.4" r="1.6"/><circle cx="64.7" cy="319.7" r="1.6"/><circle cx="133.7" cy="319.7" r="1.6"/><circle cx="66.4" cy="323.5" r="1.6"/><circle cx="135.4" cy="323.5" r="1.6"/><circle cx="68.1" cy="327.4" r="1.6"/><circle cx="137.1" cy="327.4" r="1.6"/><circle cx="69" cy="344.5" r="1.6"/><circle cx="138" cy="344.5" r="1.6"/><circle cx="69" cy="354.8" r="1.6"/><circle cx="138" cy="354.8" r="1.6"/><circle cx="70.7" cy="340" r="1.6"/><circle cx="139.7" cy="340" r="1.6"/><circle cx="71.5" cy="331.7" r="1.6"/><circle cx="140.5" cy="331.7" r="1.6"/><circle cx="72.4" cy="345.4" r="1.6"/><circle cx="141.4" cy="345.4" r="1.6"/><circle cx="74.1" cy="319.7" r="1.6"/><circle cx="143.1" cy="319.7" r="1.6"/><circle cx="75.8" cy="311.9" r="1.6"/><circle cx="144.8" cy="311.9" r="1.6"/><circle cx="77.5" cy="307.7" r="1.6"/><circle cx="146.5" cy="307.7" r="1.6"/><circle cx="77.5" cy="357.3" r="1.6"/><circle cx="146.5" cy="357.3" r="1.6"/><circle cx="79.2" cy="327" r="1.6"/><circle cx="148.2" cy="327" r="1.6"/><circle cx="78.9" cy="306.3" r="1.6"/><circle cx="147.9" cy="306.3" r="1.6"/><circle cx="80.6" cy="322.5" r="1.6"/><circle cx="149.6" cy="322.5" r="1.6"/><circle cx="84" cy="336.2" r="1.6"/><circle cx="153" cy="336.2" r="1.6"/><circle cx="84.8" cy="314.8" r="1.6"/><circle cx="153.8" cy="314.8" r="1.6"/><circle cx="86.2" cy="308" r="1.6"/><circle cx="86.9" cy="336.2" r="1.6"/><circle cx="155.9" cy="336.2" r="1.6"/><circle cx="89.6" cy="302.8" r="1.6"/><circle cx="90.8" cy="317.3" r="1.6"/><circle cx="159.8" cy="317.3" r="1.6"/><circle cx="93.4" cy="328.5" r="1.6"/><circle cx="162.4" cy="328.5" r="1.6"/><circle cx="100.3" cy="309.7" r="1.6"/><circle cx="102" cy="326" r="1.6"/><circle cx="171" cy="326" r="1.6"/><circle cx="104.5" cy="321.7" r="1.6"/><circle cx="173.5" cy="321.7" r="1.6"/><circle cx="105.4" cy="336.2" r="1.6"/><circle cx="174.4" cy="336.2" r="1.6"/><circle cx="112.2" cy="334.5" r="1.6"/><circle cx="181.2" cy="334.5" r="1.6"/><circle cx="113.1" cy="338" r="1.6"/><circle cx="182.1" cy="338" r="1.6"/><circle cx="114" cy="372" r="1.6"/><circle cx="183" cy="372" r="1.6"/><circle cx="151.5" cy="304.3" r="0.9"/><circle cx="155.35" cy="304.3" r="0.9"/><circle cx="166.9" cy="304.3" r="0.9"/><rect x="153.2" y="312.6" width="2.1" height="2.1"/><rect x="153.2" y="316" width="2.1" height="2.1"/></g>
<text x="101.75" y="289.75" font-size="6" font-weight="bold" textLength="25.45" lengthAdjust="spacingAndGlyphs" fill="#2a2a2a">P=13.2 d</text>
<text x="101.75" y="296.25" font-size="6" font-weight="bold" textLength="33.75" lengthAdjust="spacingAndGlyphs" fill="#2a2a2a">K=0.41 m/s</text>
<text x="101.75" y="302.75" font-size="6" font-weight="bold" textLength="20.25" lengthAdjust="spacingAndGlyphs" fill="#2a2a2a">e=0.82</text>
<text x="101.75" y="309.25" font-size="6" font-weight="bold" textLength="42.75" lengthAdjust="spacingAndGlyphs" fill="#2a2a2a">RMS=0.14 m/s</text>
<text x="155.7" y="292" font-size="11.5" textLength="13.5" lengthAdjust="spacingAndGlyphs">(g)</text>
<path d="M248.3 379v-3.2M248.3 281.6v3.2M256.93 379v-1.6M256.93 281.6v1.6M265.55 379v-1.6M265.55 281.6v1.6M274.18 379v-1.6M274.18 281.6v1.6M282.8 379v-3.2M282.8 281.6v3.2M291.43 379v-1.6M291.43 281.6v1.6M300.05 379v-1.6M300.05 281.6v1.6M308.68 379v-1.6M308.68 281.6v1.6M317.3 379v-3.2M317.3 281.6v3.2M325.93 379v-1.6M325.93 281.6v1.6M334.55 379v-1.6M334.55 281.6v1.6M343.18 379v-1.6M343.18 281.6v1.6M351.8 379v-3.2M351.8 281.6v3.2M360.43 379v-1.6M360.43 281.6v1.6M369.05 379v-1.6M369.05 281.6v1.6M377.68 379v-1.6M377.68 281.6v1.6M386.3 379v-3.2M386.3 281.6v3.2M248.3 379h3.2M386.3 379h-3.2M248.3 372.91h1.6M386.3 372.91h-1.6M248.3 366.82h1.6M386.3 366.82h-1.6M248.3 360.74h1.6M386.3 360.74h-1.6M248.3 354.65h3.2M386.3 354.65h-3.2M248.3 348.56h1.6M386.3 348.56h-1.6M248.3 342.48h1.6M386.3 342.48h-1.6M248.3 336.39h1.6M386.3 336.39h-1.6M248.3 330.3h3.2M386.3 330.3h-3.2M248.3 324.21h1.6M386.3 324.21h-1.6M248.3 318.12h1.6M386.3 318.12h-1.6M248.3 312.04h1.6M386.3 312.04h-1.6M248.3 305.95h3.2M386.3 305.95h-3.2M248.3 299.86h1.6M386.3 299.86h-1.6M248.3 293.77h1.6M386.3 293.77h-1.6M248.3 287.69h1.6M386.3 287.69h-1.6M248.3 281.6h3.2M386.3 281.6h-3.2" stroke="#111" stroke-width="1" fill="none"/>
<rect x="248.3" y="281.6" width="138" height="97.4" fill="none" stroke="#111" stroke-width="1.4" stroke-linejoin="round"/>
<text x="248.3" y="394.3" font-size="10" text-anchor="middle" textLength="6.28" lengthAdjust="spacingAndGlyphs">0</text>
<text x="282.8" y="394.3" font-size="10" text-anchor="middle" textLength="18.85" lengthAdjust="spacingAndGlyphs">200</text>
<text x="317.3" y="394.3" font-size="10" text-anchor="middle" textLength="18.85" lengthAdjust="spacingAndGlyphs">400</text>
<text x="351.8" y="394.3" font-size="10" text-anchor="middle" textLength="18.85" lengthAdjust="spacingAndGlyphs">600</text>
<text x="386.3" y="394.3" font-size="10" text-anchor="middle" textLength="18.85" lengthAdjust="spacingAndGlyphs">800</text>
<text x="244.3" y="379.05" font-size="10" text-anchor="end" textLength="6.28" lengthAdjust="spacingAndGlyphs">0</text>
<text x="244.3" y="359.4" font-size="10" text-anchor="end" textLength="12.57" lengthAdjust="spacingAndGlyphs">20</text>
<text x="244.3" y="335.05" font-size="10" text-anchor="end" textLength="12.57" lengthAdjust="spacingAndGlyphs">40</text>
<text x="244.3" y="310.7" font-size="10" text-anchor="end" textLength="12.57" lengthAdjust="spacingAndGlyphs">60</text>
<text x="244.3" y="288.65" font-size="10" text-anchor="end" textLength="12.57" lengthAdjust="spacingAndGlyphs">80</text>
<text x="291.1" y="406.5" font-size="9.4" textLength="30.3" lengthAdjust="spacingAndGlyphs">Period</text>
<text x="327.8" y="406.8" font-size="9.8" textLength="13.5" lengthAdjust="spacingAndGlyphs">(d)</text>
<text x="0" y="0" font-size="9.5" text-anchor="middle" textLength="28.5" lengthAdjust="spacingAndGlyphs" transform="translate(223 330.3) rotate(-90)">Power</text>
<path d="M248.3 379 L248.7 371.69 L249.1 376.56 L249.5 370.48 L249.9 375.35 L250.4 365 L250.8 375.35 L251.3 371.69 L251.7 375.96 L252.2 373.52 L252.7 377.17 L253.3 374.98 L253.9 377.54 L254.7 376.56 L255.5 377.78 L256.5 376.81 L257.6 377.78 L258.3 374.62 L259 377.78 L260.3 377.54 L262.3 378.03 L264.3 377.54 L266.3 374.98 L268.3 377.78 L271.3 377.9 L273.3 377.9 L273.6 377.9 L273.9 377.9 L274.2 377.9 L274.5 377.9 L274.8 377.9 L275.1 377.9 L275.4 377.9 L275.7 377.9 L276 377.9 L276.3 377.9 L276.6 377.89 L276.9 377.89 L277.2 377.89 L277.5 377.89 L277.8 377.89 L278.1 377.88 L278.4 377.88 L278.7 377.88 L279 377.88 L279.3 377.87 L279.6 377.87 L279.9 377.87 L280.2 377.86 L280.5 377.86 L280.8 377.86 L281.1 377.85 L281.4 377.85 L281.7 377.84 L282 377.84 L282.3 377.83 L282.6 377.82 L282.9 377.81 L283.2 377.79 L283.5 377.77 L283.8 377.75 L284.1 377.73 L284.4 377.7 L284.7 377.67 L285 377.64 L285.3 377.61 L285.6 377.57 L285.9 377.53 L286.2 377.49 L286.5 377.45 L286.8 377.4 L287.1 377.35 L287.4 377.3 L287.7 377.24 L288 377.19 L288.3 377.13 L288.6 377.06 L288.9 377 L289.2 376.93 L289.5 376.86 L289.8 376.79 L290.1 376.71 L290.4 376.63 L290.7 376.5 L291 376.33 L291.3 376.13 L291.6 375.88 L291.9 375.6 L292.2 375.29 L292.5 374.94 L292.8 374.56 L293.1 374.14 L293.4 373.7 L293.7 373.23 L294 372.73 L294.3 372.21 L294.6 371.66 L294.9 371.09 L295.2 370.5 L295.5 369.89 L295.8 369.26 L296.1 368.61 L296.4 367.93 L296.7 367.14 L297 366.19 L297.3 365.11 L297.6 363.91 L297.9 362.6 L298.2 361.18 L298.5 359.67 L298.8 358.08 L299.1 356.42 L299.4 354.7 L299.7 352.92 L300 351.11 L300.3 349.27 L300.6 347.42 L300.9 345.55 L301.2 343.69 L301.5 341.71 L301.8 339.49 L302.1 337.09 L302.4 334.55 L302.7 331.93 L303 329.26 L303.3 326.6 L303.6 323.99 L303.9 321.49 L304.2 319.13 L304.5 316.97 L304.8 315.05 L305.1 313.34 L305.4 311.59 L305.7 309.83 L306 308.05 L306.3 306.31 L306.6 304.61 L306.9 302.98 L307.2 301.46 L307.5 300.05 L307.8 298.8 L308.1 297.71 L308.4 296.83 L308.7 296.16 L309 295.75 L309.3 295.6 L309.6 295.74 L309.9 296.14 L310.2 296.77 L310.5 297.61 L310.8 298.61 L311.1 299.75 L311.4 301.01 L311.7 302.35 L312 303.74 L312.3 305.15 L312.6 306.56 L312.9 307.93 L313.2 309.24 L313.5 310.44 L313.8 311.57 L314.1 312.72 L314.4 313.9 L314.7 315.11 L315 316.34 L315.3 317.59 L315.6 318.85 L315.9 320.12 L316.2 321.4 L316.5 322.67 L316.8 323.94 L317.1 325.2 L317.4 326.44 L317.7 327.66 L318 328.85 L318.3 330.02 L318.6 331.15 L318.9 332.24 L319.2 333.28 L319.5 334.28 L319.8 335.22 L320.1 336.11 L320.4 336.94 L320.7 337.75 L321 338.56 L321.3 339.35 L321.6 340.12 L321.9 340.88 L322.2 341.63 L322.5 342.36 L322.8 343.08 L323.1 343.79 L323.4 344.48 L323.7 345.16 L324 345.83 L324.3 346.48 L324.6 347.12 L324.9 347.74 L325.2 348.36 L325.5 348.95 L325.8 349.54 L326.1 350.11 L326.4 350.66 L326.7 351.21 L327 351.74 L327.3 352.25 L327.6 352.75 L327.9 353.24 L328.2 353.72 L328.5 354.18 L328.8 354.63 L329.1 355.06 L329.4 355.49 L329.7 355.91 L330 356.33 L330.3 356.74 L330.6 357.15 L330.9 357.55 L331.2 357.94 L331.5 358.33 L331.8 358.71 L332.1 359.09 L332.4 359.46 L332.7 359.82 L333 360.18 L333.3 360.53 L333.6 360.88 L333.9 361.22 L334.2 361.56 L334.5 361.89 L334.8 362.22 L335.1 362.54 L335.4 362.85 L335.7 363.16 L336 363.47 L336.3 363.76 L336.6 364.06 L336.9 364.35 L337.2 364.63 L337.5 364.91 L337.8 365.18 L338.1 365.44 L338.4 365.71 L338.7 365.96 L339 366.21 L339.3 366.46 L339.6 366.7 L339.9 366.94 L340.2 367.17 L340.5 367.4 L340.8 367.62 L341.1 367.83 L341.4 368.05 L341.7 368.27 L342 368.48 L342.3 368.69 L342.6 368.91 L342.9 369.12 L343.2 369.33 L343.5 369.53 L343.8 369.74 L344.1 369.94 L344.4 370.14 L344.7 370.34 L345 370.54 L345.3 370.73 L345.6 370.93 L345.9 371.12 L346.2 371.31 L346.5 371.49 L346.8 371.68 L347.1 371.86 L347.4 372.04 L347.7 372.22 L348 372.39 L348.3 372.56 L348.6 372.73 L348.9 372.89 L349.2 373.05 L349.5 373.21 L349.8 373.37 L350.1 373.52 L350.4 373.67 L350.7 373.82 L351 373.96 L351.3 374.1 L351.6 374.23 L351.9 374.37 L352.2 374.49 L352.5 374.62 L352.8 374.74 L353.1 374.85 L353.4 374.97 L353.7 375.07 L354 375.18 L354.3 375.28 L354.6 375.37 L354.9 375.47 L355.2 375.55 L355.5 375.63 L355.8 375.71 L356.1 375.79 L356.4 375.86 L356.7 375.94 L357 376.01 L357.3 376.09 L357.6 376.16 L357.9 376.23 L358.2 376.31 L358.5 376.38 L358.8 376.45 L359.1 376.52 L359.4 376.59 L359.7 376.66 L360 376.73 L360.3 376.8 L360.6 376.86 L360.9 376.93 L361.2 376.99 L361.5 377.05 L361.8 377.12 L362.1 377.18 L362.4 377.23 L362.7 377.29 L363 377.35 L363.3 377.4 L363.6 377.45 L363.9 377.5 L364.2 377.55 L364.5 377.6 L364.8 377.64 L365.1 377.68 L365.4 377.72 L365.7 377.76 L366 377.8 L366.3 377.83 L366.6 377.86 L366.9 377.89 L367.2 377.92 L367.5 377.94 L367.8 377.96 L368.1 377.98 L368.4 377.99 L368.7 378.01 L369 378.02 L369.3 378.02 L369.6 378.03" fill="none" stroke="#111" stroke-width="1.3" stroke-linejoin="round"/>
<text x="358.1" y="301.2" font-size="11.5" textLength="14" lengthAdjust="spacingAndGlyphs">(h)</text>
<text x="321.1" y="314.4" font-size="11" textLength="15.5" lengthAdjust="spacingAndGlyphs">Our</text>
<text x="342.8" y="314.4" font-size="11" textLength="34.1" lengthAdjust="spacingAndGlyphs">method</text>
<path d="M451.6 379v-3.2M451.6 281.6v3.2M458.5 379v-1.6M458.5 281.6v1.6M465.4 379v-1.6M465.4 281.6v1.6M472.3 379v-1.6M472.3 281.6v1.6M479.2 379v-1.6M479.2 281.6v1.6M486.1 379v-3.2M486.1 281.6v3.2M493 379v-1.6M493 281.6v1.6M499.9 379v-1.6M499.9 281.6v1.6M506.8 379v-1.6M506.8 281.6v1.6M513.7 379v-1.6M513.7 281.6v1.6M520.6 379v-3.2M520.6 281.6v3.2M527.5 379v-1.6M527.5 281.6v1.6M534.4 379v-1.6M534.4 281.6v1.6M541.3 379v-1.6M541.3 281.6v1.6M548.2 379v-1.6M548.2 281.6v1.6M555.1 379v-3.2M555.1 281.6v3.2M562 379v-1.6M562 281.6v1.6M568.9 379v-1.6M568.9 281.6v1.6M575.8 379v-1.6M575.8 281.6v1.6M582.7 379v-1.6M582.7 281.6v1.6M589.6 379v-3.2M589.6 281.6v3.2M451.6 379h3.2M589.6 379h-3.2M451.6 377.05h1.6M589.6 377.05h-1.6M451.6 375.1h1.6M589.6 375.1h-1.6M451.6 373.16h1.6M589.6 373.16h-1.6M451.6 371.21h1.6M589.6 371.21h-1.6M451.6 369.26h1.6M589.6 369.26h-1.6M451.6 367.31h1.6M589.6 367.31h-1.6M451.6 365.36h1.6M589.6 365.36h-1.6M451.6 363.42h1.6M589.6 363.42h-1.6M451.6 361.47h1.6M589.6 361.47h-1.6M451.6 359.52h3.2M589.6 359.52h-3.2M451.6 357.57h1.6M589.6 357.57h-1.6M451.6 355.62h1.6M589.6 355.62h-1.6M451.6 353.68h1.6M589.6 353.68h-1.6M451.6 351.73h1.6M589.6 351.73h-1.6M451.6 349.78h1.6M589.6 349.78h-1.6M451.6 347.83h1.6M589.6 347.83h-1.6M451.6 345.88h1.6M589.6 345.88h-1.6M451.6 343.94h1.6M589.6 343.94h-1.6M451.6 341.99h1.6M589.6 341.99h-1.6M451.6 340.04h3.2M589.6 340.04h-3.2M451.6 338.09h1.6M589.6 338.09h-1.6M451.6 336.14h1.6M589.6 336.14h-1.6M451.6 334.2h1.6M589.6 334.2h-1.6M451.6 332.25h1.6M589.6 332.25h-1.6M451.6 330.3h1.6M589.6 330.3h-1.6M451.6 328.35h1.6M589.6 328.35h-1.6M451.6 326.4h1.6M589.6 326.4h-1.6M451.6 324.46h1.6M589.6 324.46h-1.6M451.6 322.51h1.6M589.6 322.51h-1.6M451.6 320.56h3.2M589.6 320.56h-3.2M451.6 318.61h1.6M589.6 318.61h-1.6M451.6 316.66h1.6M589.6 316.66h-1.6M451.6 314.72h1.6M589.6 314.72h-1.6M451.6 312.77h1.6M589.6 312.77h-1.6M451.6 310.82h1.6M589.6 310.82h-1.6M451.6 308.87h1.6M589.6 308.87h-1.6M451.6 306.92h1.6M589.6 306.92h-1.6M451.6 304.98h1.6M589.6 304.98h-1.6M451.6 303.03h1.6M589.6 303.03h-1.6M451.6 301.08h3.2M589.6 301.08h-3.2M451.6 299.13h1.6M589.6 299.13h-1.6M451.6 297.18h1.6M589.6 297.18h-1.6M451.6 295.24h1.6M589.6 295.24h-1.6M451.6 293.29h1.6M589.6 293.29h-1.6M451.6 291.34h1.6M589.6 291.34h-1.6M451.6 289.39h1.6M589.6 289.39h-1.6M451.6 287.44h1.6M589.6 287.44h-1.6M451.6 285.5h1.6M589.6 285.5h-1.6M451.6 283.55h1.6M589.6 283.55h-1.6M451.6 281.6h3.2M589.6 281.6h-3.2" stroke="#111" stroke-width="1" fill="none"/>
<rect x="451.6" y="281.6" width="138" height="97.4" fill="none" stroke="#111" stroke-width="1.4" stroke-linejoin="round"/>
<text x="451.6" y="394.3" font-size="10" text-anchor="middle" textLength="15.71" lengthAdjust="spacingAndGlyphs">0.0</text>
<text x="486.1" y="394.3" font-size="10" text-anchor="middle" textLength="15.71" lengthAdjust="spacingAndGlyphs">0.5</text>
<text x="520.6" y="394.3" font-size="10" text-anchor="middle" textLength="15.71" lengthAdjust="spacingAndGlyphs">1.0</text>
<text x="555.1" y="394.3" font-size="10" text-anchor="middle" textLength="15.71" lengthAdjust="spacingAndGlyphs">1.5</text>
<text x="589.6" y="394.3" font-size="10" text-anchor="middle" textLength="15.71" lengthAdjust="spacingAndGlyphs">2.0</text>
<text x="447.6" y="379.05" font-size="10" text-anchor="end" textLength="23" lengthAdjust="spacingAndGlyphs">−0.2</text>
<text x="447.6" y="364.27" font-size="10" text-anchor="end" textLength="23" lengthAdjust="spacingAndGlyphs">−0.1</text>
<text x="447.6" y="344.79" font-size="10" text-anchor="end" textLength="15.71" lengthAdjust="spacingAndGlyphs">0.0</text>
<text x="447.6" y="325.31" font-size="10" text-anchor="end" textLength="15.71" lengthAdjust="spacingAndGlyphs">0.1</text>
<text x="447.6" y="305.83" font-size="10" text-anchor="end" textLength="15.71" lengthAdjust="spacingAndGlyphs">0.2</text>
<text x="447.6" y="288.65" font-size="10" text-anchor="end" textLength="15.71" lengthAdjust="spacingAndGlyphs">0.3</text>
<text x="505.5" y="406.5" font-size="9.4" textLength="29.5" lengthAdjust="spacingAndGlyphs">Phase</text>
<text x="0" y="0" font-size="10.4" textLength="29.4" lengthAdjust="spacingAndGlyphs" transform="translate(415.6 384.55) rotate(-90)">Radial</text>
<text x="0" y="0" font-size="10.4" textLength="36.2" lengthAdjust="spacingAndGlyphs" transform="translate(415.6 348.75) rotate(-90)">Velocity</text>
<text x="0" y="0" font-size="10.4" textLength="29" lengthAdjust="spacing" transform="translate(415.6 305.85) rotate(-90)">(m/s)</text>
<path d="M451.6 329.26 L451.69 329.46 L451.77 329.65 L451.86 329.85 L451.95 330.04 L452.03 330.24 L452.12 330.43 L452.2 330.63 L452.29 330.83 L452.38 331.03 L452.46 331.22 L452.55 331.42 L452.64 331.62 L452.72 331.82 L452.81 332.02 L452.89 332.22 L452.98 332.42 L453.07 332.62 L453.15 332.82 L453.24 333.02 L453.33 333.23 L453.41 333.43 L453.5 333.63 L453.58 333.83 L453.67 334.03 L453.76 334.23 L453.84 334.44 L453.93 334.64 L454.02 334.84 L454.1 335.04 L454.19 335.24 L454.27 335.45 L454.36 335.65 L454.45 335.85 L454.53 336.05 L454.62 336.25 L454.71 336.46 L454.79 336.66 L454.88 336.86 L454.96 337.06 L455.05 337.26 L455.14 337.46 L455.22 337.66 L455.31 337.86 L455.4 338.06 L455.48 338.26 L455.57 338.46 L455.65 338.66 L455.74 338.86 L455.83 339.05 L455.91 339.25 L456 339.45 L456.09 339.65 L456.17 339.84 L456.26 340.04 L456.34 340.23 L456.43 340.43 L456.52 340.62 L456.6 340.82 L456.69 341.01 L456.78 341.2 L456.86 341.39 L456.95 341.59 L457.03 341.78 L457.12 341.97 L457.21 342.16 L457.29 342.34 L457.38 342.53 L457.47 342.72 L457.55 342.91 L457.64 343.09 L457.72 343.28 L457.81 343.46 L457.9 343.65 L457.98 343.83 L458.07 344.01 L458.16 344.2 L458.24 344.38 L458.33 344.56 L458.41 344.74 L458.5 344.91 L458.59 345.09 L458.67 345.27 L458.76 345.44 L458.85 345.62 L458.93 345.79 L459.02 345.97 L459.1 346.14 L459.19 346.31 L459.28 346.48 L459.36 346.65 L459.45 346.82 L459.54 346.99 L459.62 347.16 L459.71 347.32 L459.79 347.49 L459.88 347.65 L459.97 347.81 L460.05 347.98 L460.14 348.14 L460.23 348.3 L460.31 348.46 L460.4 348.62 L460.48 348.77 L460.57 348.93 L460.66 349.08 L460.74 349.24 L460.83 349.39 L460.92 349.54 L461 349.69 L461.09 349.84 L461.17 349.99 L461.26 350.14 L461.35 350.29 L461.43 350.43 L461.52 350.58 L461.61 350.72 L461.69 350.86 L461.78 351.01 L461.86 351.15 L461.95 351.29 L462.04 351.42 L462.12 351.56 L462.21 351.7 L462.3 351.83 L462.38 351.97 L462.47 352.1 L462.55 352.23 L462.64 352.36 L462.73 352.49 L462.81 352.62 L462.9 352.75 L462.99 352.87 L463.07 353 L463.16 353.12 L463.24 353.24 L463.33 353.36 L463.42 353.49 L463.5 353.6 L463.59 353.72 L463.68 353.84 L463.76 353.96 L463.85 354.07 L463.93 354.18 L464.02 354.3 L464.11 354.41 L464.19 354.52 L464.28 354.63 L464.37 354.74 L464.45 354.84 L464.54 354.95 L464.62 355.05 L464.71 355.16 L464.8 355.26 L464.88 355.36 L464.97 355.46 L465.06 355.56 L465.14 355.66 L465.23 355.75 L465.31 355.85 L465.4 355.94 L465.49 356.04 L465.57 356.13 L465.66 356.22 L465.75 356.31 L465.83 356.4 L465.92 356.49 L466 356.57 L466.09 356.66 L466.18 356.74 L466.26 356.83 L466.35 356.91 L466.44 356.99 L466.52 357.07 L466.61 357.15 L466.69 357.23 L466.78 357.3 L466.87 357.38 L466.95 357.45 L467.04 357.52 L467.12 357.6 L467.21 357.67 L467.3 357.74 L467.38 357.81 L467.47 357.87 L467.56 357.94 L467.64 358.01 L467.73 358.07 L467.81 358.13 L467.9 358.2 L467.99 358.26 L468.07 358.32 L468.16 358.38 L468.25 358.43 L468.33 358.49 L468.42 358.55 L468.5 358.6 L468.59 358.66 L468.68 358.71 L468.76 358.76 L468.85 358.81 L468.94 358.86 L469.02 358.91 L469.11 358.95 L469.2 359 L469.28 359.05 L469.37 359.09 L469.45 359.13 L469.54 359.18 L469.63 359.22 L469.71 359.26 L469.8 359.3 L469.89 359.33 L469.97 359.37 L470.06 359.41 L470.14 359.44 L470.23 359.47 L470.32 359.51 L470.4 359.54 L470.49 359.57 L470.58 359.6 L470.66 359.63 L470.75 359.66 L470.83 359.68 L470.92 359.71 L471.01 359.73 L471.09 359.76 L471.18 359.78 L471.27 359.8 L471.35 359.82 L471.44 359.84 L471.52 359.86 L471.61 359.88 L471.7 359.9 L471.78 359.91 L471.87 359.93 L471.96 359.94 L472.04 359.95 L472.13 359.97 L472.21 359.98 L472.3 359.99 L472.39 360 L472.47 360 L472.56 360.01 L472.65 360.02 L472.73 360.02 L472.82 360.03 L472.9 360.03 L472.99 360.03 L473.08 360.04 L473.16 360.04 L473.25 360.04 L473.34 360.04 L473.42 360.03 L473.51 360.03 L473.59 360.03 L473.68 360.02 L473.77 360.02 L473.85 360.01 L473.94 360 L474.03 359.99 L474.11 359.98 L474.2 359.97 L474.28 359.96 L474.37 359.95 L474.46 359.94 L474.54 359.92 L474.63 359.91 L474.72 359.89 L474.8 359.88 L474.89 359.86 L474.97 359.84 L475.06 359.82 L475.15 359.8 L475.23 359.78 L475.32 359.76 L475.41 359.74 L475.49 359.72 L475.58 359.69 L475.66 359.67 L475.75 359.64 L475.84 359.61 L475.92 359.59 L476.01 359.56 L476.1 359.53 L476.18 359.5 L476.27 359.47 L476.35 359.44 L476.44 359.4 L476.53 359.37 L476.61 359.34 L476.7 359.3 L476.79 359.27 L476.87 359.23 L476.96 359.19 L477.04 359.15 L477.13 359.12 L477.22 359.08 L477.3 359.03 L477.39 358.99 L477.48 358.95 L477.56 358.91 L477.65 358.86 L477.73 358.82 L477.82 358.77 L477.91 358.73 L477.99 358.68 L478.08 358.63 L478.17 358.58 L478.25 358.54 L478.34 358.49 L478.42 358.43 L478.51 358.38 L478.6 358.33 L478.68 358.28 L478.77 358.22 L478.86 358.17 L478.94 358.11 L479.03 358.06 L479.11 358 L479.2 357.94 L479.29 357.88 L479.37 357.83 L479.46 357.77 L479.55 357.7 L479.63 357.64 L479.72 357.58 L479.8 357.52 L479.89 357.46 L479.98 357.39 L480.06 357.33 L480.15 357.26 L480.24 357.19 L480.32 357.13 L480.41 357.06 L480.49 356.99 L480.58 356.92 L480.67 356.85 L480.75 356.78 L480.84 356.71 L480.93 356.64 L481.01 356.56 L481.1 356.49 L481.18 356.42 L481.27 356.34 L481.36 356.26 L481.44 356.19 L481.53 356.11 L481.62 356.03 L481.7 355.95 L481.79 355.88 L481.87 355.8 L481.96 355.72 L482.05 355.63 L482.13 355.55 L482.22 355.47 L482.31 355.39 L482.39 355.3 L482.48 355.22 L482.56 355.13 L482.65 355.05 L482.74 354.96 L482.82 354.87 L482.91 354.79 L483 354.7 L483.08 354.61 L483.17 354.52 L483.25 354.43 L483.34 354.34 L483.43 354.25 L483.51 354.15 L483.6 354.06 L483.69 353.97 L483.77 353.87 L483.86 353.78 L483.94 353.68 L484.03 353.59 L484.12 353.49 L484.2 353.39 L484.29 353.29 L484.38 353.19 L484.46 353.1 L484.55 353 L484.63 352.9 L484.72 352.79 L484.81 352.69 L484.89 352.59 L484.98 352.49 L485.06 352.38 L485.15 352.28 L485.24 352.17 L485.32 352.07 L485.41 351.96 L485.5 351.86 L485.58 351.75 L485.67 351.64 L485.75 351.53 L485.84 351.43 L485.93 351.32 L486.01 351.21 L486.1 351.1 L486.19 350.98 L486.27 350.87 L486.36 350.76 L486.45 350.65 L486.53 350.53 L486.62 350.42 L486.7 350.31 L486.79 350.19 L486.88 350.08 L486.96 349.96 L487.05 349.84 L487.14 349.73 L487.22 349.61 L487.31 349.49 L487.39 349.37 L487.48 349.25 L487.57 349.13 L487.65 349.01 L487.74 348.89 L487.83 348.77 L487.91 348.65 L488 348.52 L488.08 348.4 L488.17 348.28 L488.26 348.15 L488.34 348.03 L488.43 347.9 L488.52 347.78 L488.6 347.65 L488.69 347.52 L488.77 347.4 L488.86 347.27 L488.95 347.14 L489.03 347.01 L489.12 346.88 L489.21 346.75 L489.29 346.62 L489.38 346.49 L489.46 346.36 L489.55 346.23 L489.64 346.1 L489.72 345.97 L489.81 345.84 L489.9 345.7 L489.98 345.57 L490.07 345.43 L490.15 345.3 L490.24 345.16 L490.33 345.03 L490.41 344.89 L490.5 344.76 L490.59 344.62 L490.67 344.48 L490.76 344.35 L490.84 344.21 L490.93 344.07 L491.02 343.93 L491.1 343.79 L491.19 343.65 L491.28 343.51 L491.36 343.37 L491.45 343.23 L491.53 343.09 L491.62 342.95 L491.71 342.81 L491.79 342.66 L491.88 342.52 L491.97 342.38 L492.05 342.23 L492.14 342.09 L492.22 341.95 L492.31 341.8 L492.4 341.66 L492.48 341.51 L492.57 341.37 L492.66 341.22 L492.74 341.07 L492.83 340.93 L492.91 340.78 L493 340.63 L493.09 340.49 L493.17 340.34 L493.26 340.19 L493.35 340.04 L493.43 339.89 L493.52 339.75 L493.6 339.6 L493.69 339.45 L493.78 339.3 L493.86 339.15 L493.95 339 L494.04 338.85 L494.12 338.7 L494.21 338.54 L494.29 338.39 L494.38 338.24 L494.47 338.09 L494.55 337.94 L494.64 337.79 L494.73 337.63 L494.81 337.48 L494.9 337.33 L494.98 337.18 L495.07 337.02 L495.16 336.87 L495.24 336.72 L495.33 336.56 L495.42 336.41 L495.5 336.26 L495.59 336.1 L495.67 335.95 L495.76 335.79 L495.85 335.64 L495.93 335.49 L496.02 335.33 L496.11 335.18 L496.19 335.02 L496.28 334.87 L496.36 334.71 L496.45 334.56 L496.54 334.4 L496.62 334.25 L496.71 334.09 L496.8 333.94 L496.88 333.78 L496.97 333.63 L497.05 333.47 L497.14 333.32 L497.23 333.16 L497.31 333.01 L497.4 332.85 L497.49 332.7 L497.57 332.54 L497.66 332.39 L497.74 332.23 L497.83 332.08 L497.92 331.92 L498 331.77 L498.09 331.61 L498.18 331.46 L498.26 331.3 L498.35 331.15 L498.43 330.99 L498.52 330.84 L498.61 330.69 L498.69 330.53 L498.78 330.38 L498.87 330.22 L498.95 330.07 L499.04 329.92 L499.12 329.77 L499.21 329.61 L499.3 329.46 L499.38 329.31 L499.47 329.16 L499.56 329 L499.64 328.85 L499.73 328.7 L499.81 328.55 L499.9 328.4 L499.99 328.25 L500.07 328.1 L500.16 327.95 L500.25 327.8 L500.33 327.65 L500.42 327.5 L500.5 327.36 L500.59 327.21 L500.68 327.06 L500.76 326.91 L500.85 326.77 L500.94 326.62 L501.02 326.48 L501.11 326.33 L501.19 326.19 L501.28 326.04 L501.37 325.9 L501.45 325.76 L501.54 325.61 L501.62 325.47 L501.71 325.33 L501.8 325.19 L501.88 325.05 L501.97 324.91 L502.06 324.77 L502.14 324.63 L502.23 324.49 L502.31 324.36 L502.4 324.22 L502.49 324.08 L502.57 323.95 L502.66 323.82 L502.75 323.68 L502.83 323.55 L502.92 323.42 L503 323.29 L503.09 323.16 L503.18 323.03 L503.26 322.9 L503.35 322.77 L503.44 322.64 L503.52 322.52 L503.61 322.39 L503.7 322.26 L503.78 322.14 L503.87 322.02 L503.95 321.9 L504.04 321.78 L504.13 321.66 L504.21 321.54 L504.3 321.42 L504.39 321.3 L504.47 321.19 L504.56 321.07 L504.64 320.96 L504.73 320.85 L504.82 320.73 L504.9 320.62 L504.99 320.51 L505.08 320.41 L505.16 320.3 L505.25 320.19 L505.33 320.09 L505.42 319.99 L505.51 319.88 L505.59 319.78 L505.68 319.68 L505.77 319.58 L505.85 319.49 L505.94 319.39 L506.02 319.3 L506.11 319.2 L506.2 319.11 L506.28 319.02 L506.37 318.93 L506.46 318.84 L506.54 318.76 L506.63 318.67 L506.71 318.59 L506.8 318.51 L506.89 318.43 L506.97 318.35 L507.06 318.27 L507.15 318.2 L507.23 318.12 L507.32 318.05 L507.4 317.98 L507.49 317.91 L507.58 317.84 L507.66 317.77 L507.75 317.71 L507.84 317.64 L507.92 317.58 L508.01 317.52 L508.09 317.47 L508.18 317.41 L508.27 317.35 L508.35 317.3 L508.44 317.25 L508.53 317.2 L508.61 317.15 L508.7 317.11 L508.78 317.06 L508.87 317.02 L508.96 316.98 L509.04 316.94 L509.13 316.9 L509.22 316.87 L509.3 316.84 L509.39 316.8 L509.47 316.78 L509.56 316.75 L509.65 316.72 L509.73 316.7 L509.82 316.68 L509.91 316.66 L509.99 316.64 L510.08 316.62 L510.16 316.61 L510.25 316.6 L510.34 316.59 L510.42 316.58 L510.51 316.58 L510.6 316.57 L510.68 316.57 L510.77 316.57 L510.85 316.57 L510.94 316.58 L511.03 316.58 L511.11 316.59 L511.2 316.6 L511.29 316.62 L511.37 316.63 L511.46 316.65 L511.54 316.67 L511.63 316.69 L511.72 316.71 L511.8 316.74 L511.89 316.76 L511.98 316.79 L512.06 316.82 L512.15 316.86 L512.23 316.89 L512.32 316.93 L512.41 316.97 L512.49 317.01 L512.58 317.06 L512.66 317.11 L512.75 317.15 L512.84 317.21 L512.92 317.26 L513.01 317.31 L513.1 317.37 L513.18 317.43 L513.27 317.49 L513.36 317.55 L513.44 317.62 L513.53 317.69 L513.61 317.76 L513.7 317.83 L513.79 317.9 L513.87 317.98 L513.96 318.06 L514.05 318.14 L514.13 318.22 L514.22 318.3 L514.3 318.39 L514.39 318.48 L514.48 318.57 L514.56 318.66 L514.65 318.76 L514.74 318.85 L514.82 318.95 L514.91 319.05 L514.99 319.15 L515.08 319.26 L515.17 319.36 L515.25 319.47 L515.34 319.58 L515.43 319.69 L515.51 319.81 L515.6 319.92 L515.68 320.04 L515.77 320.16 L515.86 320.28 L515.94 320.41 L516.03 320.53 L516.12 320.66 L516.2 320.79 L516.29 320.92 L516.37 321.05 L516.46 321.18 L516.55 321.32 L516.63 321.46 L516.72 321.6 L516.81 321.74 L516.89 321.88 L516.98 322.02 L517.06 322.17 L517.15 322.32 L517.24 322.47 L517.32 322.62 L517.41 322.77 L517.5 322.92 L517.58 323.08 L517.67 323.23 L517.75 323.39 L517.84 323.55 L517.93 323.71 L518.01 323.87 L518.1 324.04 L518.19 324.2 L518.27 324.37 L518.36 324.53 L518.44 324.7 L518.53 324.87 L518.62 325.04 L518.7 325.22 L518.79 325.39 L518.88 325.56 L518.96 325.74 L519.05 325.92 L519.13 326.09 L519.22 326.27 L519.31 326.45 L519.39 326.63 L519.48 326.82 L519.57 327 L519.65 327.18 L519.74 327.37 L519.82 327.55 L519.91 327.74 L520 327.93 L520.08 328.12 L520.17 328.31 L520.25 328.5 L520.34 328.69 L520.43 328.88 L520.51 329.07 L520.6 329.26 L520.69 329.46 L520.77 329.65 L520.86 329.85 L520.95 330.04 L521.03 330.24 L521.12 330.43 L521.2 330.63 L521.29 330.83 L521.38 331.03 L521.46 331.22 L521.55 331.42 L521.63 331.62 L521.72 331.82 L521.81 332.02 L521.89 332.22 L521.98 332.42 L522.07 332.62 L522.15 332.82 L522.24 333.02 L522.33 333.23 L522.41 333.43 L522.5 333.63 L522.58 333.83 L522.67 334.03 L522.76 334.23 L522.84 334.44 L522.93 334.64 L523.01 334.84 L523.1 335.04 L523.19 335.24 L523.27 335.45 L523.36 335.65 L523.45 335.85 L523.53 336.05 L523.62 336.25 L523.71 336.46 L523.79 336.66 L523.88 336.86 L523.96 337.06 L524.05 337.26 L524.14 337.46 L524.22 337.66 L524.31 337.86 L524.39 338.06 L524.48 338.26 L524.57 338.46 L524.65 338.66 L524.74 338.86 L524.83 339.05 L524.91 339.25 L525 339.45 L525.09 339.65 L525.17 339.84 L525.26 340.04 L525.34 340.23 L525.43 340.43 L525.52 340.62 L525.6 340.82 L525.69 341.01 L525.77 341.2 L525.86 341.39 L525.95 341.59 L526.03 341.78 L526.12 341.97 L526.21 342.16 L526.29 342.34 L526.38 342.53 L526.47 342.72 L526.55 342.91 L526.64 343.09 L526.72 343.28 L526.81 343.46 L526.9 343.65 L526.98 343.83 L527.07 344.01 L527.15 344.2 L527.24 344.38 L527.33 344.56 L527.41 344.74 L527.5 344.91 L527.59 345.09 L527.67 345.27 L527.76 345.44 L527.85 345.62 L527.93 345.79 L528.02 345.97 L528.1 346.14 L528.19 346.31 L528.28 346.48 L528.36 346.65 L528.45 346.82 L528.54 346.99 L528.62 347.16 L528.71 347.32 L528.79 347.49 L528.88 347.65 L528.97 347.81 L529.05 347.98 L529.14 348.14 L529.23 348.3 L529.31 348.46 L529.4 348.62 L529.48 348.77 L529.57 348.93 L529.66 349.08 L529.74 349.24 L529.83 349.39 L529.91 349.54 L530 349.69 L530.09 349.84 L530.17 349.99 L530.26 350.14 L530.35 350.29 L530.43 350.43 L530.52 350.58 L530.61 350.72 L530.69 350.86 L530.78 351.01 L530.86 351.15 L530.95 351.29 L531.04 351.42 L531.12 351.56 L531.21 351.7 L531.3 351.83 L531.38 351.97 L531.47 352.1 L531.55 352.23 L531.64 352.36 L531.73 352.49 L531.81 352.62 L531.9 352.75 L531.99 352.87 L532.07 353 L532.16 353.12 L532.24 353.24 L532.33 353.36 L532.42 353.49 L532.5 353.6 L532.59 353.72 L532.68 353.84 L532.76 353.96 L532.85 354.07 L532.93 354.18 L533.02 354.3 L533.11 354.41 L533.19 354.52 L533.28 354.63 L533.37 354.74 L533.45 354.84 L533.54 354.95 L533.62 355.05 L533.71 355.16 L533.8 355.26 L533.88 355.36 L533.97 355.46 L534.06 355.56 L534.14 355.66 L534.23 355.75 L534.31 355.85 L534.4 355.94 L534.49 356.04 L534.57 356.13 L534.66 356.22 L534.75 356.31 L534.83 356.4 L534.92 356.49 L535 356.57 L535.09 356.66 L535.18 356.74 L535.26 356.83 L535.35 356.91 L535.44 356.99 L535.52 357.07 L535.61 357.15 L535.69 357.23 L535.78 357.3 L535.87 357.38 L535.95 357.45 L536.04 357.52 L536.12 357.6 L536.21 357.67 L536.3 357.74 L536.38 357.81 L536.47 357.87 L536.56 357.94 L536.64 358.01 L536.73 358.07 L536.82 358.13 L536.9 358.2 L536.99 358.26 L537.07 358.32 L537.16 358.38 L537.25 358.43 L537.33 358.49 L537.42 358.55 L537.5 358.6 L537.59 358.66 L537.68 358.71 L537.76 358.76 L537.85 358.81 L537.94 358.86 L538.02 358.91 L538.11 358.95 L538.2 359 L538.28 359.05 L538.37 359.09 L538.45 359.13 L538.54 359.18 L538.63 359.22 L538.71 359.26 L538.8 359.3 L538.88 359.33 L538.97 359.37 L539.06 359.41 L539.14 359.44 L539.23 359.47 L539.32 359.51 L539.4 359.54 L539.49 359.57 L539.58 359.6 L539.66 359.63 L539.75 359.66 L539.83 359.68 L539.92 359.71 L540.01 359.73 L540.09 359.76 L540.18 359.78 L540.26 359.8 L540.35 359.82 L540.44 359.84 L540.52 359.86 L540.61 359.88 L540.7 359.9 L540.78 359.91 L540.87 359.93 L540.96 359.94 L541.04 359.95 L541.13 359.97 L541.21 359.98 L541.3 359.99 L541.39 360 L541.47 360 L541.56 360.01 L541.64 360.02 L541.73 360.02 L541.82 360.03 L541.9 360.03 L541.99 360.03 L542.08 360.04 L542.16 360.04 L542.25 360.04 L542.34 360.04 L542.42 360.03 L542.51 360.03 L542.59 360.03 L542.68 360.02 L542.77 360.02 L542.85 360.01 L542.94 360 L543.02 359.99 L543.11 359.98 L543.2 359.97 L543.28 359.96 L543.37 359.95 L543.46 359.94 L543.54 359.92 L543.63 359.91 L543.72 359.89 L543.8 359.88 L543.89 359.86 L543.97 359.84 L544.06 359.82 L544.15 359.8 L544.23 359.78 L544.32 359.76 L544.4 359.74 L544.49 359.72 L544.58 359.69 L544.66 359.67 L544.75 359.64 L544.84 359.61 L544.92 359.59 L545.01 359.56 L545.1 359.53 L545.18 359.5 L545.27 359.47 L545.35 359.44 L545.44 359.4 L545.53 359.37 L545.61 359.34 L545.7 359.3 L545.79 359.27 L545.87 359.23 L545.96 359.19 L546.04 359.15 L546.13 359.12 L546.22 359.08 L546.3 359.03 L546.39 358.99 L546.48 358.95 L546.56 358.91 L546.65 358.86 L546.73 358.82 L546.82 358.77 L546.91 358.73 L546.99 358.68 L547.08 358.63 L547.16 358.58 L547.25 358.54 L547.34 358.49 L547.42 358.43 L547.51 358.38 L547.6 358.33 L547.68 358.28 L547.77 358.22 L547.86 358.17 L547.94 358.11 L548.03 358.06 L548.11 358 L548.2 357.94 L548.29 357.88 L548.37 357.83 L548.46 357.77 L548.55 357.7 L548.63 357.64 L548.72 357.58 L548.8 357.52 L548.89 357.46 L548.98 357.39 L549.06 357.33 L549.15 357.26 L549.24 357.19 L549.32 357.13 L549.41 357.06 L549.49 356.99 L549.58 356.92 L549.67 356.85 L549.75 356.78 L549.84 356.71 L549.93 356.64 L550.01 356.56 L550.1 356.49 L550.18 356.42 L550.27 356.34 L550.36 356.26 L550.44 356.19 L550.53 356.11 L550.62 356.03 L550.7 355.95 L550.79 355.88 L550.87 355.8 L550.96 355.72 L551.05 355.63 L551.13 355.55 L551.22 355.47 L551.31 355.39 L551.39 355.3 L551.48 355.22 L551.56 355.13 L551.65 355.05 L551.74 354.96 L551.82 354.87 L551.91 354.79 L552 354.7 L552.08 354.61 L552.17 354.52 L552.25 354.43 L552.34 354.34 L552.43 354.25 L552.51 354.15 L552.6 354.06 L552.69 353.97 L552.77 353.87 L552.86 353.78 L552.94 353.68 L553.03 353.59 L553.12 353.49 L553.2 353.39 L553.29 353.29 L553.38 353.19 L553.46 353.1 L553.55 353 L553.63 352.9 L553.72 352.79 L553.81 352.69 L553.89 352.59 L553.98 352.49 L554.07 352.38 L554.15 352.28 L554.24 352.17 L554.32 352.07 L554.41 351.96 L554.5 351.86 L554.58 351.75 L554.67 351.64 L554.75 351.53 L554.84 351.43 L554.93 351.32 L555.01 351.21 L555.1 351.1 L555.19 350.98 L555.27 350.87 L555.36 350.76 L555.45 350.65 L555.53 350.53 L555.62 350.42 L555.7 350.31 L555.79 350.19 L555.88 350.08 L555.96 349.96 L556.05 349.84 L556.13 349.73 L556.22 349.61 L556.31 349.49 L556.39 349.37 L556.48 349.25 L556.57 349.13 L556.65 349.01 L556.74 348.89 L556.83 348.77 L556.91 348.65 L557 348.52 L557.08 348.4 L557.17 348.28 L557.26 348.15 L557.34 348.03 L557.43 347.9 L557.51 347.78 L557.6 347.65 L557.69 347.52 L557.77 347.4 L557.86 347.27 L557.95 347.14 L558.03 347.01 L558.12 346.88 L558.21 346.75 L558.29 346.62 L558.38 346.49 L558.46 346.36 L558.55 346.23 L558.64 346.1 L558.72 345.97 L558.81 345.84 L558.89 345.7 L558.98 345.57 L559.07 345.43 L559.15 345.3 L559.24 345.16 L559.33 345.03 L559.41 344.89 L559.5 344.76 L559.59 344.62 L559.67 344.48 L559.76 344.35 L559.84 344.21 L559.93 344.07 L560.02 343.93 L560.1 343.79 L560.19 343.65 L560.27 343.51 L560.36 343.37 L560.45 343.23 L560.53 343.09 L560.62 342.95 L560.71 342.81 L560.79 342.66 L560.88 342.52 L560.97 342.38 L561.05 342.23 L561.14 342.09 L561.22 341.95 L561.31 341.8 L561.4 341.66 L561.48 341.51 L561.57 341.37 L561.65 341.22 L561.74 341.07 L561.83 340.93 L561.91 340.78 L562 340.63 L562.09 340.49 L562.17 340.34 L562.26 340.19 L562.35 340.04 L562.43 339.89 L562.52 339.75 L562.6 339.6 L562.69 339.45 L562.78 339.3 L562.86 339.15 L562.95 339 L563.04 338.85 L563.12 338.7 L563.21 338.54 L563.29 338.39 L563.38 338.24 L563.47 338.09 L563.55 337.94 L563.64 337.79 L563.73 337.63 L563.81 337.48 L563.9 337.33 L563.98 337.18 L564.07 337.02 L564.16 336.87 L564.24 336.72 L564.33 336.56 L564.41 336.41 L564.5 336.26 L564.59 336.1 L564.67 335.95 L564.76 335.79 L564.85 335.64 L564.93 335.49 L565.02 335.33 L565.11 335.18 L565.19 335.02 L565.28 334.87 L565.36 334.71 L565.45 334.56 L565.54 334.4 L565.62 334.25 L565.71 334.09 L565.8 333.94 L565.88 333.78 L565.97 333.63 L566.05 333.47 L566.14 333.32 L566.23 333.16 L566.31 333.01 L566.4 332.85 L566.49 332.7 L566.57 332.54 L566.66 332.39 L566.74 332.23 L566.83 332.08 L566.92 331.92 L567 331.77 L567.09 331.61 L567.18 331.46 L567.26 331.3 L567.35 331.15 L567.43 330.99 L567.52 330.84 L567.61 330.69 L567.69 330.53 L567.78 330.38 L567.87 330.22 L567.95 330.07 L568.04 329.92 L568.12 329.77 L568.21 329.61 L568.3 329.46 L568.38 329.31 L568.47 329.16 L568.56 329 L568.64 328.85 L568.73 328.7 L568.81 328.55 L568.9 328.4 L568.99 328.25 L569.07 328.1 L569.16 327.95 L569.25 327.8 L569.33 327.65 L569.42 327.5 L569.5 327.36 L569.59 327.21 L569.68 327.06 L569.76 326.91 L569.85 326.77 L569.94 326.62 L570.02 326.48 L570.11 326.33 L570.19 326.19 L570.28 326.04 L570.37 325.9 L570.45 325.76 L570.54 325.61 L570.62 325.47 L570.71 325.33 L570.8 325.19 L570.88 325.05 L570.97 324.91 L571.06 324.77 L571.14 324.63 L571.23 324.49 L571.32 324.36 L571.4 324.22 L571.49 324.08 L571.57 323.95 L571.66 323.82 L571.75 323.68 L571.83 323.55 L571.92 323.42 L572 323.29 L572.09 323.16 L572.18 323.03 L572.26 322.9 L572.35 322.77 L572.44 322.64 L572.52 322.52 L572.61 322.39 L572.7 322.26 L572.78 322.14 L572.87 322.02 L572.95 321.9 L573.04 321.78 L573.13 321.66 L573.21 321.54 L573.3 321.42 L573.38 321.3 L573.47 321.19 L573.56 321.07 L573.64 320.96 L573.73 320.85 L573.82 320.73 L573.9 320.62 L573.99 320.51 L574.08 320.41 L574.16 320.3 L574.25 320.19 L574.33 320.09 L574.42 319.99 L574.51 319.88 L574.59 319.78 L574.68 319.68 L574.76 319.58 L574.85 319.49 L574.94 319.39 L575.02 319.3 L575.11 319.2 L575.2 319.11 L575.28 319.02 L575.37 318.93 L575.46 318.84 L575.54 318.76 L575.63 318.67 L575.71 318.59 L575.8 318.51 L575.89 318.43 L575.97 318.35 L576.06 318.27 L576.14 318.2 L576.23 318.12 L576.32 318.05 L576.4 317.98 L576.49 317.91 L576.58 317.84 L576.66 317.77 L576.75 317.71 L576.84 317.64 L576.92 317.58 L577.01 317.52 L577.09 317.47 L577.18 317.41 L577.27 317.35 L577.35 317.3 L577.44 317.25 L577.52 317.2 L577.61 317.15 L577.7 317.11 L577.78 317.06 L577.87 317.02 L577.96 316.98 L578.04 316.94 L578.13 316.9 L578.22 316.87 L578.3 316.84 L578.39 316.8 L578.47 316.78 L578.56 316.75 L578.65 316.72 L578.73 316.7 L578.82 316.68 L578.9 316.66 L578.99 316.64 L579.08 316.62 L579.16 316.61 L579.25 316.6 L579.34 316.59 L579.42 316.58 L579.51 316.58 L579.6 316.57 L579.68 316.57 L579.77 316.57 L579.85 316.57 L579.94 316.58 L580.03 316.58 L580.11 316.59 L580.2 316.6 L580.29 316.62 L580.37 316.63 L580.46 316.65 L580.54 316.67 L580.63 316.69 L580.72 316.71 L580.8 316.74 L580.89 316.76 L580.98 316.79 L581.06 316.82 L581.15 316.86 L581.23 316.89 L581.32 316.93 L581.41 316.97 L581.49 317.01 L581.58 317.06 L581.66 317.11 L581.75 317.15 L581.84 317.21 L581.92 317.26 L582.01 317.31 L582.1 317.37 L582.18 317.43 L582.27 317.49 L582.36 317.55 L582.44 317.62 L582.53 317.69 L582.61 317.76 L582.7 317.83 L582.79 317.9 L582.87 317.98 L582.96 318.06 L583.05 318.14 L583.13 318.22 L583.22 318.3 L583.3 318.39 L583.39 318.48 L583.48 318.57 L583.56 318.66 L583.65 318.76 L583.74 318.85 L583.82 318.95 L583.91 319.05 L583.99 319.15 L584.08 319.26 L584.17 319.36 L584.25 319.47 L584.34 319.58 L584.43 319.69 L584.51 319.81 L584.6 319.92 L584.68 320.04 L584.77 320.16 L584.86 320.28 L584.94 320.41 L585.03 320.53 L585.12 320.66 L585.2 320.79 L585.29 320.92 L585.37 321.05 L585.46 321.18 L585.55 321.32 L585.63 321.46 L585.72 321.6 L585.81 321.74 L585.89 321.88 L585.98 322.02 L586.06 322.17 L586.15 322.32 L586.24 322.47 L586.32 322.62 L586.41 322.77 L586.5 322.92 L586.58 323.08 L586.67 323.23 L586.75 323.39 L586.84 323.55 L586.93 323.71 L587.01 323.87 L587.1 324.04 L587.19 324.2 L587.27 324.37 L587.36 324.53 L587.44 324.7 L587.53 324.87 L587.62 325.04 L587.7 325.22 L587.79 325.39 L587.88 325.56 L587.96 325.74 L588.05 325.92 L588.13 326.09 L588.22 326.27 L588.31 326.45 L588.39 326.63 L588.48 326.82 L588.57 327 L588.65 327.18 L588.74 327.37 L588.82 327.55 L588.91 327.74 L589 327.93 L589.08 328.12 L589.17 328.31 L589.25 328.5 L589.34 328.69 L589.43 328.88 L589.51 329.07 L589.6 329.26" fill="none" stroke="#111" stroke-width="1.7" stroke-linejoin="round"/>
<path d="M452 298V352M521 298V352M453.4 303V348M522.4 303V348M454.4 305.5V356M523.4 305.5V356M455.4 311.7V358.6M524.4 311.7V358.6M456.3 315V352M525.3 315V352M457.8 329.3V368.4M526.8 329.3V368.4M459.1 320.3V372M528.1 320.3V372M460.1 319.5V352.7M529.1 319.5V352.7M461.7 343V374.2M530.7 343V374.2M463.2 325V378M532.2 325V378M464 325.4V366.4M533 325.4V366.4M465.8 327.7V360M534.8 327.7V360M466.4 328V378M535.4 328V378M466.9 339V358.6M535.9 339V358.6M468.6 335.2V378.1M537.6 335.2V378.1M471 346.9V379M540 346.9V379M471.8 337.1V379M540.8 337.1V379M472.6 337V379M541.6 337V379M473.4 339V379M542.4 339V379M474.2 339V379M543.2 339V379M475 340V379M544 340V379M475.9 340V379M544.9 340V379M476.8 341V379M545.8 341V379M479.25 343V370.3M548.25 343V370.3M480 340V378M549 340V378M480.8 341.8V365M549.8 341.8V365M481.6 331.25V356.6M550.6 331.25V356.6M484.8 330V372M553.8 330V372M485.6 327.3V374.2M554.6 327.3V374.2M486.9 325V370M555.9 325V370M487.6 339V366.4M556.6 339V366.4M490 323.4V354.7M559 323.4V354.7M491.8 306.5V361.6M560.8 306.5V361.6M492.9 315.6V350.8M561.9 315.6V350.8M494.6 306.5V350.5M563.6 306.5V350.5M495.9 305.9V339M564.9 305.9V339M497.3 308.3V343.2M566.3 308.3V343.2M499.3 310.2V352.4M568.3 310.2V352.4M500.2 310V356M569.2 310V356M501.1 310V360.2M570.1 310V360.2M502 309.3V350M571 309.3V350M503 311V352M572 311V352M507.3 281.6V307.3M576.3 281.6V307.3M511.1 301V346.9M580.1 301V346.9M512.9 283V350.5M581.9 283V350.5M514.8 289.6V341.4M583.8 289.6V341.4M516.6 304.7V345M585.6 304.7V345M519.4 286.5V335.9M588.4 286.5V335.9M509.9 296V336M578.9 296V336M517.8 292V331M586.8 292V331M520.3 298V342M589.3 298V342" stroke="#151515" stroke-width="1.35" fill="none"/>
<g fill="#111"><circle cx="452" cy="325" r="1.2"/><circle cx="521" cy="325" r="1.2"/><circle cx="453.4" cy="325.5" r="1.2"/><circle cx="522.4" cy="325.5" r="1.2"/><circle cx="454.4" cy="330.75" r="1.2"/><circle cx="523.4" cy="330.75" r="1.2"/><circle cx="455.4" cy="335.15" r="1.2"/><circle cx="524.4" cy="335.15" r="1.2"/><circle cx="456.3" cy="333.5" r="1.2"/><circle cx="525.3" cy="333.5" r="1.2"/><circle cx="457.8" cy="348.85" r="1.2"/><circle cx="526.8" cy="348.85" r="1.2"/><circle cx="459.1" cy="346.15" r="1.2"/><circle cx="528.1" cy="346.15" r="1.2"/><circle cx="460.1" cy="336.1" r="1.2"/><circle cx="529.1" cy="336.1" r="1.2"/><circle cx="461.7" cy="358.6" r="1.2"/><circle cx="530.7" cy="358.6" r="1.2"/><circle cx="463.2" cy="351.5" r="1.2"/><circle cx="532.2" cy="351.5" r="1.2"/><circle cx="464" cy="345.9" r="1.2"/><circle cx="533" cy="345.9" r="1.2"/><circle cx="465.8" cy="343.85" r="1.2"/><circle cx="534.8" cy="343.85" r="1.2"/><circle cx="466.4" cy="353" r="1.2"/><circle cx="535.4" cy="353" r="1.2"/><circle cx="466.9" cy="348.8" r="1.2"/><circle cx="535.9" cy="348.8" r="1.2"/><circle cx="468.6" cy="356.65" r="1.2"/><circle cx="537.6" cy="356.65" r="1.2"/><circle cx="471" cy="362.95" r="1.2"/><circle cx="540" cy="362.95" r="1.2"/><circle cx="471.8" cy="358.05" r="1.2"/><circle cx="540.8" cy="358.05" r="1.2"/><circle cx="472.6" cy="358" r="1.2"/><circle cx="541.6" cy="358" r="1.2"/><circle cx="473.4" cy="359" r="1.2"/><circle cx="542.4" cy="359" r="1.2"/><circle cx="474.2" cy="359" r="1.2"/><circle cx="543.2" cy="359" r="1.2"/><circle cx="475" cy="359.5" r="1.2"/><circle cx="544" cy="359.5" r="1.2"/><circle cx="475.9" cy="359.5" r="1.2"/><circle cx="544.9" cy="359.5" r="1.2"/><circle cx="476.8" cy="360" r="1.2"/><circle cx="545.8" cy="360" r="1.2"/><circle cx="479.25" cy="356.65" r="1.2"/><circle cx="548.25" cy="356.65" r="1.2"/><circle cx="480" cy="359" r="1.2"/><circle cx="549" cy="359" r="1.2"/><circle cx="480.8" cy="353.4" r="1.2"/><circle cx="549.8" cy="353.4" r="1.2"/><circle cx="481.6" cy="343.93" r="1.2"/><circle cx="550.6" cy="343.93" r="1.2"/><circle cx="484.8" cy="351" r="1.2"/><circle cx="553.8" cy="351" r="1.2"/><circle cx="485.6" cy="350.75" r="1.2"/><circle cx="554.6" cy="350.75" r="1.2"/><circle cx="486.9" cy="347.5" r="1.2"/><circle cx="555.9" cy="347.5" r="1.2"/><circle cx="487.6" cy="352.7" r="1.2"/><circle cx="556.6" cy="352.7" r="1.2"/><circle cx="490" cy="339.05" r="1.2"/><circle cx="559" cy="339.05" r="1.2"/><circle cx="491.8" cy="334.05" r="1.2"/><circle cx="560.8" cy="334.05" r="1.2"/><circle cx="492.9" cy="333.2" r="1.2"/><circle cx="561.9" cy="333.2" r="1.2"/><circle cx="494.6" cy="328.5" r="1.2"/><circle cx="563.6" cy="328.5" r="1.2"/><circle cx="495.9" cy="322.45" r="1.2"/><circle cx="564.9" cy="322.45" r="1.2"/><circle cx="497.3" cy="325.75" r="1.2"/><circle cx="566.3" cy="325.75" r="1.2"/><circle cx="499.3" cy="331.3" r="1.2"/><circle cx="568.3" cy="331.3" r="1.2"/><circle cx="500.2" cy="333" r="1.2"/><circle cx="569.2" cy="333" r="1.2"/><circle cx="501.1" cy="335.1" r="1.2"/><circle cx="570.1" cy="335.1" r="1.2"/><circle cx="502" cy="329.65" r="1.2"/><circle cx="571" cy="329.65" r="1.2"/><circle cx="503" cy="331.5" r="1.2"/><circle cx="572" cy="331.5" r="1.2"/><circle cx="507.3" cy="288.6" r="1.2"/><circle cx="576.3" cy="288.6" r="1.2"/><circle cx="511.1" cy="323.95" r="1.2"/><circle cx="580.1" cy="323.95" r="1.2"/><circle cx="512.9" cy="316.75" r="1.2"/><circle cx="581.9" cy="316.75" r="1.2"/><circle cx="514.8" cy="315.5" r="1.2"/><circle cx="583.8" cy="315.5" r="1.2"/><circle cx="516.6" cy="324.85" r="1.2"/><circle cx="585.6" cy="324.85" r="1.2"/><circle cx="519.4" cy="311.2" r="1.2"/><circle cx="588.4" cy="311.2" r="1.2"/><circle cx="509.9" cy="316" r="1.2"/><circle cx="578.9" cy="316" r="1.2"/><circle cx="517.8" cy="311.5" r="1.2"/><circle cx="586.8" cy="311.5" r="1.2"/><circle cx="520.3" cy="320" r="1.2"/><circle cx="589.3" cy="320" r="1.2"/></g>
<text x="465" y="291.4" font-size="6" font-weight="bold" textLength="30" lengthAdjust="spacingAndGlyphs" fill="#2a2a2a">P=355.8 d</text>
<text x="465" y="299.2" font-size="6" font-weight="bold" textLength="35.2" lengthAdjust="spacingAndGlyphs" fill="#2a2a2a">K=0.11 m/s</text>
<text x="465" y="307" font-size="6" font-weight="bold" textLength="20" lengthAdjust="spacingAndGlyphs" fill="#2a2a2a">e=0.10</text>
<text x="465" y="314.8" font-size="6" font-weight="bold" textLength="41.7" lengthAdjust="spacingAndGlyphs" fill="#2a2a2a">RMS=0.05 m/s</text>
<text x="565" y="300.6" font-size="11.5" textLength="9.2" lengthAdjust="spacingAndGlyphs">(i)</text>
</svg></body></html>
